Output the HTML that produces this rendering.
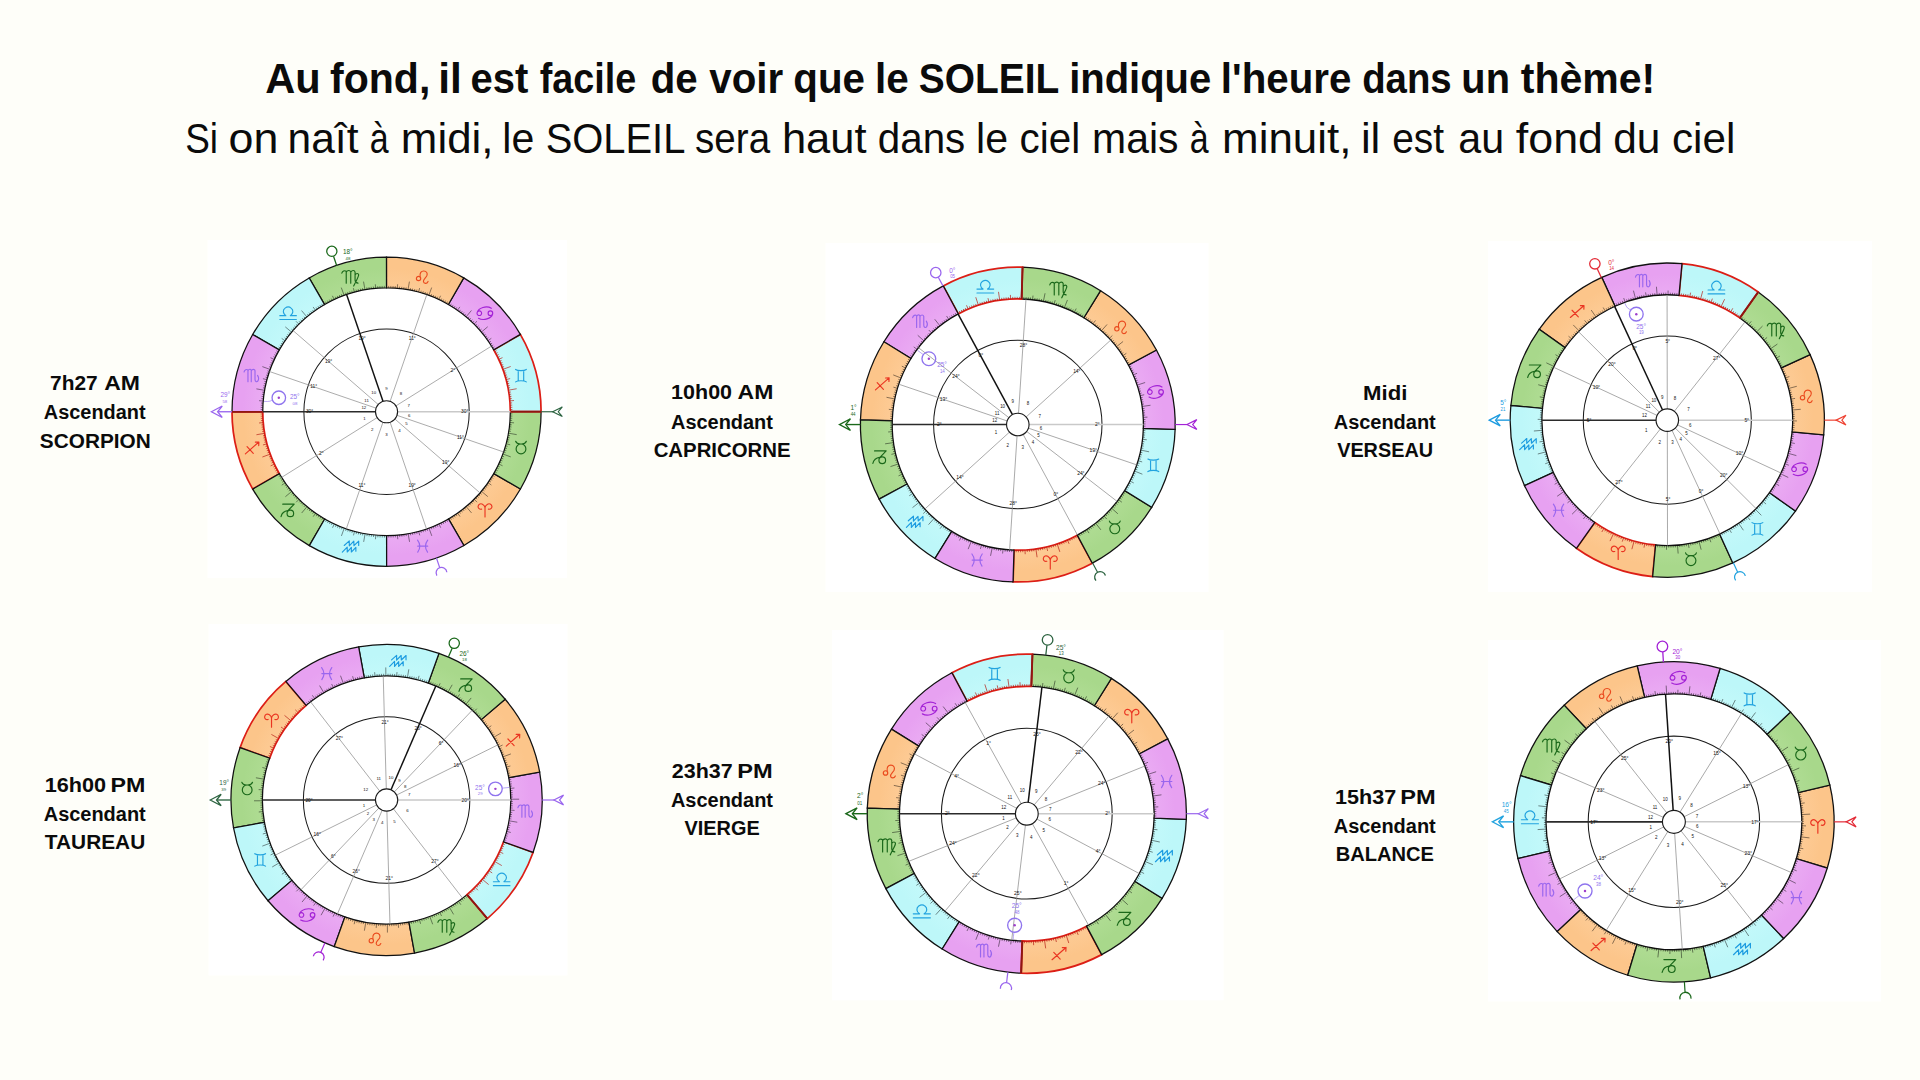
<!DOCTYPE html>
<html lang="fr"><head><meta charset="utf-8"><title>Le SOLEIL indique l'heure dans un thème</title>
<style>html,body{margin:0;padding:0;background:#fefef9}body{width:1920px;height:1080px;overflow:hidden;position:relative;font-family:"Liberation Sans",Arial,sans-serif}svg{position:absolute;left:0;top:0;display:block}text{white-space:pre}</style></head><body>
<svg width="1920" height="1080" viewBox="0 0 1920 1080">
<defs><radialGradient id="gf1" gradientUnits="userSpaceOnUse" cx="386.55" cy="411.75" r="154.55"><stop offset="0.80" stop-color="#fdcb95"/><stop offset="0.93" stop-color="#fcc58a"/><stop offset="1" stop-color="#fcc58a"/></radialGradient><radialGradient id="ge1" gradientUnits="userSpaceOnUse" cx="386.55" cy="411.75" r="154.55"><stop offset="0.80" stop-color="#afdc93"/><stop offset="0.93" stop-color="#a8d88b"/><stop offset="1" stop-color="#a8d88b"/></radialGradient><radialGradient id="ga1" gradientUnits="userSpaceOnUse" cx="386.55" cy="411.75" r="154.55"><stop offset="0.80" stop-color="#c3f9fa"/><stop offset="0.93" stop-color="#bdf7f9"/><stop offset="1" stop-color="#bdf7f9"/></radialGradient><radialGradient id="gw1" gradientUnits="userSpaceOnUse" cx="386.55" cy="411.75" r="154.55"><stop offset="0.80" stop-color="#eaabf3"/><stop offset="0.93" stop-color="#e7a1f1"/><stop offset="1" stop-color="#e7a1f1"/></radialGradient><radialGradient id="gf2" gradientUnits="userSpaceOnUse" cx="1017.8" cy="424.55" r="157.4"><stop offset="0.80" stop-color="#fdcb95"/><stop offset="0.93" stop-color="#fcc58a"/><stop offset="1" stop-color="#fcc58a"/></radialGradient><radialGradient id="ge2" gradientUnits="userSpaceOnUse" cx="1017.8" cy="424.55" r="157.4"><stop offset="0.80" stop-color="#afdc93"/><stop offset="0.93" stop-color="#a8d88b"/><stop offset="1" stop-color="#a8d88b"/></radialGradient><radialGradient id="ga2" gradientUnits="userSpaceOnUse" cx="1017.8" cy="424.55" r="157.4"><stop offset="0.80" stop-color="#c3f9fa"/><stop offset="0.93" stop-color="#bdf7f9"/><stop offset="1" stop-color="#bdf7f9"/></radialGradient><radialGradient id="gw2" gradientUnits="userSpaceOnUse" cx="1017.8" cy="424.55" r="157.4"><stop offset="0.80" stop-color="#eaabf3"/><stop offset="0.93" stop-color="#e7a1f1"/><stop offset="1" stop-color="#e7a1f1"/></radialGradient><radialGradient id="gf3" gradientUnits="userSpaceOnUse" cx="1667.3" cy="420.15" r="157.1"><stop offset="0.80" stop-color="#fdcb95"/><stop offset="0.93" stop-color="#fcc58a"/><stop offset="1" stop-color="#fcc58a"/></radialGradient><radialGradient id="ge3" gradientUnits="userSpaceOnUse" cx="1667.3" cy="420.15" r="157.1"><stop offset="0.80" stop-color="#afdc93"/><stop offset="0.93" stop-color="#a8d88b"/><stop offset="1" stop-color="#a8d88b"/></radialGradient><radialGradient id="ga3" gradientUnits="userSpaceOnUse" cx="1667.3" cy="420.15" r="157.1"><stop offset="0.80" stop-color="#c3f9fa"/><stop offset="0.93" stop-color="#bdf7f9"/><stop offset="1" stop-color="#bdf7f9"/></radialGradient><radialGradient id="gw3" gradientUnits="userSpaceOnUse" cx="1667.3" cy="420.15" r="157.1"><stop offset="0.80" stop-color="#eaabf3"/><stop offset="0.93" stop-color="#e7a1f1"/><stop offset="1" stop-color="#e7a1f1"/></radialGradient><radialGradient id="gf4" gradientUnits="userSpaceOnUse" cx="386.6" cy="800" r="155.6"><stop offset="0.80" stop-color="#fdcb95"/><stop offset="0.93" stop-color="#fcc58a"/><stop offset="1" stop-color="#fcc58a"/></radialGradient><radialGradient id="ge4" gradientUnits="userSpaceOnUse" cx="386.6" cy="800" r="155.6"><stop offset="0.80" stop-color="#afdc93"/><stop offset="0.93" stop-color="#a8d88b"/><stop offset="1" stop-color="#a8d88b"/></radialGradient><radialGradient id="ga4" gradientUnits="userSpaceOnUse" cx="386.6" cy="800" r="155.6"><stop offset="0.80" stop-color="#c3f9fa"/><stop offset="0.93" stop-color="#bdf7f9"/><stop offset="1" stop-color="#bdf7f9"/></radialGradient><radialGradient id="gw4" gradientUnits="userSpaceOnUse" cx="386.6" cy="800" r="155.6"><stop offset="0.80" stop-color="#eaabf3"/><stop offset="0.93" stop-color="#e7a1f1"/><stop offset="1" stop-color="#e7a1f1"/></radialGradient><radialGradient id="gf5" gradientUnits="userSpaceOnUse" cx="1026.8" cy="813.7" r="159.6"><stop offset="0.80" stop-color="#fdcb95"/><stop offset="0.93" stop-color="#fcc58a"/><stop offset="1" stop-color="#fcc58a"/></radialGradient><radialGradient id="ge5" gradientUnits="userSpaceOnUse" cx="1026.8" cy="813.7" r="159.6"><stop offset="0.80" stop-color="#afdc93"/><stop offset="0.93" stop-color="#a8d88b"/><stop offset="1" stop-color="#a8d88b"/></radialGradient><radialGradient id="ga5" gradientUnits="userSpaceOnUse" cx="1026.8" cy="813.7" r="159.6"><stop offset="0.80" stop-color="#c3f9fa"/><stop offset="0.93" stop-color="#bdf7f9"/><stop offset="1" stop-color="#bdf7f9"/></radialGradient><radialGradient id="gw5" gradientUnits="userSpaceOnUse" cx="1026.8" cy="813.7" r="159.6"><stop offset="0.80" stop-color="#eaabf3"/><stop offset="0.93" stop-color="#e7a1f1"/><stop offset="1" stop-color="#e7a1f1"/></radialGradient><radialGradient id="gf6" gradientUnits="userSpaceOnUse" cx="1673.9" cy="821.85" r="160.2"><stop offset="0.80" stop-color="#fdcb95"/><stop offset="0.93" stop-color="#fcc58a"/><stop offset="1" stop-color="#fcc58a"/></radialGradient><radialGradient id="ge6" gradientUnits="userSpaceOnUse" cx="1673.9" cy="821.85" r="160.2"><stop offset="0.80" stop-color="#afdc93"/><stop offset="0.93" stop-color="#a8d88b"/><stop offset="1" stop-color="#a8d88b"/></radialGradient><radialGradient id="ga6" gradientUnits="userSpaceOnUse" cx="1673.9" cy="821.85" r="160.2"><stop offset="0.80" stop-color="#c3f9fa"/><stop offset="0.93" stop-color="#bdf7f9"/><stop offset="1" stop-color="#bdf7f9"/></radialGradient><radialGradient id="gw6" gradientUnits="userSpaceOnUse" cx="1673.9" cy="821.85" r="160.2"><stop offset="0.80" stop-color="#eaabf3"/><stop offset="0.93" stop-color="#e7a1f1"/><stop offset="1" stop-color="#e7a1f1"/></radialGradient></defs>
<rect width="1920" height="1080" fill="#fefef9"/>
<g id="chart1">
<rect x="207.5" y="240" width="359.5" height="338" fill="#fff"/>
<circle cx="386.55" cy="411.75" r="154.55" fill="#fff"/>
<path d="M463.9,545.55A154.55,154.55 0 0 0 520.43,488.95L493.79,473.59A123.79,123.79 0 0 1 448.5,518.93Z" fill="url(#gf1)" stroke="#111" stroke-width="1.26" stroke-linejoin="miter"/>
<path d="M450.36,517.83L451.44,519.62M452.21,516.7L453.31,518.47M454.03,515.54L455.16,517.29M455.83,514.34L457,516.07M457.61,513.12L460,516.54M459.37,511.86L460.59,513.55M461.1,510.58L462.36,512.24M462.82,509.26L464.1,510.9M464.51,507.92L465.82,509.54M466.17,506.54L471.54,512.93M467.82,505.14L469.19,506.71M469.43,503.7L470.83,505.25M471.03,502.24L472.45,503.77M472.59,500.76L474.04,502.26M474.13,499.24L477.08,502.19M475.65,497.7L477.15,499.15M477.13,496.13L478.66,497.55M478.59,494.54L480.14,495.93M480.02,492.92L481.6,494.29M481.42,491.27L487.82,496.64M482.8,489.61L484.42,490.92M484.14,487.91L485.79,489.2M485.46,486.2L487.12,487.45M486.74,484.46L488.43,485.69M487.99,482.7L491.41,485.09M489.22,480.92L490.95,482.09M490.41,479.12L492.16,480.25M491.57,477.3L493.34,478.4M492.7,475.45L494.48,476.53" fill="none" stroke="#000" stroke-opacity="0.62" stroke-width="0.72"/>
<path d="M520.43,488.95A154.55,154.55 0 0 0 541.1,411.67L510.34,411.69A123.79,123.79 0 0 1 493.79,473.59Z" fill="url(#ge1)" stroke="#111" stroke-width="1.26" stroke-linejoin="miter"/>
<path d="M494.85,471.71L496.68,472.72M495.88,469.81L497.73,470.79M496.88,467.89L498.74,468.84M497.84,465.96L499.72,466.87M498.77,464.01L502.56,465.77M499.67,462.04L501.57,462.89M500.53,460.06L502.45,460.87M501.35,458.06L503.29,458.84M502.15,456.05L504.09,456.8M502.9,454.03L510.74,456.88M503.62,451.99L505.59,452.67M504.31,449.94L506.29,450.59M504.95,447.88L506.95,448.49M505.57,445.81L507.57,446.38M506.14,443.73L510.17,444.81M506.68,441.64L508.71,442.14M507.19,439.53L509.22,440M507.65,437.42L509.69,437.86M508.08,435.31L510.13,435.7M508.48,433.18L516.69,434.63M508.83,431.05L510.89,431.38M509.15,428.91L511.22,429.2M509.43,426.77L511.5,427.03M509.67,424.63L511.75,424.84M509.88,422.47L514.04,422.84M510.05,420.32L512.13,420.47M510.18,418.16L512.26,418.27M510.27,416.01L512.36,416.08M510.33,413.85L512.41,413.88" fill="none" stroke="#000" stroke-opacity="0.62" stroke-width="0.72"/>
<path d="M541.1,411.67A154.55,154.55 0 0 0 520.35,334.4L493.73,349.8A123.79,123.79 0 0 1 510.34,411.69Z" fill="url(#ga1)" stroke="#dc1e16" stroke-width="1.74" stroke-linejoin="miter"/>
<path d="M510.32,409.52L512.41,409.49M510.27,407.36L512.35,407.29M510.17,405.21L512.25,405.1M510.04,403.05L512.12,402.9M509.87,400.9L514.02,400.53M509.66,398.75L511.73,398.53M509.41,396.6L511.48,396.34M509.13,394.46L511.2,394.17M508.81,392.32L510.87,391.99M508.45,390.19L516.67,388.74M508.06,388.07L510.11,387.67M507.63,385.95L509.67,385.51M507.16,383.84L509.19,383.37M506.65,381.74L508.68,381.23M506.11,379.65L510.14,378.56M505.53,377.57L507.54,376.99M504.92,375.49L506.91,374.88M504.27,373.43L506.25,372.79M503.58,371.39L505.55,370.7M502.86,369.35L510.7,366.49M502.1,367.33L504.05,366.58M501.31,365.32L503.24,364.53M500.48,363.32L502.4,362.5M499.62,361.34L501.52,360.49M498.72,359.37L502.5,357.61M497.79,357.42L499.66,356.51M496.82,355.49L498.68,354.54M495.82,353.57L497.67,352.59M494.79,351.68L496.62,350.66" fill="none" stroke="#b3150f" stroke-opacity="0.9" stroke-width="0.72"/>
<path d="M520.35,334.4A154.55,154.55 0 0 0 463.75,277.87L448.39,304.51A123.79,123.79 0 0 1 493.73,349.8Z" fill="url(#gw1)" stroke="#111" stroke-width="1.26" stroke-linejoin="miter"/>
<path d="M492.63,347.94L494.42,346.86M491.5,346.09L493.27,344.99M490.34,344.27L492.09,343.14M489.14,342.47L490.87,341.3M487.92,340.69L491.34,338.3M486.66,338.93L488.35,337.71M485.38,337.2L487.04,335.94M484.06,335.48L485.7,334.2M482.72,333.79L484.34,332.48M481.34,332.13L487.73,326.76M479.94,330.48L481.51,329.11M478.5,328.87L480.05,327.47M477.04,327.27L478.57,325.85M475.56,325.71L477.06,324.26M474.04,324.17L476.99,321.22M472.5,322.65L473.95,321.15M470.93,321.17L472.35,319.64M469.34,319.71L470.73,318.16M467.72,318.28L469.09,316.7M466.07,316.88L471.44,310.48M464.41,315.5L465.72,313.88M462.71,314.16L464,312.51M461,312.84L462.25,311.18M459.26,311.56L460.49,309.87M457.5,310.31L459.89,306.89M455.72,309.08L456.89,307.35M453.92,307.89L455.05,306.14M452.1,306.73L453.2,304.96M450.25,305.6L451.33,303.82" fill="none" stroke="#000" stroke-opacity="0.62" stroke-width="0.72"/>
<path d="M463.75,277.87A154.55,154.55 0 0 0 386.47,257.2L386.49,287.96A123.79,123.79 0 0 1 448.39,304.51Z" fill="url(#gf1)" stroke="#111" stroke-width="1.26" stroke-linejoin="miter"/>
<path d="M446.51,303.45L447.52,301.62M444.61,302.42L445.59,300.57M442.69,301.42L443.64,299.56M440.76,300.46L441.67,298.58M438.81,299.53L440.57,295.74M436.84,298.63L437.69,296.73M434.86,297.77L435.67,295.85M432.86,296.95L433.64,295.01M430.85,296.15L431.6,294.21M428.83,295.4L431.68,287.56M426.79,294.68L427.47,292.71M424.74,293.99L425.39,292.01M422.68,293.35L423.29,291.35M420.61,292.73L421.18,290.73M418.53,292.16L419.61,288.13M416.44,291.62L416.94,289.59M414.33,291.11L414.8,289.08M412.22,290.65L412.66,288.61M410.11,290.22L410.5,288.17M407.98,289.82L409.43,281.61M405.85,289.47L406.18,287.41M403.71,289.15L404,287.08M401.57,288.87L401.83,286.8M399.43,288.63L399.64,286.55M397.27,288.42L397.64,284.26M395.12,288.25L395.27,286.17M392.96,288.12L393.07,286.04M390.81,288.03L390.88,285.94M388.65,287.97L388.68,285.89" fill="none" stroke="#000" stroke-opacity="0.62" stroke-width="0.72"/>
<path d="M386.47,257.2A154.55,154.55 0 0 0 309.2,277.95L324.6,304.57A123.79,123.79 0 0 1 386.49,287.96Z" fill="url(#ge1)" stroke="#111" stroke-width="1.26" stroke-linejoin="miter"/>
<path d="M384.32,287.98L384.29,285.89M382.16,288.03L382.09,285.95M380.01,288.13L379.9,286.05M377.85,288.26L377.7,286.18M375.7,288.43L375.33,284.28M373.55,288.64L373.33,286.57M371.4,288.89L371.14,286.82M369.26,289.17L368.97,287.1M367.12,289.49L366.79,287.43M364.99,289.85L363.54,281.63M362.87,290.24L362.47,288.19M360.75,290.67L360.31,288.63M358.64,291.14L358.17,289.11M356.54,291.65L356.03,289.62M354.45,292.19L353.36,288.16M352.37,292.77L351.79,290.76M350.29,293.38L349.68,291.39M348.23,294.03L347.59,292.05M346.19,294.72L345.5,292.75M344.15,295.44L341.29,287.6M342.13,296.2L341.38,294.25M340.12,296.99L339.33,295.06M338.12,297.82L337.3,295.9M336.14,298.68L335.29,296.78M334.17,299.58L332.41,295.8M332.22,300.51L331.31,298.64M330.29,301.48L329.34,299.62M328.37,302.48L327.39,300.63M326.48,303.51L325.46,301.68" fill="none" stroke="#000" stroke-opacity="0.62" stroke-width="0.72"/>
<path d="M309.2,277.95A154.55,154.55 0 0 0 252.67,334.55L279.31,349.91A123.79,123.79 0 0 1 324.6,304.57Z" fill="url(#ga1)" stroke="#111" stroke-width="1.26" stroke-linejoin="miter"/>
<path d="M322.74,305.67L321.66,303.88M320.89,306.8L319.79,305.03M319.07,307.96L317.94,306.21M317.27,309.16L316.1,307.43M315.49,310.38L313.1,306.96M313.73,311.64L312.51,309.95M312,312.92L310.74,311.26M310.28,314.24L309,312.6M308.59,315.58L307.28,313.96M306.93,316.96L301.56,310.57M305.28,318.36L303.91,316.79M303.67,319.8L302.27,318.25M302.07,321.26L300.65,319.73M300.51,322.74L299.06,321.24M298.97,324.26L296.02,321.31M297.45,325.8L295.95,324.35M295.97,327.37L294.44,325.95M294.51,328.96L292.96,327.57M293.08,330.58L291.5,329.21M291.68,332.23L285.28,326.86M290.3,333.89L288.68,332.58M288.96,335.59L287.31,334.3M287.64,337.3L285.98,336.05M286.36,339.04L284.67,337.81M285.11,340.8L281.69,338.41M283.88,342.58L282.15,341.41M282.69,344.38L280.94,343.25M281.53,346.2L279.76,345.1M280.4,348.05L278.62,346.97" fill="none" stroke="#000" stroke-opacity="0.62" stroke-width="0.72"/>
<path d="M252.67,334.55A154.55,154.55 0 0 0 232,411.83L262.76,411.81A123.79,123.79 0 0 1 279.31,349.91Z" fill="url(#gw1)" stroke="#111" stroke-width="1.26" stroke-linejoin="miter"/>
<path d="M278.25,351.79L276.42,350.78M277.22,353.69L275.37,352.71M276.22,355.61L274.36,354.66M275.26,357.54L273.38,356.63M274.33,359.49L270.54,357.73M273.43,361.46L271.53,360.61M272.57,363.44L270.65,362.63M271.75,365.44L269.81,364.66M270.95,367.45L269.01,366.7M270.2,369.47L262.36,366.62M269.48,371.51L267.51,370.83M268.79,373.56L266.81,372.91M268.15,375.62L266.15,375.01M267.53,377.69L265.53,377.12M266.96,379.77L262.93,378.69M266.42,381.86L264.39,381.36M265.91,383.97L263.88,383.5M265.45,386.08L263.41,385.64M265.02,388.19L262.97,387.8M264.62,390.32L256.41,388.87M264.27,392.45L262.21,392.12M263.95,394.59L261.88,394.3M263.67,396.73L261.6,396.47M263.43,398.87L261.35,398.66M263.22,401.03L259.06,400.66M263.05,403.18L260.97,403.03M262.92,405.34L260.84,405.23M262.83,407.49L260.74,407.42M262.77,409.65L260.69,409.62" fill="none" stroke="#000" stroke-opacity="0.62" stroke-width="0.72"/>
<path d="M232,411.83A154.55,154.55 0 0 0 252.75,489.1L279.37,473.7A123.79,123.79 0 0 1 262.76,411.81Z" fill="url(#gf1)" stroke="#dc1e16" stroke-width="1.74" stroke-linejoin="miter"/>
<path d="M262.78,413.98L260.69,414.01M262.83,416.14L260.75,416.21M262.93,418.29L260.85,418.4M263.06,420.45L260.98,420.6M263.23,422.6L259.08,422.97M263.44,424.75L261.37,424.97M263.69,426.9L261.62,427.16M263.97,429.04L261.9,429.33M264.29,431.18L262.23,431.51M264.65,433.31L256.43,434.76M265.04,435.43L262.99,435.83M265.47,437.55L263.43,437.99M265.94,439.66L263.91,440.13M266.45,441.76L264.42,442.27M266.99,443.85L262.96,444.94M267.57,445.93L265.56,446.51M268.18,448.01L266.19,448.62M268.83,450.07L266.85,450.71M269.52,452.11L267.55,452.8M270.24,454.15L262.4,457.01M271,456.17L269.05,456.92M271.79,458.18L269.86,458.97M272.62,460.18L270.7,461M273.48,462.16L271.58,463.01M274.38,464.13L270.6,465.89M275.31,466.08L273.44,466.99M276.28,468.01L274.42,468.96M277.28,469.93L275.43,470.91M278.31,471.82L276.48,472.84" fill="none" stroke="#b3150f" stroke-opacity="0.9" stroke-width="0.72"/>
<path d="M252.75,489.1A154.55,154.55 0 0 0 309.35,545.63L324.71,518.99A123.79,123.79 0 0 1 279.37,473.7Z" fill="url(#ge1)" stroke="#111" stroke-width="1.26" stroke-linejoin="miter"/>
<path d="M280.47,475.56L278.68,476.64M281.6,477.41L279.83,478.51M282.76,479.23L281.01,480.36M283.96,481.03L282.23,482.2M285.18,482.81L281.76,485.2M286.44,484.57L284.75,485.79M287.72,486.3L286.06,487.56M289.04,488.02L287.4,489.3M290.38,489.71L288.76,491.02M291.76,491.37L285.37,496.74M293.16,493.02L291.59,494.39M294.6,494.63L293.05,496.03M296.06,496.23L294.53,497.65M297.54,497.79L296.04,499.24M299.06,499.33L296.11,502.28M300.6,500.85L299.15,502.35M302.17,502.33L300.75,503.86M303.76,503.79L302.37,505.34M305.38,505.22L304.01,506.8M307.03,506.62L301.66,513.02M308.69,508L307.38,509.62M310.39,509.34L309.1,510.99M312.1,510.66L310.85,512.32M313.84,511.94L312.61,513.63M315.6,513.19L313.21,516.61M317.38,514.42L316.21,516.15M319.18,515.61L318.05,517.36M321,516.77L319.9,518.54M322.85,517.9L321.77,519.68" fill="none" stroke="#000" stroke-opacity="0.62" stroke-width="0.72"/>
<path d="M309.35,545.63A154.55,154.55 0 0 0 386.63,566.3L386.61,535.54A123.79,123.79 0 0 1 324.71,518.99Z" fill="url(#ga1)" stroke="#111" stroke-width="1.26" stroke-linejoin="miter"/>
<path d="M326.59,520.05L325.58,521.88M328.49,521.08L327.51,522.93M330.41,522.08L329.46,523.94M332.34,523.04L331.43,524.92M334.29,523.97L332.53,527.76M336.26,524.87L335.41,526.77M338.24,525.73L337.43,527.65M340.24,526.55L339.46,528.49M342.25,527.35L341.5,529.29M344.27,528.1L341.42,535.94M346.31,528.82L345.63,530.79M348.36,529.51L347.71,531.49M350.42,530.15L349.81,532.15M352.49,530.77L351.92,532.77M354.57,531.34L353.49,535.37M356.66,531.88L356.16,533.91M358.77,532.39L358.3,534.42M360.88,532.85L360.44,534.89M362.99,533.28L362.6,535.33M365.12,533.68L363.67,541.89M367.25,534.03L366.92,536.09M369.39,534.35L369.1,536.42M371.53,534.63L371.27,536.7M373.67,534.87L373.46,536.95M375.83,535.08L375.46,539.24M377.98,535.25L377.83,537.33M380.14,535.38L380.03,537.46M382.29,535.47L382.22,537.56M384.45,535.53L384.42,537.61" fill="none" stroke="#000" stroke-opacity="0.62" stroke-width="0.72"/>
<path d="M386.63,566.3A154.55,154.55 0 0 0 463.9,545.55L448.5,518.93A123.79,123.79 0 0 1 386.61,535.54Z" fill="url(#gw1)" stroke="#111" stroke-width="1.26" stroke-linejoin="miter"/>
<path d="M388.78,535.52L388.81,537.61M390.94,535.47L391.01,537.55M393.09,535.37L393.2,537.45M395.25,535.24L395.4,537.32M397.4,535.07L397.77,539.22M399.55,534.86L399.77,536.93M401.7,534.61L401.96,536.68M403.84,534.33L404.13,536.4M405.98,534.01L406.31,536.07M408.11,533.65L409.56,541.87M410.23,533.26L410.63,535.31M412.35,532.83L412.79,534.87M414.46,532.36L414.93,534.39M416.56,531.85L417.07,533.88M418.65,531.31L419.74,535.34M420.73,530.73L421.31,532.74M422.81,530.12L423.42,532.11M424.87,529.47L425.51,531.45M426.91,528.78L427.6,530.75M428.95,528.06L431.81,535.9M430.97,527.3L431.72,529.25M432.98,526.51L433.77,528.44M434.98,525.68L435.8,527.6M436.96,524.82L437.81,526.72M438.93,523.92L440.69,527.7M440.88,522.99L441.79,524.86M442.81,522.02L443.76,523.88M444.73,521.02L445.71,522.87M446.62,519.99L447.64,521.82" fill="none" stroke="#000" stroke-opacity="0.62" stroke-width="0.72"/>
<line x1="510.34" y1="411.69" x2="541.1" y2="411.67" stroke="#8e1612" stroke-width="1.84"/>
<line x1="262.76" y1="411.81" x2="232" y2="411.83" stroke="#8e1612" stroke-width="1.84"/>
<path transform="translate(485.01,510.11) scale(0.94)" d="M-3.6,-1.1C-6.4,-0.4 -7.6,-2.6 -7.3,-4.2C-6.9,-6.6 -4.3,-7.3 -2.7,-6.3C-1.2,-5.4 -0.2,-4 0,-2.6L0,7.2M3.6,-1.1C6.4,-0.4 7.6,-2.6 7.3,-4.2C6.9,-6.6 4.3,-7.3 2.7,-6.3C1.2,-5.4 0.2,-4 0,-2.6" fill="none" stroke="#ea3522" stroke-width="1.22" stroke-linecap="round" stroke-linejoin="round"/>
<path transform="translate(521,447.7) scale(0.94)" d="M-5.7,-6.8C-4.6,-3.6 -2.4,-3.9 0,-3.9C2.4,-3.9 4.6,-3.6 5.7,-6.8M5.2,1.3A5.2,5.2 0 1 1 -5.2,1.3A5.2,5.2 0 1 1 5.2,1.3" fill="none" stroke="#1a681a" stroke-width="1.22" stroke-linecap="round" stroke-linejoin="round"/>
<path transform="translate(520.96,375.66) scale(0.94)" d="M-5.7,-6.6C-3.6,-5 3.6,-5 5.7,-6.6M-5.7,6.6C-3.6,5 3.6,5 5.7,6.6M-2.9,-5.2L-2.9,5.2M2.9,-5.2L2.9,5.2" fill="none" stroke="#22a3df" stroke-width="1.22" stroke-linecap="round" stroke-linejoin="round"/>
<path transform="translate(484.91,313.29) scale(0.94)" d="M-3.5,-0.1A2.45,2.45 0 1 1 -8.4,-0.1A2.45,2.45 0 1 1 -3.5,-0.1M8.3,-0.1A2.45,2.45 0 1 1 3.4,-0.1A2.45,2.45 0 1 1 8.3,-0.1M-8.1,-1.2C-6.8,-5.6 1.5,-8.6 6.8,-5.3M8.1,1.0C6.8,5.4 -1.5,8.4 -6.8,5.3" fill="none" stroke="#a322d6" stroke-width="1.22" stroke-linecap="round" stroke-linejoin="round"/>
<path transform="translate(422.5,277.3) scale(0.94)" d="M-1.9,1.3A2.3,2.3 0 1 1 -6.5,1.3A2.3,2.3 0 1 1 -1.9,1.3M-2.4,-0.4C-3.4,-4.6 -1.2,-6.8 1.4,-6.7C4.2,-6.6 5.8,-4.2 4.6,-1.6C3.4,0.8 0.6,2.4 1,4.6C1.4,6.8 4.6,7.4 5.9,4.4" fill="none" stroke="#ea4a1e" stroke-width="1.22" stroke-linecap="round" stroke-linejoin="round"/>
<path transform="translate(350.46,277.34) scale(0.94)" d="M-9.2,-4.4C-8.6,-6.8 -6.4,-7.8 -4.5,-6.4L-4.5,6.2M-4.5,-5.6C-3,-7.8 -0.6,-7.8 0.3,-6L0.3,6.2M0.3,-5.6C1.8,-7.8 4.4,-7.8 4.9,-5.6L4.9,3C5.2,5 6.4,6 8,6.2M4.9,-2.6C6.2,-4.6 8.4,-4.4 8.7,-2.8C9,-0.8 6.2,3.2 3.4,9.2" fill="none" stroke="#1a681a" stroke-width="1.22" stroke-linecap="round" stroke-linejoin="round"/>
<path transform="translate(288.09,313.39) scale(0.94)" d="M-8.8,6.5L8.8,6.5M-8.8,2.4L-2.4,2.4C-5.6,0.4 -6,-3.6 -3.2,-5.6C-1,-7.2 1.4,-7.2 3.2,-5.6C6,-3.6 5.6,0.4 2.4,2.4L8.8,2.4" fill="none" stroke="#22a3df" stroke-width="1.22" stroke-linecap="round" stroke-linejoin="round"/>
<path transform="translate(252.1,375.8) scale(0.94)" d="M-8.6,-4C-8,-6.4 -5.8,-7.4 -4.4,-6.2L-4.4,6.2M-4.4,-5.4C-3.2,-7.4 -1.4,-7.4 -0.9,-5.8L-0.9,6.2M-0.9,-5.4C0.4,-7.4 2.6,-7.4 3.1,-5.4L3.1,4C3.2,6.4 5.2,7 6.2,5.4C7.2,3.8 7.2,1.8 5.8,-0.4" fill="none" stroke="#9a66ee" stroke-width="1.22" stroke-linecap="round" stroke-linejoin="round"/>
<path transform="translate(252.14,447.84) scale(0.94)" d="M-7.2,6.4L7.2,-6.2M3.4,-6.1L7.2,-6.2L7,-2.4M-5.4,-1.2L1.2,5.8" fill="none" stroke="#ea3522" stroke-width="1.22" stroke-linecap="round" stroke-linejoin="round"/>
<path transform="translate(288.19,510.21) scale(0.94)" d="M-5.8,-6.4L6.4,-6.4L0.4,-0.2M5.8,3.4A3.5,3.5 0 1 1 -1.2,3.4A3.5,3.5 0 1 1 5.8,3.4M-0.4,0.4C-4.4,0.8 -6.8,3.2 -7.6,6.8" fill="none" stroke="#1a681a" stroke-width="1.22" stroke-linecap="round" stroke-linejoin="round"/>
<path transform="translate(350.6,546.2) scale(0.94)" d="M-6.8,-0.8L-1.4,-5.6L-1.4,-0.4L3.4,-5.4L3.6,-0.6L8.6,-5.4L8.6,-0.8M-8.8,6.2L-3.6,0.9L-3.6,6.2L0.8,1.2L0.8,6.2L5.6,1.2L5.6,5.4" fill="none" stroke="#1c9be0" stroke-width="1.22" stroke-linecap="round" stroke-linejoin="round"/>
<path transform="translate(422.64,546.16) scale(0.94)" d="M-5.4,-6.4C-2.4,-2.4 -2.4,2.4 -5.2,6.4M5.4,-6.4C2.4,-2.4 2.4,2.4 5.2,6.4M-5.2,0L5.4,0" fill="none" stroke="#9a66ee" stroke-width="1.22" stroke-linecap="round" stroke-linejoin="round"/>
<circle cx="386.55" cy="411.75" r="82.68" fill="none" stroke="#1a1a1a" stroke-width="1.01"/>
<line x1="375.5" y1="411.75" x2="262.76" y2="411.75" stroke="#2b2b2b" stroke-width="1.5"/>
<line x1="377.18" y1="417.61" x2="281.6" y2="477.41" stroke="#939393" stroke-width="0.77"/>
<line x1="382.96" y1="422.2" x2="346.31" y2="528.82" stroke="#939393" stroke-width="0.77"/>
<line x1="390.12" y1="422.21" x2="426.51" y2="528.92" stroke="#939393" stroke-width="0.77"/>
<line x1="394.89" y1="419" x2="480.02" y2="492.92" stroke="#939393" stroke-width="0.77"/>
<line x1="397" y1="415.34" x2="503.62" y2="451.99" stroke="#939393" stroke-width="0.77"/>
<line x1="397.6" y1="411.75" x2="510.34" y2="411.75" stroke="#c9c9c9" stroke-width="1.45"/>
<line x1="395.92" y1="405.89" x2="491.5" y2="346.09" stroke="#939393" stroke-width="0.77"/>
<line x1="390.14" y1="401.3" x2="426.79" y2="294.68" stroke="#939393" stroke-width="0.77"/>
<line x1="382.98" y1="401.29" x2="346.59" y2="294.58" stroke="#111" stroke-width="1.45"/>
<line x1="378.21" y1="404.5" x2="293.08" y2="330.58" stroke="#939393" stroke-width="0.77"/>
<line x1="376.1" y1="408.16" x2="269.48" y2="371.51" stroke="#939393" stroke-width="0.77"/>
<circle cx="386.55" cy="411.75" r="11.05" fill="#fff" stroke="#1a1a1a" stroke-width="1.11"/>
<g font-family="Liberation Sans, Arial, sans-serif" text-anchor="middle" fill="#111"><text x="309.55" y="413.39" font-size="4.83">30°</text><text x="364.42" y="419.55" font-size="4.35">1</text><text x="321.36" y="454.54" font-size="4.83">2°</text><text x="372.22" y="431.23" font-size="4.35">2</text><text x="361.91" y="486.76" font-size="4.83">11°</text><text x="386.52" y="436.23" font-size="4.35">3</text><text x="412.17" y="486.82" font-size="4.83">19°</text><text x="399.4" y="432.31" font-size="4.35">4</text><text x="445.71" y="464.26" font-size="4.83">19°</text><text x="406.5" y="424.7" font-size="4.35">5</text><text x="460.5" y="438.61" font-size="4.83">11°</text><text x="409.26" y="416.99" font-size="4.35">6</text><text x="464.71" y="413.39" font-size="4.83">30°</text><text x="408.68" y="406.85" font-size="4.35">7</text><text x="452.9" y="372.24" font-size="4.83">2°</text><text x="400.88" y="395.17" font-size="4.35">8</text><text x="412.35" y="340.02" font-size="4.83">11°</text><text x="386.58" y="390.17" font-size="4.35">9</text><text x="362.09" y="339.96" font-size="4.83">19°</text><text x="373.7" y="394.09" font-size="4.35">10</text><text x="328.55" y="362.52" font-size="4.83">19°</text><text x="366.6" y="401.7" font-size="4.35">11</text><text x="313.76" y="388.17" font-size="4.83">11°</text><text x="363.84" y="409.4" font-size="4.35">12</text></g>
<line x1="232" y1="411.75" x2="218.19" y2="411.75" stroke="#9a66ee" stroke-width="1.35"/>
<path d="M211.43,411.75L222.24,406.05L217.61,411.75L222.24,417.45Z" fill="none" stroke="#9a66ee" stroke-width="1.3" stroke-linejoin="miter"/>
<g font-family="Liberation Sans, Arial, sans-serif" text-anchor="middle" fill="#9a66ee"><text x="225.24" y="396.97" font-size="6.38">29°</text><text x="224.85" y="402.86" font-size="4.35">58</text></g>
<line x1="541.1" y1="411.75" x2="553.17" y2="411.75" stroke="#2c6340" stroke-width="1.16"/>
<path d="M552.69,411.75L562.35,406.92L558.29,411.75L562.35,416.58Z" fill="none" stroke="#2c6340" stroke-width="1.16" stroke-linejoin="miter"/>
<line x1="336.67" y1="265.47" x2="333.52" y2="256.24" stroke="#1a681a" stroke-width="1.26"/>
<circle cx="331.83" cy="251.3" r="5.12" fill="none" stroke="#1a681a" stroke-width="1.26"/>
<g font-family="Liberation Sans, Arial, sans-serif" text-anchor="middle" fill="#1a681a"><text x="347.73" y="254.49" font-size="6.38">18°</text><text x="348.02" y="259.51" font-size="4.35">48</text></g>
<line x1="436.43" y1="558.03" x2="439.74" y2="567.72" stroke="#9a66ee" stroke-width="1.16"/>
<path d="M436.84,575.61A5.41,5.41 0 1 1 446.85,572.2" fill="none" stroke="#9a66ee" stroke-width="1.26"/>
<path d="M272.24,399.36Q271.82,402.04 263.97,401.37" fill="none" stroke="#8f74ee" stroke-opacity="0.7" stroke-width="0.87"/>
<circle cx="278.81" cy="397.76" r="6.76" fill="none" stroke="#8f74ee" stroke-width="1.3"/>
<circle cx="278.81" cy="397.76" r="1.21" fill="#a040cc"/>
<g font-family="Liberation Sans, Arial, sans-serif" text-anchor="middle" fill="#8f74ee"><text x="294.73" y="398.92" font-size="6.38">25°</text><text x="295.02" y="404.62" font-size="4.35">08</text></g>
</g>
<g id="chart2">
<rect x="825.5" y="243" width="383" height="349" fill="#fff"/>
<circle cx="1017.8" cy="424.55" r="157.4" fill="#fff"/>
<path d="M1013.05,581.88A157.4,157.4 0 0 0 1092.35,563.18L1077.29,535.17A125.61,125.61 0 0 1 1014.01,550.1Z" fill="url(#gf2)" stroke="#dc1e16" stroke-width="1.77" stroke-linejoin="miter"/>
<path d="M1016.2,550.15L1016.17,552.27M1018.39,550.15L1018.4,552.28M1020.58,550.12L1020.63,552.25M1022.78,550.06L1022.86,552.18M1024.96,549.95L1025.21,554.19M1027.15,549.81L1027.31,551.93M1029.34,549.62L1029.53,551.74M1031.52,549.4L1031.75,551.52M1033.69,549.15L1033.96,551.25M1035.87,548.85L1037.09,557.26M1038.03,548.51L1038.38,550.61M1040.19,548.14L1040.57,550.23M1042.35,547.73L1042.76,549.82M1044.49,547.29L1044.95,549.36M1046.63,546.8L1047.61,550.94M1048.76,546.28L1049.28,548.34M1050.88,545.72L1051.44,547.77M1052.99,545.12L1053.59,547.16M1055.09,544.49L1055.72,546.52M1057.18,543.82L1059.84,551.89M1059.25,543.12L1059.95,545.12M1061.32,542.38L1062.05,544.37M1063.36,541.6L1064.14,543.58M1065.4,540.79L1066.21,542.75M1067.42,539.94L1069.1,543.84M1069.43,539.05L1070.3,540.99M1071.42,538.14L1072.33,540.06M1073.39,537.18L1074.33,539.09M1075.35,536.2L1076.32,538.08" fill="none" stroke="#b3150f" stroke-opacity="0.9" stroke-width="0.74"/>
<path d="M1092.35,563.18A157.4,157.4 0 0 0 1151.67,507.33L1124.63,490.61A125.61,125.61 0 0 1 1077.29,535.17Z" fill="url(#ge2)" stroke="#111" stroke-width="1.28" stroke-linejoin="miter"/>
<path d="M1079.21,534.12L1080.25,535.97M1081.11,533.03L1082.19,534.87M1083,531.91L1084.1,533.72M1084.86,530.75L1086,532.55M1086.71,529.57L1089.04,533.12M1088.53,528.35L1089.72,530.11M1090.33,527.1L1091.56,528.83M1092.11,525.82L1093.36,527.53M1093.86,524.51L1095.15,526.2M1095.6,523.16L1100.86,529.84M1097.31,521.79L1098.65,523.44M1098.99,520.39L1100.36,522.01M1100.65,518.96L1102.05,520.55M1102.29,517.5L1103.71,519.07M1103.89,516.01L1106.81,519.1M1105.48,514.49L1106.96,516.01M1107.03,512.95L1108.54,514.44M1108.56,511.38L1110.1,512.84M1110.06,509.78L1111.63,511.22M1111.54,508.16L1117.88,513.81M1112.98,506.51L1114.59,507.89M1114.4,504.83L1116.03,506.19M1115.78,503.14L1117.44,504.46M1117.14,501.41L1118.82,502.71M1118.47,499.67L1121.87,502.21M1119.76,497.9L1121.49,499.14M1121.03,496.11L1122.77,497.32M1122.26,494.3L1124.03,495.48M1123.46,492.46L1125.25,493.61" fill="none" stroke="#000" stroke-opacity="0.62" stroke-width="0.74"/>
<path d="M1151.67,507.33A157.4,157.4 0 0 0 1175.13,429.3L1143.35,428.34A125.61,125.61 0 0 1 1124.63,490.61Z" fill="url(#ga2)" stroke="#111" stroke-width="1.28" stroke-linejoin="miter"/>
<path d="M1125.77,488.73L1127.59,489.82M1126.87,486.84L1128.72,487.89M1127.94,484.93L1129.81,485.95M1128.98,482.99L1130.86,483.98M1129.98,481.05L1133.78,482.96M1130.95,479.08L1132.87,480M1131.89,477.1L1133.82,477.98M1132.79,475.1L1134.73,475.95M1133.65,473.08L1135.61,473.9M1134.48,471.05L1142.38,474.2M1135.27,469.01L1137.26,469.76M1136.03,466.95L1138.03,467.67M1136.75,464.88L1138.77,465.57M1137.44,462.8L1139.46,463.45M1138.09,460.71L1142.16,461.93M1138.7,458.6L1140.75,459.18M1139.28,456.49L1141.33,457.03M1139.82,454.36L1141.88,454.87M1140.32,452.23L1142.39,452.7M1140.78,450.09L1149.1,451.81M1141.21,447.94L1143.3,448.33M1141.6,445.78L1143.69,446.14M1141.95,443.61L1144.05,443.94M1142.26,441.44L1144.37,441.73M1142.54,439.27L1146.76,439.77M1142.78,437.09L1144.89,437.3M1142.98,434.91L1145.1,435.08M1143.14,432.72L1145.26,432.86M1143.26,430.53L1145.39,430.63" fill="none" stroke="#000" stroke-opacity="0.62" stroke-width="0.74"/>
<path d="M1175.13,429.3A157.4,157.4 0 0 0 1156.43,350L1128.42,365.06A125.61,125.61 0 0 1 1143.35,428.34Z" fill="url(#gw2)" stroke="#111" stroke-width="1.28" stroke-linejoin="miter"/>
<path d="M1143.4,426.15L1145.52,426.18M1143.4,423.96L1145.53,423.95M1143.37,421.77L1145.5,421.72M1143.31,419.57L1145.43,419.49M1143.2,417.39L1147.44,417.14M1143.06,415.2L1145.18,415.04M1142.87,413.01L1144.99,412.82M1142.65,410.83L1144.77,410.6M1142.4,408.66L1144.5,408.39M1142.1,406.48L1150.51,405.26M1141.76,404.32L1143.86,403.97M1141.39,402.16L1143.48,401.78M1140.98,400L1143.07,399.59M1140.54,397.86L1142.61,397.4M1140.05,395.72L1144.19,394.74M1139.53,393.59L1141.59,393.07M1138.97,391.47L1141.02,390.91M1138.37,389.36L1140.41,388.76M1137.74,387.26L1139.77,386.63M1137.07,385.17L1145.14,382.51M1136.37,383.1L1138.37,382.4M1135.63,381.03L1137.62,380.3M1134.85,378.99L1136.83,378.21M1134.04,376.95L1136,376.14M1133.19,374.93L1137.09,373.25M1132.3,372.92L1134.24,372.05M1131.39,370.93L1133.31,370.02M1130.43,368.96L1132.34,368.02M1129.45,367L1131.33,366.03" fill="none" stroke="#000" stroke-opacity="0.62" stroke-width="0.74"/>
<path d="M1156.43,350A157.4,157.4 0 0 0 1100.58,290.68L1083.86,317.72A125.61,125.61 0 0 1 1128.42,365.06Z" fill="url(#gf2)" stroke="#111" stroke-width="1.28" stroke-linejoin="miter"/>
<path d="M1127.37,363.14L1129.22,362.1M1126.28,361.24L1128.12,360.16M1125.16,359.35L1126.97,358.25M1124,357.49L1125.8,356.35M1122.82,355.64L1126.37,353.31M1121.6,353.82L1123.36,352.63M1120.35,352.02L1122.08,350.79M1119.07,350.24L1120.78,348.99M1117.76,348.49L1119.45,347.2M1116.41,346.75L1123.09,341.49M1115.04,345.04L1116.69,343.7M1113.64,343.36L1115.26,341.99M1112.21,341.7L1113.8,340.3M1110.75,340.06L1112.32,338.64M1109.26,338.46L1112.35,335.54M1107.74,336.87L1109.26,335.39M1106.2,335.32L1107.69,333.81M1104.63,333.79L1106.09,332.25M1103.03,332.29L1104.47,330.72M1101.41,330.81L1107.06,324.47M1099.76,329.37L1101.14,327.76M1098.08,327.95L1099.44,326.32M1096.39,326.57L1097.71,324.91M1094.66,325.21L1095.96,323.53M1092.92,323.88L1095.46,320.48M1091.15,322.59L1092.39,320.86M1089.36,321.32L1090.57,319.58M1087.55,320.09L1088.73,318.32M1085.71,318.89L1086.86,317.1" fill="none" stroke="#000" stroke-opacity="0.62" stroke-width="0.74"/>
<path d="M1100.58,290.68A157.4,157.4 0 0 0 1022.55,267.22L1021.59,299A125.61,125.61 0 0 1 1083.86,317.72Z" fill="url(#ge2)" stroke="#111" stroke-width="1.28" stroke-linejoin="miter"/>
<path d="M1081.98,316.58L1083.07,314.76M1080.09,315.48L1081.14,313.63M1078.18,314.41L1079.2,312.54M1076.24,313.37L1077.23,311.49M1074.3,312.37L1076.21,308.57M1072.33,311.4L1073.25,309.48M1070.35,310.46L1071.23,308.53M1068.35,309.56L1069.2,307.62M1066.33,308.7L1067.15,306.74M1064.3,307.87L1067.45,299.97M1062.26,307.08L1063.01,305.09M1060.2,306.32L1060.92,304.32M1058.13,305.6L1058.82,303.58M1056.05,304.91L1056.7,302.89M1053.96,304.26L1055.18,300.19M1051.85,303.65L1052.43,301.6M1049.74,303.07L1050.28,301.02M1047.61,302.53L1048.12,300.47M1045.48,302.03L1045.95,299.96M1043.34,301.57L1045.06,293.25M1041.19,301.14L1041.58,299.05M1039.03,300.75L1039.39,298.66M1036.86,300.4L1037.19,298.3M1034.69,300.09L1034.98,297.98M1032.52,299.81L1033.02,295.59M1030.34,299.57L1030.55,297.46M1028.16,299.37L1028.33,297.25M1025.97,299.21L1026.11,297.09M1023.78,299.09L1023.88,296.96" fill="none" stroke="#000" stroke-opacity="0.62" stroke-width="0.74"/>
<path d="M1022.55,267.22A157.4,157.4 0 0 0 943.25,285.92L958.31,313.93A125.61,125.61 0 0 1 1021.59,299Z" fill="url(#ga2)" stroke="#dc1e16" stroke-width="1.77" stroke-linejoin="miter"/>
<path d="M1019.4,298.95L1019.43,296.83M1017.21,298.95L1017.2,296.82M1015.02,298.98L1014.97,296.85M1012.82,299.04L1012.74,296.92M1010.64,299.15L1010.39,294.91M1008.45,299.29L1008.29,297.17M1006.26,299.48L1006.07,297.36M1004.08,299.7L1003.85,297.58M1001.91,299.95L1001.64,297.85M999.73,300.25L998.51,291.84M997.57,300.59L997.22,298.49M995.41,300.96L995.03,298.87M993.25,301.37L992.84,299.28M991.11,301.81L990.65,299.74M988.97,302.3L987.99,298.16M986.84,302.82L986.32,300.76M984.72,303.38L984.16,301.33M982.61,303.98L982.01,301.94M980.51,304.61L979.88,302.58M978.42,305.28L975.76,297.21M976.35,305.98L975.65,303.98M974.28,306.72L973.55,304.73M972.24,307.5L971.46,305.52M970.2,308.31L969.39,306.35M968.18,309.16L966.5,305.26M966.17,310.05L965.3,308.11M964.18,310.96L963.27,309.04M962.21,311.92L961.27,310.01M960.25,312.9L959.28,311.02" fill="none" stroke="#b3150f" stroke-opacity="0.9" stroke-width="0.74"/>
<path d="M943.25,285.92A157.4,157.4 0 0 0 883.93,341.77L910.97,358.49A125.61,125.61 0 0 1 958.31,313.93Z" fill="url(#gw2)" stroke="#111" stroke-width="1.28" stroke-linejoin="miter"/>
<path d="M956.39,314.98L955.35,313.13M954.49,316.07L953.41,314.23M952.6,317.19L951.5,315.38M950.74,318.35L949.6,316.55M948.89,319.53L946.56,315.98M947.07,320.75L945.88,318.99M945.27,322L944.04,320.27M943.49,323.28L942.24,321.57M941.74,324.59L940.45,322.9M940,325.94L934.74,319.26M938.29,327.31L936.95,325.66M936.61,328.71L935.24,327.09M934.95,330.14L933.55,328.55M933.31,331.6L931.89,330.03M931.71,333.09L928.79,330M930.12,334.61L928.64,333.09M928.57,336.15L927.06,334.66M927.04,337.72L925.5,336.26M925.54,339.32L923.97,337.88M924.06,340.94L917.72,335.29M922.62,342.59L921.01,341.21M921.2,344.27L919.57,342.91M919.82,345.96L918.16,344.64M918.46,347.69L916.78,346.39M917.13,349.43L913.73,346.89M915.84,351.2L914.11,349.96M914.57,352.99L912.83,351.78M913.34,354.8L911.57,353.62M912.14,356.64L910.35,355.49" fill="none" stroke="#000" stroke-opacity="0.62" stroke-width="0.74"/>
<path d="M883.93,341.77A157.4,157.4 0 0 0 860.47,419.8L892.25,420.76A125.61,125.61 0 0 1 910.97,358.49Z" fill="url(#gf2)" stroke="#111" stroke-width="1.28" stroke-linejoin="miter"/>
<path d="M909.83,360.37L908.01,359.28M908.73,362.26L906.88,361.21M907.66,364.17L905.79,363.15M906.62,366.11L904.74,365.12M905.62,368.05L901.82,366.14M904.65,370.02L902.73,369.1M903.71,372L901.78,371.12M902.81,374L900.87,373.15M901.95,376.02L899.99,375.2M901.12,378.05L893.22,374.9M900.33,380.09L898.34,379.34M899.57,382.15L897.57,381.43M898.85,384.22L896.83,383.53M898.16,386.3L896.14,385.65M897.51,388.39L893.44,387.17M896.9,390.5L894.85,389.92M896.32,392.61L894.27,392.07M895.78,394.74L893.72,394.23M895.28,396.87L893.21,396.4M894.82,399.01L886.5,397.29M894.39,401.16L892.3,400.77M894,403.32L891.91,402.96M893.65,405.49L891.55,405.16M893.34,407.66L891.23,407.37M893.06,409.83L888.84,409.33M892.82,412.01L890.71,411.8M892.62,414.19L890.5,414.02M892.46,416.38L890.34,416.24M892.34,418.57L890.21,418.47" fill="none" stroke="#000" stroke-opacity="0.62" stroke-width="0.74"/>
<path d="M860.47,419.8A157.4,157.4 0 0 0 879.17,499.1L907.18,484.04A125.61,125.61 0 0 1 892.25,420.76Z" fill="url(#ge2)" stroke="#111" stroke-width="1.28" stroke-linejoin="miter"/>
<path d="M892.2,422.95L890.08,422.92M892.2,425.14L890.07,425.15M892.23,427.33L890.1,427.38M892.29,429.53L890.17,429.61M892.4,431.71L888.16,431.96M892.54,433.9L890.42,434.06M892.73,436.09L890.61,436.28M892.95,438.27L890.83,438.5M893.2,440.44L891.1,440.71M893.5,442.62L885.09,443.84M893.84,444.78L891.74,445.13M894.21,446.94L892.12,447.32M894.62,449.1L892.53,449.51M895.06,451.24L892.99,451.7M895.55,453.38L891.41,454.36M896.07,455.51L894.01,456.03M896.63,457.63L894.58,458.19M897.23,459.74L895.19,460.34M897.86,461.84L895.83,462.47M898.53,463.93L890.46,466.59M899.23,466L897.23,466.7M899.97,468.07L897.98,468.8M900.75,470.11L898.77,470.89M901.56,472.15L899.6,472.96M902.41,474.17L898.51,475.85M903.3,476.18L901.36,477.05M904.21,478.17L902.29,479.08M905.17,480.14L903.26,481.08M906.15,482.1L904.27,483.07" fill="none" stroke="#000" stroke-opacity="0.62" stroke-width="0.74"/>
<path d="M879.17,499.1A157.4,157.4 0 0 0 935.02,558.42L951.74,531.38A125.61,125.61 0 0 1 907.18,484.04Z" fill="url(#ga2)" stroke="#111" stroke-width="1.28" stroke-linejoin="miter"/>
<path d="M908.23,485.96L906.38,487M909.32,487.86L907.48,488.94M910.44,489.75L908.63,490.85M911.6,491.61L909.8,492.75M912.78,493.46L909.23,495.79M914,495.28L912.24,496.47M915.25,497.08L913.52,498.31M916.53,498.86L914.82,500.11M917.84,500.61L916.15,501.9M919.19,502.35L912.51,507.61M920.56,504.06L918.91,505.4M921.96,505.74L920.34,507.11M923.39,507.4L921.8,508.8M924.85,509.04L923.28,510.46M926.34,510.64L923.25,513.56M927.86,512.23L926.34,513.71M929.4,513.78L927.91,515.29M930.97,515.31L929.51,516.85M932.57,516.81L931.13,518.38M934.19,518.29L928.54,524.63M935.84,519.73L934.46,521.34M937.52,521.15L936.16,522.78M939.21,522.53L937.89,524.19M940.94,523.89L939.64,525.57M942.68,525.22L940.14,528.62M944.45,526.51L943.21,528.24M946.24,527.78L945.03,529.52M948.05,529.01L946.87,530.78M949.89,530.21L948.74,532" fill="none" stroke="#000" stroke-opacity="0.62" stroke-width="0.74"/>
<path d="M935.02,558.42A157.4,157.4 0 0 0 1013.05,581.88L1014.01,550.1A125.61,125.61 0 0 1 951.74,531.38Z" fill="url(#gw2)" stroke="#111" stroke-width="1.28" stroke-linejoin="miter"/>
<path d="M953.62,532.52L952.53,534.34M955.51,533.62L954.46,535.47M957.42,534.69L956.4,536.56M959.36,535.73L958.37,537.61M961.3,536.73L959.39,540.53M963.27,537.7L962.35,539.62M965.25,538.64L964.37,540.57M967.25,539.54L966.4,541.48M969.27,540.4L968.45,542.36M971.3,541.23L968.15,549.13M973.34,542.02L972.59,544.01M975.4,542.78L974.68,544.78M977.47,543.5L976.78,545.52M979.55,544.19L978.9,546.21M981.64,544.84L980.42,548.91M983.75,545.45L983.17,547.5M985.86,546.03L985.32,548.08M987.99,546.57L987.48,548.63M990.12,547.07L989.65,549.14M992.26,547.53L990.54,555.85M994.41,547.96L994.02,550.05M996.57,548.35L996.21,550.44M998.74,548.7L998.41,550.8M1000.91,549.01L1000.62,551.12M1003.08,549.29L1002.58,553.51M1005.26,549.53L1005.05,551.64M1007.44,549.73L1007.27,551.85M1009.63,549.89L1009.49,552.01M1011.82,550.01L1011.72,552.14" fill="none" stroke="#000" stroke-opacity="0.62" stroke-width="0.74"/>
<line x1="1021.59" y1="299" x2="1022.55" y2="267.22" stroke="#8e1612" stroke-width="1.87"/>
<path transform="translate(1050.28,562.27) scale(0.95)" d="M-3.6,-1.1C-6.4,-0.4 -7.6,-2.6 -7.3,-4.2C-6.9,-6.6 -4.3,-7.3 -2.7,-6.3C-1.2,-5.4 -0.2,-4 0,-2.6L0,7.2M3.6,-1.1C6.4,-0.4 7.6,-2.6 7.3,-4.2C6.9,-6.6 4.3,-7.3 2.7,-6.3C1.2,-5.4 0.2,-4 0,-2.6" fill="none" stroke="#ea3522" stroke-width="1.22" stroke-linecap="round" stroke-linejoin="round"/>
<path transform="translate(1114.79,527.58) scale(0.95)" d="M-5.7,-6.8C-4.6,-3.6 -2.4,-3.9 0,-3.9C2.4,-3.9 4.6,-3.6 5.7,-6.8M5.2,1.3A5.2,5.2 0 1 1 -5.2,1.3A5.2,5.2 0 1 1 5.2,1.3" fill="none" stroke="#1a681a" stroke-width="1.22" stroke-linecap="round" stroke-linejoin="round"/>
<path transform="translate(1153.31,465.28) scale(0.95)" d="M-5.7,-6.6C-3.6,-5 3.6,-5 5.7,-6.6M-5.7,6.6C-3.6,5 3.6,5 5.7,6.6M-2.9,-5.2L-2.9,5.2M2.9,-5.2L2.9,5.2" fill="none" stroke="#22a3df" stroke-width="1.22" stroke-linecap="round" stroke-linejoin="round"/>
<path transform="translate(1155.52,392.07) scale(0.95)" d="M-3.5,-0.1A2.45,2.45 0 1 1 -8.4,-0.1A2.45,2.45 0 1 1 -3.5,-0.1M8.3,-0.1A2.45,2.45 0 1 1 3.4,-0.1A2.45,2.45 0 1 1 8.3,-0.1M-8.1,-1.2C-6.8,-5.6 1.5,-8.6 6.8,-5.3M8.1,1.0C6.8,5.4 -1.5,8.4 -6.8,5.3" fill="none" stroke="#a322d6" stroke-width="1.22" stroke-linecap="round" stroke-linejoin="round"/>
<path transform="translate(1120.83,327.56) scale(0.95)" d="M-1.9,1.3A2.3,2.3 0 1 1 -6.5,1.3A2.3,2.3 0 1 1 -1.9,1.3M-2.4,-0.4C-3.4,-4.6 -1.2,-6.8 1.4,-6.7C4.2,-6.6 5.8,-4.2 4.6,-1.6C3.4,0.8 0.6,2.4 1,4.6C1.4,6.8 4.6,7.4 5.9,4.4" fill="none" stroke="#ea4a1e" stroke-width="1.22" stroke-linecap="round" stroke-linejoin="round"/>
<path transform="translate(1058.53,289.04) scale(0.95)" d="M-9.2,-4.4C-8.6,-6.8 -6.4,-7.8 -4.5,-6.4L-4.5,6.2M-4.5,-5.6C-3,-7.8 -0.6,-7.8 0.3,-6L0.3,6.2M0.3,-5.6C1.8,-7.8 4.4,-7.8 4.9,-5.6L4.9,3C5.2,5 6.4,6 8,6.2M4.9,-2.6C6.2,-4.6 8.4,-4.4 8.7,-2.8C9,-0.8 6.2,3.2 3.4,9.2" fill="none" stroke="#1a681a" stroke-width="1.22" stroke-linecap="round" stroke-linejoin="round"/>
<path transform="translate(985.32,286.83) scale(0.95)" d="M-8.8,6.5L8.8,6.5M-8.8,2.4L-2.4,2.4C-5.6,0.4 -6,-3.6 -3.2,-5.6C-1,-7.2 1.4,-7.2 3.2,-5.6C6,-3.6 5.6,0.4 2.4,2.4L8.8,2.4" fill="none" stroke="#22a3df" stroke-width="1.22" stroke-linecap="round" stroke-linejoin="round"/>
<path transform="translate(920.81,321.52) scale(0.95)" d="M-8.6,-4C-8,-6.4 -5.8,-7.4 -4.4,-6.2L-4.4,6.2M-4.4,-5.4C-3.2,-7.4 -1.4,-7.4 -0.9,-5.8L-0.9,6.2M-0.9,-5.4C0.4,-7.4 2.6,-7.4 3.1,-5.4L3.1,4C3.2,6.4 5.2,7 6.2,5.4C7.2,3.8 7.2,1.8 5.8,-0.4" fill="none" stroke="#9a66ee" stroke-width="1.22" stroke-linecap="round" stroke-linejoin="round"/>
<path transform="translate(882.29,383.82) scale(0.95)" d="M-7.2,6.4L7.2,-6.2M3.4,-6.1L7.2,-6.2L7,-2.4M-5.4,-1.2L1.2,5.8" fill="none" stroke="#ea3522" stroke-width="1.22" stroke-linecap="round" stroke-linejoin="round"/>
<path transform="translate(880.08,457.03) scale(0.95)" d="M-5.8,-6.4L6.4,-6.4L0.4,-0.2M5.8,3.4A3.5,3.5 0 1 1 -1.2,3.4A3.5,3.5 0 1 1 5.8,3.4M-0.4,0.4C-4.4,0.8 -6.8,3.2 -7.6,6.8" fill="none" stroke="#1a681a" stroke-width="1.22" stroke-linecap="round" stroke-linejoin="round"/>
<path transform="translate(914.77,521.54) scale(0.95)" d="M-6.8,-0.8L-1.4,-5.6L-1.4,-0.4L3.4,-5.4L3.6,-0.6L8.6,-5.4L8.6,-0.8M-8.8,6.2L-3.6,0.9L-3.6,6.2L0.8,1.2L0.8,6.2L5.6,1.2L5.6,5.4" fill="none" stroke="#1c9be0" stroke-width="1.22" stroke-linecap="round" stroke-linejoin="round"/>
<path transform="translate(977.07,560.06) scale(0.95)" d="M-5.4,-6.4C-2.4,-2.4 -2.4,2.4 -5.2,6.4M5.4,-6.4C2.4,-2.4 2.4,2.4 5.2,6.4M-5.2,0L5.4,0" fill="none" stroke="#9a66ee" stroke-width="1.22" stroke-linecap="round" stroke-linejoin="round"/>
<circle cx="1017.8" cy="424.55" r="84.21" fill="none" stroke="#1a1a1a" stroke-width="1.03"/>
<line x1="1006.55" y1="424.55" x2="892.19" y2="424.55" stroke="#2b2b2b" stroke-width="1.52"/>
<line x1="1009.47" y1="432.12" x2="924.85" y2="509.04" stroke="#939393" stroke-width="0.79"/>
<line x1="1017.07" y1="435.78" x2="1009.63" y2="549.89" stroke="#939393" stroke-width="0.79"/>
<line x1="1023.15" y1="434.45" x2="1077.48" y2="535.07" stroke="#939393" stroke-width="0.79"/>
<line x1="1026.7" y1="431.44" x2="1117.14" y2="501.41" stroke="#939393" stroke-width="0.79"/>
<line x1="1028.46" y1="428.16" x2="1136.75" y2="464.88" stroke="#939393" stroke-width="0.79"/>
<line x1="1029.05" y1="424.55" x2="1143.41" y2="424.55" stroke="#c9c9c9" stroke-width="1.48"/>
<line x1="1026.13" y1="416.98" x2="1110.75" y2="340.06" stroke="#939393" stroke-width="0.79"/>
<line x1="1018.53" y1="413.32" x2="1025.97" y2="299.21" stroke="#939393" stroke-width="0.79"/>
<line x1="1012.45" y1="414.65" x2="958.12" y2="314.03" stroke="#111" stroke-width="1.48"/>
<line x1="1008.9" y1="417.66" x2="918.46" y2="347.69" stroke="#939393" stroke-width="0.79"/>
<line x1="1007.14" y1="420.94" x2="898.85" y2="384.22" stroke="#939393" stroke-width="0.79"/>
<circle cx="1017.8" cy="424.55" r="11.25" fill="#fff" stroke="#1a1a1a" stroke-width="1.13"/>
<g font-family="Liberation Sans, Arial, sans-serif" text-anchor="middle" fill="#111"><text x="939.38" y="426.22" font-size="4.92">2°</text><text x="995.92" y="434.48" font-size="4.43">1</text><text x="959.92" y="479.37" font-size="4.92">14°</text><text x="1007.62" y="447.15" font-size="4.43">2</text><text x="1013.25" y="505.07" font-size="4.92">28°</text><text x="1022.8" y="448.94" font-size="4.43">3</text><text x="1055.94" y="495.75" font-size="4.92">0°</text><text x="1032.98" y="443.91" font-size="4.43">4</text><text x="1080.88" y="474.57" font-size="4.92">24°</text><text x="1038.46" y="437.12" font-size="4.43">5</text><text x="1093.22" y="451.59" font-size="4.92">13°</text><text x="1040.94" y="429.84" font-size="4.43">6</text><text x="1097.41" y="426.22" font-size="4.92">2°</text><text x="1039.68" y="417.57" font-size="4.43">7</text><text x="1076.86" y="373.08" font-size="4.92">14°</text><text x="1027.98" y="404.9" font-size="4.43">8</text><text x="1023.53" y="347.37" font-size="4.92">28°</text><text x="1012.8" y="403.11" font-size="4.43">9</text><text x="980.85" y="356.7" font-size="4.92">0°</text><text x="1002.62" y="408.14" font-size="4.43">10</text><text x="955.9" y="377.87" font-size="4.92">24°</text><text x="997.14" y="414.93" font-size="4.43">11</text><text x="943.56" y="400.85" font-size="4.92">13°</text><text x="994.66" y="422.21" font-size="4.43">12</text></g>
<line x1="860.4" y1="424.55" x2="846.33" y2="424.55" stroke="#1a681a" stroke-width="1.38"/>
<path d="M839.45,424.55L850.46,418.75L845.74,424.55L850.46,430.35Z" fill="none" stroke="#1a681a" stroke-width="1.33" stroke-linejoin="miter"/>
<g font-family="Liberation Sans, Arial, sans-serif" text-anchor="middle" fill="#1a681a"><text x="853.51" y="409.5" font-size="6.49">1°</text><text x="853.12" y="415.5" font-size="4.43">44</text></g>
<line x1="1175.2" y1="424.55" x2="1187.5" y2="424.55" stroke="#a322d6" stroke-width="1.18"/>
<path d="M1187.01,424.55L1196.84,419.63L1192.71,424.55L1196.84,429.47Z" fill="none" stroke="#a322d6" stroke-width="1.18" stroke-linejoin="miter"/>
<line x1="943.01" y1="286.05" x2="938.29" y2="277.31" stroke="#9a66ee" stroke-width="1.28"/>
<circle cx="935.76" cy="272.64" r="5.21" fill="none" stroke="#9a66ee" stroke-width="1.28"/>
<g font-family="Liberation Sans, Arial, sans-serif" text-anchor="middle" fill="#9a66ee"><text x="952.29" y="273.14" font-size="6.49">0°</text><text x="952.58" y="278.26" font-size="4.43">05</text></g>
<line x1="1092.59" y1="563.05" x2="1097.55" y2="572.22" stroke="#2c6340" stroke-width="1.18"/>
<path d="M1095.97,580.64A5.51,5.51 0 1 1 1105.45,575.52" fill="none" stroke="#2c6340" stroke-width="1.28"/>
<path d="M923.32,354.64Q923.54,354.8 917.46,350.31" fill="none" stroke="#8f74ee" stroke-opacity="0.7" stroke-width="0.89"/>
<circle cx="928.85" cy="358.73" r="6.89" fill="none" stroke="#8f74ee" stroke-width="1.33"/>
<circle cx="928.85" cy="358.73" r="1.23" fill="#a040cc"/>
<g font-family="Liberation Sans, Arial, sans-serif" text-anchor="middle" fill="#8f74ee"><text x="942.05" y="367.4" font-size="6.49">25°</text><text x="942.35" y="373.2" font-size="4.43">14</text></g>
</g>
<g id="chart3">
<rect x="1488" y="241" width="384" height="351" fill="#fff"/>
<circle cx="1667.3" cy="420.15" r="157.1" fill="#fff"/>
<path d="M1576.41,548.29A157.1,157.1 0 0 0 1652.65,576.57L1655.61,544.97A125.37,125.37 0 0 1 1594.77,522.4Z" fill="url(#gf3)" stroke="#dc1e16" stroke-width="1.77" stroke-linejoin="miter"/>
<path d="M1596.56,523.65L1595.37,525.4M1598.38,524.87L1597.21,526.64M1600.22,526.06L1599.08,527.85M1602.08,527.21L1600.97,529.02M1603.96,528.34L1601.81,532M1605.85,529.42L1604.81,531.27M1607.77,530.48L1606.76,532.35M1609.7,531.5L1608.73,533.39M1611.66,532.49L1610.71,534.39M1613.63,533.44L1609.99,541.11M1615.61,534.36L1614.74,536.3M1617.61,535.25L1616.77,537.2M1619.63,536.1L1618.82,538.06M1621.66,536.91L1620.89,538.89M1623.7,537.69L1622.23,541.67M1625.76,538.43L1625.06,540.44M1627.83,539.14L1627.16,541.15M1629.91,539.81L1629.28,541.84M1632.01,540.45L1631.41,542.48M1634.11,541.04L1631.87,549.22M1636.23,541.6L1635.7,543.66M1638.35,542.13L1637.86,544.19M1640.49,542.61L1640.03,544.69M1642.63,543.06L1642.21,545.14M1644.78,543.48L1644.01,547.65M1646.93,543.85L1646.59,545.94M1649.09,544.19L1648.79,546.29M1651.26,544.49L1650.99,546.59M1653.43,544.75L1653.2,546.85" fill="none" stroke="#b3150f" stroke-opacity="0.9" stroke-width="0.74"/>
<path d="M1652.65,576.57A157.1,157.1 0 0 0 1732.82,562.93L1719.59,534.09A125.37,125.37 0 0 1 1655.61,544.97Z" fill="url(#ge3)" stroke="#111" stroke-width="1.28" stroke-linejoin="miter"/>
<path d="M1657.79,545.15L1657.63,547.27M1659.97,545.3L1659.85,547.42M1662.16,545.41L1662.07,547.53M1664.35,545.48L1664.3,547.6M1666.53,545.51L1666.51,549.76M1668.72,545.51L1668.75,547.63M1670.91,545.46L1670.97,547.58M1673.1,545.38L1673.19,547.5M1675.28,545.26L1675.42,547.38M1677.46,545.1L1678.15,553.56M1679.64,544.91L1679.85,547.02M1681.82,544.67L1682.06,546.78M1683.99,544.4L1684.27,546.5M1686.15,544.09L1686.47,546.19M1688.31,543.74L1689.03,547.92M1690.47,543.36L1690.86,545.44M1692.62,542.93L1693.04,545.01M1694.75,542.47L1695.22,544.54M1696.89,541.97L1697.39,544.04M1699.01,541.44L1701.15,549.65M1701.12,540.87L1701.69,542.91M1703.22,540.26L1703.83,542.29M1705.31,539.61L1705.95,541.64M1707.39,538.93L1708.07,540.94M1709.46,538.22L1710.88,542.21M1711.51,537.46L1712.26,539.45M1713.55,536.67L1714.33,538.64M1715.58,535.85L1716.4,537.8M1717.59,534.99L1718.44,536.93" fill="none" stroke="#000" stroke-opacity="0.62" stroke-width="0.74"/>
<path d="M1732.82,562.93A157.1,157.1 0 0 0 1795.44,511.04L1769.55,492.68A125.37,125.37 0 0 1 1719.59,534.09Z" fill="url(#ga3)" stroke="#111" stroke-width="1.28" stroke-linejoin="miter"/>
<path d="M1721.57,533.16L1722.49,535.07M1723.53,532.2L1724.48,534.09M1725.48,531.2L1726.46,533.08M1727.41,530.17L1728.42,532.03M1729.32,529.1L1731.42,532.79M1731.21,528L1732.29,529.83M1733.08,526.87L1734.2,528.68M1734.94,525.71L1736.08,527.49M1736.77,524.51L1737.94,526.27M1738.58,523.28L1743.4,530.26M1740.37,522.02L1741.6,523.74M1742.13,520.73L1743.4,522.43M1743.88,519.41L1745.17,521.09M1745.6,518.06L1746.92,519.71M1747.3,516.68L1750,519.94M1748.97,515.27L1750.35,516.87M1750.62,513.83L1752.02,515.41M1752.24,512.36L1753.67,513.92M1753.83,510.86L1755.3,512.4M1755.4,509.34L1761.37,515.37M1756.95,507.79L1758.46,509.27M1758.46,506.21L1760,507.66M1759.95,504.6L1761.52,506.03M1761.41,502.97L1763,504.37M1762.84,501.32L1766.07,504.07M1764.24,499.64L1765.88,500.98M1765.62,497.93L1767.28,499.25M1766.96,496.21L1768.64,497.49M1768.27,494.46L1769.98,495.71" fill="none" stroke="#000" stroke-opacity="0.62" stroke-width="0.74"/>
<path d="M1795.44,511.04A157.1,157.1 0 0 0 1823.72,434.8L1792.12,431.84A125.37,125.37 0 0 1 1769.55,492.68Z" fill="url(#gw3)" stroke="#111" stroke-width="1.28" stroke-linejoin="miter"/>
<path d="M1770.8,490.89L1772.55,492.08M1772.02,489.07L1773.79,490.24M1773.21,487.23L1775,488.37M1774.36,485.37L1776.17,486.48M1775.49,483.49L1779.15,485.64M1776.57,481.6L1778.42,482.64M1777.63,479.68L1779.5,480.69M1778.65,477.75L1780.54,478.72M1779.64,475.79L1781.54,476.74M1780.59,473.82L1788.26,477.46M1781.51,471.84L1783.45,472.71M1782.4,469.84L1784.35,470.68M1783.25,467.82L1785.21,468.63M1784.06,465.79L1786.04,466.56M1784.84,463.75L1788.82,465.22M1785.58,461.69L1787.59,462.39M1786.29,459.62L1788.3,460.29M1786.96,457.54L1788.99,458.17M1787.6,455.44L1789.63,456.04M1788.19,453.34L1796.37,455.58M1788.75,451.22L1790.81,451.75M1789.28,449.1L1791.34,449.59M1789.76,446.96L1791.84,447.42M1790.21,444.82L1792.29,445.24M1790.63,442.67L1794.8,443.44M1791,440.52L1793.09,440.86M1791.34,438.36L1793.44,438.66M1791.64,436.19L1793.74,436.46M1791.9,434.02L1794,434.25" fill="none" stroke="#000" stroke-opacity="0.62" stroke-width="0.74"/>
<path d="M1823.72,434.8A157.1,157.1 0 0 0 1810.08,354.63L1781.24,367.86A125.37,125.37 0 0 1 1792.12,431.84Z" fill="url(#gf3)" stroke="#111" stroke-width="1.28" stroke-linejoin="miter"/>
<path d="M1792.3,429.66L1794.42,429.82M1792.45,427.48L1794.57,427.6M1792.56,425.29L1794.68,425.38M1792.63,423.1L1794.75,423.15M1792.66,420.92L1796.91,420.94M1792.66,418.73L1794.78,418.7M1792.61,416.54L1794.73,416.48M1792.53,414.35L1794.65,414.26M1792.41,412.17L1794.53,412.03M1792.25,409.99L1800.71,409.3M1792.06,407.81L1794.17,407.6M1791.82,405.63L1793.93,405.39M1791.55,403.46L1793.65,403.18M1791.24,401.3L1793.34,400.98M1790.89,399.14L1795.07,398.42M1790.51,396.98L1792.59,396.59M1790.08,394.83L1792.16,394.41M1789.62,392.7L1791.69,392.23M1789.12,390.56L1791.19,390.06M1788.59,388.44L1796.8,386.3M1788.02,386.33L1790.06,385.76M1787.41,384.23L1789.44,383.62M1786.76,382.14L1788.79,381.5M1786.08,380.06L1788.09,379.38M1785.37,377.99L1789.36,376.57M1784.61,375.94L1786.6,375.19M1783.82,373.9L1785.79,373.12M1783,371.87L1784.95,371.05M1782.14,369.86L1784.08,369.01" fill="none" stroke="#000" stroke-opacity="0.62" stroke-width="0.74"/>
<path d="M1810.08,354.63A157.1,157.1 0 0 0 1758.19,292.01L1739.83,317.9A125.37,125.37 0 0 1 1781.24,367.86Z" fill="url(#ge3)" stroke="#111" stroke-width="1.28" stroke-linejoin="miter"/>
<path d="M1780.31,365.88L1782.22,364.96M1779.35,363.92L1781.24,362.97M1778.35,361.97L1780.23,360.99M1777.32,360.04L1779.18,359.03M1776.25,358.13L1779.94,356.03M1775.15,356.24L1776.98,355.16M1774.02,354.37L1775.83,353.25M1772.86,352.51L1774.64,351.37M1771.66,350.68L1773.42,349.51M1770.43,348.87L1777.41,344.05M1769.17,347.08L1770.89,345.85M1767.88,345.32L1769.58,344.05M1766.56,343.57L1768.24,342.28M1765.21,341.85L1766.86,340.53M1763.83,340.15L1767.09,337.45M1762.42,338.48L1764.02,337.1M1760.98,336.83L1762.56,335.43M1759.51,335.21L1761.07,333.78M1758.01,333.62L1759.55,332.15M1756.49,332.05L1762.52,326.08M1754.94,330.5L1756.42,328.99M1753.36,328.99L1754.81,327.45M1751.75,327.5L1753.18,325.93M1750.12,326.04L1751.52,324.45M1748.47,324.61L1751.22,321.38M1746.79,323.21L1748.13,321.57M1745.08,321.83L1746.4,320.17M1743.36,320.49L1744.64,318.81M1741.61,319.18L1742.86,317.47" fill="none" stroke="#000" stroke-opacity="0.62" stroke-width="0.74"/>
<path d="M1758.19,292.01A157.1,157.1 0 0 0 1681.95,263.73L1678.99,295.33A125.37,125.37 0 0 1 1739.83,317.9Z" fill="url(#ga3)" stroke="#dc1e16" stroke-width="1.77" stroke-linejoin="miter"/>
<path d="M1738.04,316.65L1739.23,314.9M1736.22,315.43L1737.39,313.66M1734.38,314.24L1735.52,312.45M1732.52,313.09L1733.63,311.28M1730.64,311.96L1732.79,308.3M1728.75,310.88L1729.79,309.03M1726.83,309.82L1727.84,307.95M1724.9,308.8L1725.87,306.91M1722.94,307.81L1723.89,305.91M1720.97,306.86L1724.61,299.19M1718.99,305.94L1719.86,304M1716.99,305.05L1717.83,303.1M1714.97,304.2L1715.78,302.24M1712.94,303.39L1713.71,301.41M1710.9,302.61L1712.37,298.63M1708.84,301.87L1709.54,299.86M1706.77,301.16L1707.44,299.15M1704.69,300.49L1705.32,298.46M1702.59,299.85L1703.19,297.82M1700.49,299.26L1702.73,291.08M1698.37,298.7L1698.9,296.64M1696.25,298.17L1696.74,296.11M1694.11,297.69L1694.57,295.61M1691.97,297.24L1692.39,295.16M1689.82,296.82L1690.59,292.65M1687.67,296.45L1688.01,294.36M1685.51,296.11L1685.81,294.01M1683.34,295.81L1683.61,293.71M1681.17,295.55L1681.4,293.45" fill="none" stroke="#b3150f" stroke-opacity="0.9" stroke-width="0.74"/>
<path d="M1681.95,263.73A157.1,157.1 0 0 0 1601.78,277.37L1615.01,306.21A125.37,125.37 0 0 1 1678.99,295.33Z" fill="url(#gw3)" stroke="#111" stroke-width="1.28" stroke-linejoin="miter"/>
<path d="M1676.81,295.15L1676.97,293.03M1674.63,295L1674.75,292.88M1672.44,294.89L1672.53,292.77M1670.25,294.82L1670.3,292.7M1668.07,294.79L1668.09,290.54M1665.88,294.79L1665.85,292.67M1663.69,294.84L1663.63,292.72M1661.5,294.92L1661.41,292.8M1659.32,295.04L1659.18,292.92M1657.14,295.2L1656.45,286.74M1654.96,295.39L1654.75,293.28M1652.78,295.63L1652.54,293.52M1650.61,295.9L1650.33,293.8M1648.45,296.21L1648.13,294.11M1646.29,296.56L1645.57,292.38M1644.13,296.94L1643.74,294.86M1641.98,297.37L1641.56,295.29M1639.85,297.83L1639.38,295.76M1637.71,298.33L1637.21,296.26M1635.59,298.86L1633.45,290.65M1633.48,299.43L1632.91,297.39M1631.38,300.04L1630.77,298.01M1629.29,300.69L1628.65,298.66M1627.21,301.37L1626.53,299.36M1625.14,302.08L1623.72,298.09M1623.09,302.84L1622.34,300.85M1621.05,303.63L1620.27,301.66M1619.02,304.45L1618.2,302.5M1617.01,305.31L1616.16,303.37" fill="none" stroke="#000" stroke-opacity="0.62" stroke-width="0.74"/>
<path d="M1601.78,277.37A157.1,157.1 0 0 0 1539.16,329.26L1565.05,347.62A125.37,125.37 0 0 1 1615.01,306.21Z" fill="url(#gf3)" stroke="#111" stroke-width="1.28" stroke-linejoin="miter"/>
<path d="M1613.03,307.14L1612.11,305.23M1611.07,308.1L1610.12,306.21M1609.12,309.1L1608.14,307.22M1607.19,310.13L1606.18,308.27M1605.28,311.2L1603.18,307.51M1603.39,312.3L1602.31,310.47M1601.52,313.43L1600.4,311.62M1599.66,314.59L1598.52,312.81M1597.83,315.79L1596.66,314.03M1596.02,317.02L1591.2,310.04M1594.23,318.28L1593,316.56M1592.47,319.57L1591.2,317.87M1590.72,320.89L1589.43,319.21M1589,322.24L1587.68,320.59M1587.3,323.62L1584.6,320.36M1585.63,325.03L1584.25,323.43M1583.98,326.47L1582.58,324.89M1582.36,327.94L1580.93,326.38M1580.77,329.44L1579.3,327.9M1579.2,330.96L1573.23,324.93M1577.65,332.51L1576.14,331.03M1576.14,334.09L1574.6,332.64M1574.65,335.7L1573.08,334.27M1573.19,337.33L1571.6,335.93M1571.76,338.98L1568.53,336.23M1570.36,340.66L1568.72,339.32M1568.98,342.37L1567.32,341.05M1567.64,344.09L1565.96,342.81M1566.33,345.84L1564.62,344.59" fill="none" stroke="#000" stroke-opacity="0.62" stroke-width="0.74"/>
<path d="M1539.16,329.26A157.1,157.1 0 0 0 1510.88,405.5L1542.48,408.46A125.37,125.37 0 0 1 1565.05,347.62Z" fill="url(#ge3)" stroke="#111" stroke-width="1.28" stroke-linejoin="miter"/>
<path d="M1563.8,349.41L1562.05,348.22M1562.58,351.23L1560.81,350.06M1561.39,353.07L1559.6,351.93M1560.24,354.93L1558.43,353.82M1559.11,356.81L1555.45,354.66M1558.03,358.7L1556.18,357.66M1556.97,360.62L1555.1,359.61M1555.95,362.55L1554.06,361.58M1554.96,364.51L1553.06,363.56M1554.01,366.48L1546.34,362.84M1553.09,368.46L1551.15,367.59M1552.2,370.46L1550.25,369.62M1551.35,372.48L1549.39,371.67M1550.54,374.51L1548.56,373.74M1549.76,376.55L1545.78,375.08M1549.02,378.61L1547.01,377.91M1548.31,380.68L1546.3,380.01M1547.64,382.76L1545.61,382.13M1547,384.86L1544.97,384.26M1546.41,386.96L1538.23,384.72M1545.85,389.08L1543.79,388.55M1545.32,391.2L1543.26,390.71M1544.84,393.34L1542.76,392.88M1544.39,395.48L1542.31,395.06M1543.97,397.63L1539.8,396.86M1543.6,399.78L1541.51,399.44M1543.26,401.94L1541.16,401.64M1542.96,404.11L1540.86,403.84M1542.7,406.28L1540.6,406.05" fill="none" stroke="#000" stroke-opacity="0.62" stroke-width="0.74"/>
<path d="M1510.88,405.5A157.1,157.1 0 0 0 1524.52,485.67L1553.36,472.44A125.37,125.37 0 0 1 1542.48,408.46Z" fill="url(#ga3)" stroke="#111" stroke-width="1.28" stroke-linejoin="miter"/>
<path d="M1542.3,410.64L1540.18,410.48M1542.15,412.82L1540.03,412.7M1542.04,415.01L1539.92,414.92M1541.97,417.2L1539.85,417.15M1541.94,419.38L1537.69,419.36M1541.94,421.57L1539.82,421.6M1541.99,423.76L1539.87,423.82M1542.07,425.95L1539.95,426.04M1542.19,428.13L1540.07,428.27M1542.35,430.31L1533.89,431M1542.54,432.49L1540.43,432.7M1542.78,434.67L1540.67,434.91M1543.05,436.84L1540.95,437.12M1543.36,439L1541.26,439.32M1543.71,441.16L1539.53,441.88M1544.09,443.32L1542.01,443.71M1544.52,445.47L1542.44,445.89M1544.98,447.6L1542.91,448.07M1545.48,449.74L1543.41,450.24M1546.01,451.86L1537.8,454M1546.58,453.97L1544.54,454.54M1547.19,456.07L1545.16,456.68M1547.84,458.16L1545.81,458.8M1548.52,460.24L1546.51,460.92M1549.23,462.31L1545.24,463.73M1549.99,464.36L1548,465.11M1550.78,466.4L1548.81,467.18M1551.6,468.43L1549.65,469.25M1552.46,470.44L1550.52,471.29" fill="none" stroke="#000" stroke-opacity="0.62" stroke-width="0.74"/>
<path d="M1524.52,485.67A157.1,157.1 0 0 0 1576.41,548.29L1594.77,522.4A125.37,125.37 0 0 1 1553.36,472.44Z" fill="url(#gw3)" stroke="#111" stroke-width="1.28" stroke-linejoin="miter"/>
<path d="M1554.29,474.42L1552.38,475.34M1555.25,476.38L1553.36,477.33M1556.25,478.33L1554.37,479.31M1557.28,480.26L1555.42,481.27M1558.35,482.17L1554.66,484.27M1559.45,484.06L1557.62,485.14M1560.58,485.93L1558.77,487.05M1561.74,487.79L1559.96,488.93M1562.94,489.62L1561.18,490.79M1564.17,491.43L1557.19,496.25M1565.43,493.22L1563.71,494.45M1566.72,494.98L1565.02,496.25M1568.04,496.73L1566.36,498.02M1569.39,498.45L1567.74,499.77M1570.77,500.15L1567.51,502.85M1572.18,501.82L1570.58,503.2M1573.62,503.47L1572.04,504.87M1575.09,505.09L1573.53,506.52M1576.59,506.68L1575.05,508.15M1578.11,508.25L1572.08,514.22M1579.66,509.8L1578.18,511.31M1581.24,511.31L1579.79,512.85M1582.85,512.8L1581.42,514.37M1584.48,514.26L1583.08,515.85M1586.13,515.69L1583.38,518.92M1587.81,517.09L1586.47,518.73M1589.52,518.47L1588.2,520.13M1591.24,519.81L1589.96,521.49M1592.99,521.12L1591.74,522.83" fill="none" stroke="#000" stroke-opacity="0.62" stroke-width="0.74"/>
<line x1="1739.83" y1="317.9" x2="1758.19" y2="292.01" stroke="#8e1612" stroke-width="1.87"/>
<path transform="translate(1618.19,552.57) scale(0.95)" d="M-3.6,-1.1C-6.4,-0.4 -7.6,-2.6 -7.3,-4.2C-6.9,-6.6 -4.3,-7.3 -2.7,-6.3C-1.2,-5.4 -0.2,-4 0,-2.6L0,7.2M3.6,-1.1C6.4,-0.4 7.6,-2.6 7.3,-4.2C6.9,-6.6 4.3,-7.3 2.7,-6.3C1.2,-5.4 0.2,-4 0,-2.6" fill="none" stroke="#ea3522" stroke-width="1.22" stroke-linecap="round" stroke-linejoin="round"/>
<path transform="translate(1690.97,559.38) scale(0.95)" d="M-5.7,-6.8C-4.6,-3.6 -2.4,-3.9 0,-3.9C2.4,-3.9 4.6,-3.6 5.7,-6.8M5.2,1.3A5.2,5.2 0 1 1 -5.2,1.3A5.2,5.2 0 1 1 5.2,1.3" fill="none" stroke="#1a681a" stroke-width="1.22" stroke-linecap="round" stroke-linejoin="round"/>
<path transform="translate(1757.42,528.89) scale(0.95)" d="M-5.7,-6.6C-3.6,-5 3.6,-5 5.7,-6.6M-5.7,6.6C-3.6,5 3.6,5 5.7,6.6M-2.9,-5.2L-2.9,5.2M2.9,-5.2L2.9,5.2" fill="none" stroke="#22a3df" stroke-width="1.22" stroke-linecap="round" stroke-linejoin="round"/>
<path transform="translate(1799.72,469.26) scale(0.95)" d="M-3.5,-0.1A2.45,2.45 0 1 1 -8.4,-0.1A2.45,2.45 0 1 1 -3.5,-0.1M8.3,-0.1A2.45,2.45 0 1 1 3.4,-0.1A2.45,2.45 0 1 1 8.3,-0.1M-8.1,-1.2C-6.8,-5.6 1.5,-8.6 6.8,-5.3M8.1,1.0C6.8,5.4 -1.5,8.4 -6.8,5.3" fill="none" stroke="#a322d6" stroke-width="1.22" stroke-linecap="round" stroke-linejoin="round"/>
<path transform="translate(1806.53,396.48) scale(0.95)" d="M-1.9,1.3A2.3,2.3 0 1 1 -6.5,1.3A2.3,2.3 0 1 1 -1.9,1.3M-2.4,-0.4C-3.4,-4.6 -1.2,-6.8 1.4,-6.7C4.2,-6.6 5.8,-4.2 4.6,-1.6C3.4,0.8 0.6,2.4 1,4.6C1.4,6.8 4.6,7.4 5.9,4.4" fill="none" stroke="#ea4a1e" stroke-width="1.22" stroke-linecap="round" stroke-linejoin="round"/>
<path transform="translate(1776.04,330.03) scale(0.95)" d="M-9.2,-4.4C-8.6,-6.8 -6.4,-7.8 -4.5,-6.4L-4.5,6.2M-4.5,-5.6C-3,-7.8 -0.6,-7.8 0.3,-6L0.3,6.2M0.3,-5.6C1.8,-7.8 4.4,-7.8 4.9,-5.6L4.9,3C5.2,5 6.4,6 8,6.2M4.9,-2.6C6.2,-4.6 8.4,-4.4 8.7,-2.8C9,-0.8 6.2,3.2 3.4,9.2" fill="none" stroke="#1a681a" stroke-width="1.22" stroke-linecap="round" stroke-linejoin="round"/>
<path transform="translate(1716.41,287.73) scale(0.95)" d="M-8.8,6.5L8.8,6.5M-8.8,2.4L-2.4,2.4C-5.6,0.4 -6,-3.6 -3.2,-5.6C-1,-7.2 1.4,-7.2 3.2,-5.6C6,-3.6 5.6,0.4 2.4,2.4L8.8,2.4" fill="none" stroke="#22a3df" stroke-width="1.22" stroke-linecap="round" stroke-linejoin="round"/>
<path transform="translate(1643.63,280.92) scale(0.95)" d="M-8.6,-4C-8,-6.4 -5.8,-7.4 -4.4,-6.2L-4.4,6.2M-4.4,-5.4C-3.2,-7.4 -1.4,-7.4 -0.9,-5.8L-0.9,6.2M-0.9,-5.4C0.4,-7.4 2.6,-7.4 3.1,-5.4L3.1,4C3.2,6.4 5.2,7 6.2,5.4C7.2,3.8 7.2,1.8 5.8,-0.4" fill="none" stroke="#9a66ee" stroke-width="1.22" stroke-linecap="round" stroke-linejoin="round"/>
<path transform="translate(1577.18,311.41) scale(0.95)" d="M-7.2,6.4L7.2,-6.2M3.4,-6.1L7.2,-6.2L7,-2.4M-5.4,-1.2L1.2,5.8" fill="none" stroke="#ea3522" stroke-width="1.22" stroke-linecap="round" stroke-linejoin="round"/>
<path transform="translate(1534.88,371.04) scale(0.95)" d="M-5.8,-6.4L6.4,-6.4L0.4,-0.2M5.8,3.4A3.5,3.5 0 1 1 -1.2,3.4A3.5,3.5 0 1 1 5.8,3.4M-0.4,0.4C-4.4,0.8 -6.8,3.2 -7.6,6.8" fill="none" stroke="#1a681a" stroke-width="1.22" stroke-linecap="round" stroke-linejoin="round"/>
<path transform="translate(1528.07,443.82) scale(0.95)" d="M-6.8,-0.8L-1.4,-5.6L-1.4,-0.4L3.4,-5.4L3.6,-0.6L8.6,-5.4L8.6,-0.8M-8.8,6.2L-3.6,0.9L-3.6,6.2L0.8,1.2L0.8,6.2L5.6,1.2L5.6,5.4" fill="none" stroke="#1c9be0" stroke-width="1.22" stroke-linecap="round" stroke-linejoin="round"/>
<path transform="translate(1558.56,510.27) scale(0.95)" d="M-5.4,-6.4C-2.4,-2.4 -2.4,2.4 -5.2,6.4M5.4,-6.4C2.4,-2.4 2.4,2.4 5.2,6.4M-5.2,0L5.4,0" fill="none" stroke="#9a66ee" stroke-width="1.22" stroke-linecap="round" stroke-linejoin="round"/>
<circle cx="1667.3" cy="420.15" r="84.05" fill="none" stroke="#1a1a1a" stroke-width="1.03"/>
<line x1="1656.07" y1="420.15" x2="1541.93" y2="420.15" stroke="#2b2b2b" stroke-width="1.52"/>
<line x1="1660.33" y1="428.96" x2="1589.52" y2="518.47" stroke="#939393" stroke-width="0.79"/>
<line x1="1667.32" y1="431.38" x2="1667.52" y2="545.52" stroke="#939393" stroke-width="0.79"/>
<line x1="1672.02" y1="430.34" x2="1719.98" y2="533.91" stroke="#939393" stroke-width="0.79"/>
<line x1="1675.26" y1="428.08" x2="1756.1" y2="508.64" stroke="#939393" stroke-width="0.79"/>
<line x1="1677.48" y1="424.89" x2="1780.97" y2="473.03" stroke="#939393" stroke-width="0.79"/>
<line x1="1678.53" y1="420.15" x2="1792.67" y2="420.15" stroke="#c9c9c9" stroke-width="1.47"/>
<line x1="1674.27" y1="411.34" x2="1745.08" y2="321.83" stroke="#939393" stroke-width="0.79"/>
<line x1="1667.28" y1="408.92" x2="1667.08" y2="294.78" stroke="#939393" stroke-width="0.79"/>
<line x1="1662.58" y1="409.96" x2="1614.62" y2="306.39" stroke="#111" stroke-width="1.47"/>
<line x1="1659.34" y1="412.22" x2="1578.5" y2="331.66" stroke="#939393" stroke-width="0.79"/>
<line x1="1657.12" y1="415.41" x2="1553.63" y2="367.27" stroke="#939393" stroke-width="0.79"/>
<circle cx="1667.3" cy="420.15" r="11.23" fill="#fff" stroke="#1a1a1a" stroke-width="1.13"/>
<g font-family="Liberation Sans, Arial, sans-serif" text-anchor="middle" fill="#111"><text x="1589.02" y="421.82" font-size="4.91">5°</text><text x="1646.23" y="431.82" font-size="4.42">1</text><text x="1618.96" y="483.67" font-size="4.91">27°</text><text x="1659.63" y="443.74" font-size="4.42">2</text><text x="1668.03" y="500.68" font-size="4.91">5°</text><text x="1672.36" y="444.48" font-size="4.42">3</text><text x="1701.03" y="493.38" font-size="4.91">0°</text><text x="1680.72" y="440.8" font-size="4.42">4</text><text x="1723.75" y="477.49" font-size="4.91">20°</text><text x="1686.49" y="435.02" font-size="4.42">5</text><text x="1739.39" y="455.09" font-size="4.91">10°</text><text x="1690.16" y="426.68" font-size="4.42">6</text><text x="1746.75" y="421.82" font-size="4.91">5°</text><text x="1688.37" y="411.43" font-size="4.42">7</text><text x="1716.82" y="359.97" font-size="4.91">27°</text><text x="1674.97" y="399.51" font-size="4.42">8</text><text x="1667.75" y="342.96" font-size="4.91">5°</text><text x="1662.24" y="398.77" font-size="4.42">9</text><text x="1634.75" y="350.26" font-size="4.91">0°</text><text x="1653.88" y="402.44" font-size="4.42">10</text><text x="1612.03" y="366.15" font-size="4.91">20°</text><text x="1648.11" y="408.22" font-size="4.42">11</text><text x="1596.38" y="388.55" font-size="4.91">10°</text><text x="1644.44" y="416.57" font-size="4.42">12</text></g>
<line x1="1510.2" y1="420.15" x2="1496.16" y2="420.15" stroke="#1c9be0" stroke-width="1.37"/>
<path d="M1489.29,420.15L1500.28,414.36L1495.57,420.15L1500.28,425.94Z" fill="none" stroke="#1c9be0" stroke-width="1.33" stroke-linejoin="miter"/>
<g font-family="Liberation Sans, Arial, sans-serif" text-anchor="middle" fill="#1c9be0"><text x="1503.33" y="405.13" font-size="6.48">5°</text><text x="1502.93" y="411.12" font-size="4.42">21</text></g>
<line x1="1824.4" y1="420.15" x2="1836.67" y2="420.15" stroke="#ee4030" stroke-width="1.18"/>
<path d="M1836.18,420.15L1846,415.24L1841.88,420.15L1846,425.06Z" fill="none" stroke="#ee4030" stroke-width="1.18" stroke-linejoin="miter"/>
<line x1="1601.28" y1="277.6" x2="1597.11" y2="268.6" stroke="#e32a36" stroke-width="1.28"/>
<circle cx="1594.88" cy="263.79" r="5.2" fill="none" stroke="#e32a36" stroke-width="1.28"/>
<g font-family="Liberation Sans, Arial, sans-serif" text-anchor="middle" fill="#e32a36"><text x="1611.3" y="265.31" font-size="6.48">0°</text><text x="1611.6" y="270.42" font-size="4.42">14</text></g>
<line x1="1733.32" y1="562.7" x2="1737.69" y2="572.15" stroke="#22a3df" stroke-width="1.18"/>
<path d="M1735.6,580.44A5.5,5.5 0 1 1 1745.37,575.92" fill="none" stroke="#22a3df" stroke-width="1.28"/>
<path d="M1631.36,309.38Q1627.37,310.13 1624.79,303.05" fill="none" stroke="#8f74ee" stroke-opacity="0.7" stroke-width="0.88"/>
<circle cx="1636.3" cy="314.15" r="6.87" fill="none" stroke="#8f74ee" stroke-width="1.33"/>
<circle cx="1636.3" cy="314.15" r="1.23" fill="#a040cc"/>
<g font-family="Liberation Sans, Arial, sans-serif" text-anchor="middle" fill="#8f74ee"><text x="1641.09" y="328.64" font-size="6.48">25°</text><text x="1641.39" y="334.44" font-size="4.42">19</text></g>
</g>
<g id="chart4">
<rect x="208.5" y="624" width="359" height="351.5" fill="#fff"/>
<circle cx="386.6" cy="800" r="155.6" fill="#fff"/>
<path d="M285.86,681.42A155.6,155.6 0 0 0 240.06,747.68L269.66,758.25A124.17,124.17 0 0 1 306.21,705.37Z" fill="url(#gf4)" stroke="#dc1e16" stroke-width="1.75" stroke-linejoin="miter"/>
<path d="M304.57,706.79L303.18,705.21M302.95,708.23L301.54,706.68M301.36,709.71L299.92,708.18M299.8,711.21L298.33,709.71M298.26,712.74L295.28,709.78M296.76,714.29L295.24,712.84M295.27,715.87L293.73,714.45M293.82,717.48L292.25,716.08M292.39,719.11L290.8,717.74M291,720.77L284.53,715.41M289.63,722.45L287.99,721.14M288.29,724.15L286.63,722.87M286.98,725.88L285.29,724.63M285.7,727.63L283.99,726.41M284.45,729.4L281,727.01M283.24,731.2L281.49,730.03M282.05,733.01L280.28,731.88M280.9,734.85L279.11,733.74M279.78,736.7L277.97,735.63M278.69,738.57L271.39,734.42M277.63,740.47L275.79,739.46M276.61,742.38L274.75,741.4M275.62,744.31L273.75,743.36M274.67,746.25L272.77,745.34M273.75,748.21L269.93,746.46M272.86,750.19L270.94,749.35M272.01,752.18L270.07,751.37M271.19,754.19L269.24,753.41M270.41,756.21L268.44,755.47" fill="none" stroke="#b3150f" stroke-opacity="0.9" stroke-width="0.73"/>
<path d="M240.06,747.68A155.6,155.6 0 0 0 233.53,827.96L264.45,822.31A124.17,124.17 0 0 1 269.66,758.25Z" fill="url(#ge4)" stroke="#111" stroke-width="1.26" stroke-linejoin="miter"/>
<path d="M268.95,760.29L266.96,759.62M268.28,762.35L266.27,761.71M267.64,764.42L265.62,763.82M267.03,766.5L265.01,765.94M266.47,768.6L262.4,767.53M265.94,770.7L263.9,770.2M265.45,772.81L263.4,772.35M264.99,774.93L262.93,774.5M264.57,777.05L262.51,776.66M264.19,779.19L255.9,777.78M263.84,781.33L261.77,781.01M263.54,783.47L261.45,783.19M263.27,785.62L261.18,785.38M263.03,787.78L260.94,787.57M262.84,789.93L258.65,789.59M262.68,792.1L260.59,791.96M262.56,794.26L260.47,794.16M262.48,796.42L260.38,796.36M262.44,798.59L260.34,798.57M262.43,800.76L254.03,800.81M262.47,802.93L260.37,802.97M262.54,805.09L260.44,805.18M262.64,807.26L260.55,807.38M262.79,809.42L260.69,809.58M262.97,811.58L258.79,811.97M263.19,813.73L261.11,813.97M263.45,815.88L261.37,816.15M263.75,818.03L261.67,818.34M264.08,820.17L262.01,820.51" fill="none" stroke="#000" stroke-opacity="0.62" stroke-width="0.73"/>
<path d="M233.53,827.96A155.6,155.6 0 0 0 268.02,900.74L291.97,880.39A124.17,124.17 0 0 1 264.45,822.31Z" fill="url(#ga4)" stroke="#111" stroke-width="1.26" stroke-linejoin="miter"/>
<path d="M264.86,824.44L262.8,824.85M265.3,826.56L263.25,827.01M265.79,828.67L263.74,829.16M266.31,830.77L264.27,831.3M266.86,832.87L262.81,833.98M267.45,834.95L265.44,835.55M268.08,837.03L266.08,837.65M268.75,839.09L266.75,839.75M269.45,841.14L267.46,841.84M270.18,843.18L262.3,846.1M270.95,845.21L269,845.97M271.76,847.22L269.82,848.02M272.6,849.21L270.67,850.05M273.48,851.2L271.56,852.06M274.39,853.16L270.59,854.96M275.33,855.11L273.45,856.05M276.31,857.05L274.45,858.01M277.32,858.96L275.47,859.96M278.37,860.86L276.54,861.89M279.45,862.74L272.2,866.99M280.56,864.6L278.77,865.69M281.7,866.44L279.93,867.57M282.88,868.26L281.12,869.42M284.09,870.06L282.35,871.25M285.32,871.84L281.9,874.27M286.59,873.6L284.9,874.84M287.89,875.33L286.22,876.61M289.22,877.04L287.58,878.35M290.58,878.73L288.96,880.06" fill="none" stroke="#000" stroke-opacity="0.62" stroke-width="0.73"/>
<path d="M268.02,900.74A155.6,155.6 0 0 0 334.28,946.54L344.85,916.94A124.17,124.17 0 0 1 291.97,880.39Z" fill="url(#gw4)" stroke="#111" stroke-width="1.26" stroke-linejoin="miter"/>
<path d="M293.39,882.03L291.81,883.42M294.83,883.65L293.28,885.06M296.31,885.24L294.78,886.68M297.81,886.8L296.31,888.27M299.34,888.34L296.38,891.32M300.89,889.84L299.44,891.36M302.47,891.33L301.05,892.87M304.08,892.78L302.68,894.35M305.71,894.21L304.34,895.8M307.37,895.6L302.01,902.07M309.05,896.97L307.74,898.61M310.75,898.31L309.47,899.97M312.48,899.62L311.23,901.31M314.23,900.9L313.01,902.61M316,902.15L313.61,905.6M317.8,903.36L316.63,905.11M319.61,904.55L318.48,906.32M321.45,905.7L320.34,907.49M323.3,906.82L322.23,908.63M325.17,907.91L321.02,915.21M327.07,908.97L326.06,910.81M328.98,909.99L328,911.85M330.91,910.98L329.96,912.85M332.85,911.93L331.94,913.83M334.81,912.85L333.06,916.67M336.79,913.74L335.95,915.66M338.78,914.59L337.97,916.53M340.79,915.41L340.01,917.36M342.81,916.19L342.07,918.16" fill="none" stroke="#000" stroke-opacity="0.62" stroke-width="0.73"/>
<path d="M334.28,946.54A155.6,155.6 0 0 0 414.56,953.07L408.91,922.15A124.17,124.17 0 0 1 344.85,916.94Z" fill="url(#gf4)" stroke="#111" stroke-width="1.26" stroke-linejoin="miter"/>
<path d="M346.89,917.65L346.22,919.64M348.95,918.32L348.31,920.33M351.02,918.96L350.42,920.98M353.1,919.57L352.54,921.59M355.2,920.13L354.13,924.2M357.3,920.66L356.8,922.7M359.41,921.15L358.95,923.2M361.53,921.61L361.1,923.67M363.65,922.03L363.26,924.09M365.79,922.41L364.38,930.7M367.93,922.76L367.61,924.83M370.07,923.06L369.79,925.15M372.22,923.33L371.98,925.42M374.38,923.57L374.17,925.66M376.53,923.76L376.19,927.95M378.7,923.92L378.56,926.01M380.86,924.04L380.76,926.13M383.02,924.12L382.96,926.22M385.19,924.16L385.17,926.26M387.36,924.17L387.41,932.57M389.53,924.13L389.57,926.23M391.69,924.06L391.78,926.16M393.86,923.96L393.98,926.05M396.02,923.81L396.18,925.91M398.18,923.63L398.57,927.81M400.33,923.41L400.57,925.49M402.48,923.15L402.75,925.23M404.63,922.85L404.94,924.93M406.77,922.52L407.11,924.59" fill="none" stroke="#000" stroke-opacity="0.62" stroke-width="0.73"/>
<path d="M414.56,953.07A155.6,155.6 0 0 0 487.34,918.58L466.99,894.63A124.17,124.17 0 0 1 408.91,922.15Z" fill="url(#ge4)" stroke="#111" stroke-width="1.26" stroke-linejoin="miter"/>
<path d="M411.04,921.74L411.45,923.8M413.16,921.3L413.61,923.35M415.27,920.81L415.76,922.86M417.37,920.29L417.9,922.33M419.47,919.74L420.58,923.79M421.55,919.15L422.15,921.16M423.63,918.52L424.25,920.52M425.69,917.85L426.35,919.85M427.74,917.15L428.44,919.14M429.78,916.42L432.7,924.3M431.81,915.65L432.57,917.6M433.82,914.84L434.62,916.78M435.81,914L436.65,915.93M437.8,913.12L438.66,915.04M439.76,912.21L441.56,916.01M441.71,911.27L442.65,913.15M443.65,910.29L444.61,912.15M445.56,909.28L446.56,911.13M447.46,908.23L448.49,910.06M449.34,907.15L453.59,914.4M451.2,906.04L452.29,907.83M453.04,904.9L454.17,906.67M454.86,903.72L456.02,905.48M456.66,902.51L457.85,904.25M458.44,901.28L460.87,904.7M460.2,900.01L461.44,901.7M461.93,898.71L463.21,900.38M463.64,897.38L464.95,899.02M465.33,896.02L466.66,897.64" fill="none" stroke="#000" stroke-opacity="0.62" stroke-width="0.73"/>
<path d="M487.34,918.58A155.6,155.6 0 0 0 533.14,852.32L503.54,841.75A124.17,124.17 0 0 1 466.99,894.63Z" fill="url(#ga4)" stroke="#dc1e16" stroke-width="1.75" stroke-linejoin="miter"/>
<path d="M468.63,893.21L470.02,894.79M470.25,891.77L471.66,893.32M471.84,890.29L473.28,891.82M473.4,888.79L474.87,890.29M474.94,887.26L477.92,890.22M476.44,885.71L477.96,887.16M477.93,884.13L479.47,885.55M479.38,882.52L480.95,883.92M480.81,880.89L482.4,882.26M482.2,879.23L488.67,884.59M483.57,877.55L485.21,878.86M484.91,875.85L486.57,877.13M486.22,874.12L487.91,875.37M487.5,872.37L489.21,873.59M488.75,870.6L492.2,872.99M489.96,868.8L491.71,869.97M491.15,866.99L492.92,868.12M492.3,865.15L494.09,866.26M493.42,863.3L495.23,864.37M494.51,861.43L501.81,865.58M495.57,859.53L497.41,860.54M496.59,857.62L498.45,858.6M497.58,855.69L499.45,856.64M498.53,853.75L500.43,854.66M499.45,851.79L503.27,853.54M500.34,849.81L502.26,850.65M501.19,847.82L503.13,848.63M502.01,845.81L503.96,846.59M502.79,843.79L504.76,844.53" fill="none" stroke="#b3150f" stroke-opacity="0.9" stroke-width="0.73"/>
<path d="M533.14,852.32A155.6,155.6 0 0 0 539.67,772.04L508.75,777.69A124.17,124.17 0 0 1 503.54,841.75Z" fill="url(#gw4)" stroke="#111" stroke-width="1.26" stroke-linejoin="miter"/>
<path d="M504.25,839.71L506.24,840.38M504.92,837.65L506.93,838.29M505.56,835.58L507.58,836.18M506.17,833.5L508.19,834.06M506.73,831.4L510.8,832.47M507.26,829.3L509.3,829.8M507.75,827.19L509.8,827.65M508.21,825.07L510.27,825.5M508.63,822.95L510.69,823.34M509.01,820.81L517.3,822.22M509.36,818.67L511.43,818.99M509.66,816.53L511.75,816.81M509.93,814.38L512.02,814.62M510.17,812.22L512.26,812.43M510.36,810.07L514.55,810.41M510.52,807.9L512.61,808.04M510.64,805.74L512.73,805.84M510.72,803.58L512.82,803.64M510.76,801.41L512.86,801.43M510.77,799.24L519.17,799.19M510.73,797.07L512.83,797.03M510.66,794.91L512.76,794.82M510.56,792.74L512.65,792.62M510.41,790.58L512.51,790.42M510.23,788.42L514.41,788.03M510.01,786.27L512.09,786.03M509.75,784.12L511.83,783.85M509.45,781.97L511.53,781.66M509.12,779.83L511.19,779.49" fill="none" stroke="#000" stroke-opacity="0.62" stroke-width="0.73"/>
<path d="M539.67,772.04A155.6,155.6 0 0 0 505.18,699.26L481.23,719.61A124.17,124.17 0 0 1 508.75,777.69Z" fill="url(#gf4)" stroke="#111" stroke-width="1.26" stroke-linejoin="miter"/>
<path d="M508.34,775.56L510.4,775.15M507.9,773.44L509.95,772.99M507.41,771.33L509.46,770.84M506.89,769.23L508.93,768.7M506.34,767.13L510.39,766.02M505.75,765.05L507.76,764.45M505.12,762.97L507.12,762.35M504.45,760.91L506.45,760.25M503.75,758.86L505.74,758.16M503.02,756.82L510.9,753.9M502.25,754.79L504.2,754.03M501.44,752.78L503.38,751.98M500.6,750.79L502.53,749.95M499.72,748.8L501.64,747.94M498.81,746.84L502.61,745.04M497.87,744.89L499.75,743.95M496.89,742.95L498.75,741.99M495.88,741.04L497.73,740.04M494.83,739.14L496.66,738.11M493.75,737.26L501,733.01M492.64,735.4L494.43,734.31M491.5,733.56L493.27,732.43M490.32,731.74L492.08,730.58M489.11,729.94L490.85,728.75M487.88,728.16L491.3,725.73M486.61,726.4L488.3,725.16M485.31,724.67L486.98,723.39M483.98,722.96L485.62,721.65M482.62,721.27L484.24,719.94" fill="none" stroke="#000" stroke-opacity="0.62" stroke-width="0.73"/>
<path d="M505.18,699.26A155.6,155.6 0 0 0 438.92,653.46L428.35,683.06A124.17,124.17 0 0 1 481.23,719.61Z" fill="url(#ge4)" stroke="#111" stroke-width="1.26" stroke-linejoin="miter"/>
<path d="M479.81,717.97L481.39,716.58M478.37,716.35L479.92,714.94M476.89,714.76L478.42,713.32M475.39,713.2L476.89,711.73M473.86,711.66L476.82,708.68M472.31,710.16L473.76,708.64M470.73,708.67L472.15,707.13M469.12,707.22L470.52,705.65M467.49,705.79L468.86,704.2M465.83,704.4L471.19,697.93M464.15,703.03L465.46,701.39M462.45,701.69L463.73,700.03M460.72,700.38L461.97,698.69M458.97,699.1L460.19,697.39M457.2,697.85L459.59,694.4M455.4,696.64L456.57,694.89M453.59,695.45L454.72,693.68M451.75,694.3L452.86,692.51M449.9,693.18L450.97,691.37M448.03,692.09L452.18,684.79M446.13,691.03L447.14,689.19M444.22,690.01L445.2,688.15M442.29,689.02L443.24,687.15M440.35,688.07L441.26,686.17M438.39,687.15L440.14,683.33M436.41,686.26L437.25,684.34M434.42,685.41L435.23,683.47M432.41,684.59L433.19,682.64M430.39,683.81L431.13,681.84" fill="none" stroke="#000" stroke-opacity="0.62" stroke-width="0.73"/>
<path d="M438.92,653.46A155.6,155.6 0 0 0 358.64,646.93L364.29,677.85A124.17,124.17 0 0 1 428.35,683.06Z" fill="url(#ga4)" stroke="#111" stroke-width="1.26" stroke-linejoin="miter"/>
<path d="M426.31,682.35L426.98,680.36M424.25,681.68L424.89,679.67M422.18,681.04L422.78,679.02M420.1,680.43L420.66,678.41M418,679.87L419.07,675.8M415.9,679.34L416.4,677.3M413.79,678.85L414.25,676.8M411.67,678.39L412.1,676.33M409.55,677.97L409.94,675.91M407.41,677.59L408.82,669.3M405.27,677.24L405.59,675.17M403.13,676.94L403.41,674.85M400.98,676.67L401.22,674.58M398.82,676.43L399.03,674.34M396.67,676.24L397.01,672.05M394.5,676.08L394.64,673.99M392.34,675.96L392.44,673.87M390.18,675.88L390.24,673.78M388.01,675.84L388.03,673.74M385.84,675.83L385.79,667.43M383.67,675.87L383.63,673.77M381.51,675.94L381.42,673.84M379.34,676.04L379.22,673.95M377.18,676.19L377.02,674.09M375.02,676.37L374.63,672.19M372.87,676.59L372.63,674.51M370.72,676.85L370.45,674.77M368.57,677.15L368.26,675.07M366.43,677.48L366.09,675.41" fill="none" stroke="#000" stroke-opacity="0.62" stroke-width="0.73"/>
<path d="M358.64,646.93A155.6,155.6 0 0 0 285.86,681.42L306.21,705.37A124.17,124.17 0 0 1 364.29,677.85Z" fill="url(#gw4)" stroke="#111" stroke-width="1.26" stroke-linejoin="miter"/>
<path d="M362.16,678.26L361.75,676.2M360.04,678.7L359.59,676.65M357.93,679.19L357.44,677.14M355.83,679.71L355.3,677.67M353.73,680.26L352.62,676.21M351.65,680.85L351.05,678.84M349.57,681.48L348.95,679.48M347.51,682.15L346.85,680.15M345.46,682.85L344.76,680.86M343.42,683.58L340.5,675.7M341.39,684.35L340.63,682.4M339.38,685.16L338.58,683.22M337.39,686L336.55,684.07M335.4,686.88L334.54,684.96M333.44,687.79L331.64,683.99M331.49,688.73L330.55,686.85M329.55,689.71L328.59,687.85M327.64,690.72L326.64,688.87M325.74,691.77L324.71,689.94M323.86,692.85L319.61,685.6M322,693.96L320.91,692.17M320.16,695.1L319.03,693.33M318.34,696.28L317.18,694.52M316.54,697.49L315.35,695.75M314.76,698.72L312.33,695.3M313,699.99L311.76,698.3M311.27,701.29L309.99,699.62M309.56,702.62L308.25,700.98M307.87,703.98L306.54,702.36" fill="none" stroke="#000" stroke-opacity="0.62" stroke-width="0.73"/>
<line x1="466.99" y1="894.63" x2="487.34" y2="918.58" stroke="#8e1612" stroke-width="1.85"/>
<path transform="translate(271.53,720.47) scale(0.94)" d="M-3.6,-1.1C-6.4,-0.4 -7.6,-2.6 -7.3,-4.2C-6.9,-6.6 -4.3,-7.3 -2.7,-6.3C-1.2,-5.4 -0.2,-4 0,-2.6L0,7.2M3.6,-1.1C6.4,-0.4 7.6,-2.6 7.3,-4.2C6.9,-6.6 4.3,-7.3 2.7,-6.3C1.2,-5.4 0.2,-4 0,-2.6" fill="none" stroke="#ea3522" stroke-width="1.22" stroke-linecap="round" stroke-linejoin="round"/>
<path transform="translate(247.18,788.66) scale(0.94)" d="M-5.7,-6.8C-4.6,-3.6 -2.4,-3.9 0,-3.9C2.4,-3.9 4.6,-3.6 5.7,-6.8M5.2,1.3A5.2,5.2 0 1 1 -5.2,1.3A5.2,5.2 0 1 1 5.2,1.3" fill="none" stroke="#1a681a" stroke-width="1.22" stroke-linecap="round" stroke-linejoin="round"/>
<path transform="translate(260.19,859.89) scale(0.94)" d="M-5.7,-6.6C-3.6,-5 3.6,-5 5.7,-6.6M-5.7,6.6C-3.6,5 3.6,5 5.7,6.6M-2.9,-5.2L-2.9,5.2M2.9,-5.2L2.9,5.2" fill="none" stroke="#22a3df" stroke-width="1.22" stroke-linecap="round" stroke-linejoin="round"/>
<path transform="translate(307.07,915.07) scale(0.94)" d="M-3.5,-0.1A2.45,2.45 0 1 1 -8.4,-0.1A2.45,2.45 0 1 1 -3.5,-0.1M8.3,-0.1A2.45,2.45 0 1 1 3.4,-0.1A2.45,2.45 0 1 1 8.3,-0.1M-8.1,-1.2C-6.8,-5.6 1.5,-8.6 6.8,-5.3M8.1,1.0C6.8,5.4 -1.5,8.4 -6.8,5.3" fill="none" stroke="#a322d6" stroke-width="1.22" stroke-linecap="round" stroke-linejoin="round"/>
<path transform="translate(375.26,939.42) scale(0.94)" d="M-1.9,1.3A2.3,2.3 0 1 1 -6.5,1.3A2.3,2.3 0 1 1 -1.9,1.3M-2.4,-0.4C-3.4,-4.6 -1.2,-6.8 1.4,-6.7C4.2,-6.6 5.8,-4.2 4.6,-1.6C3.4,0.8 0.6,2.4 1,4.6C1.4,6.8 4.6,7.4 5.9,4.4" fill="none" stroke="#ea4a1e" stroke-width="1.22" stroke-linecap="round" stroke-linejoin="round"/>
<path transform="translate(446.49,926.41) scale(0.94)" d="M-9.2,-4.4C-8.6,-6.8 -6.4,-7.8 -4.5,-6.4L-4.5,6.2M-4.5,-5.6C-3,-7.8 -0.6,-7.8 0.3,-6L0.3,6.2M0.3,-5.6C1.8,-7.8 4.4,-7.8 4.9,-5.6L4.9,3C5.2,5 6.4,6 8,6.2M4.9,-2.6C6.2,-4.6 8.4,-4.4 8.7,-2.8C9,-0.8 6.2,3.2 3.4,9.2" fill="none" stroke="#1a681a" stroke-width="1.22" stroke-linecap="round" stroke-linejoin="round"/>
<path transform="translate(501.67,879.53) scale(0.94)" d="M-8.8,6.5L8.8,6.5M-8.8,2.4L-2.4,2.4C-5.6,0.4 -6,-3.6 -3.2,-5.6C-1,-7.2 1.4,-7.2 3.2,-5.6C6,-3.6 5.6,0.4 2.4,2.4L8.8,2.4" fill="none" stroke="#22a3df" stroke-width="1.22" stroke-linecap="round" stroke-linejoin="round"/>
<path transform="translate(526.02,811.34) scale(0.94)" d="M-8.6,-4C-8,-6.4 -5.8,-7.4 -4.4,-6.2L-4.4,6.2M-4.4,-5.4C-3.2,-7.4 -1.4,-7.4 -0.9,-5.8L-0.9,6.2M-0.9,-5.4C0.4,-7.4 2.6,-7.4 3.1,-5.4L3.1,4C3.2,6.4 5.2,7 6.2,5.4C7.2,3.8 7.2,1.8 5.8,-0.4" fill="none" stroke="#9a66ee" stroke-width="1.22" stroke-linecap="round" stroke-linejoin="round"/>
<path transform="translate(513.01,740.11) scale(0.94)" d="M-7.2,6.4L7.2,-6.2M3.4,-6.1L7.2,-6.2L7,-2.4M-5.4,-1.2L1.2,5.8" fill="none" stroke="#ea3522" stroke-width="1.22" stroke-linecap="round" stroke-linejoin="round"/>
<path transform="translate(466.13,684.93) scale(0.94)" d="M-5.8,-6.4L6.4,-6.4L0.4,-0.2M5.8,3.4A3.5,3.5 0 1 1 -1.2,3.4A3.5,3.5 0 1 1 5.8,3.4M-0.4,0.4C-4.4,0.8 -6.8,3.2 -7.6,6.8" fill="none" stroke="#1a681a" stroke-width="1.22" stroke-linecap="round" stroke-linejoin="round"/>
<path transform="translate(397.94,660.58) scale(0.94)" d="M-6.8,-0.8L-1.4,-5.6L-1.4,-0.4L3.4,-5.4L3.6,-0.6L8.6,-5.4L8.6,-0.8M-8.8,6.2L-3.6,0.9L-3.6,6.2L0.8,1.2L0.8,6.2L5.6,1.2L5.6,5.4" fill="none" stroke="#1c9be0" stroke-width="1.22" stroke-linecap="round" stroke-linejoin="round"/>
<path transform="translate(326.71,673.59) scale(0.94)" d="M-5.4,-6.4C-2.4,-2.4 -2.4,2.4 -5.2,6.4M5.4,-6.4C2.4,-2.4 2.4,2.4 5.2,6.4M-5.2,0L5.4,0" fill="none" stroke="#9a66ee" stroke-width="1.22" stroke-linecap="round" stroke-linejoin="round"/>
<circle cx="386.6" cy="800" r="83.25" fill="none" stroke="#1a1a1a" stroke-width="1.02"/>
<line x1="375.47" y1="800" x2="262.43" y2="800" stroke="#2b2b2b" stroke-width="1.51"/>
<line x1="376.63" y1="804.94" x2="275.33" y2="855.11" stroke="#939393" stroke-width="0.78"/>
<line x1="378.92" y1="808.05" x2="300.89" y2="889.84" stroke="#939393" stroke-width="0.78"/>
<line x1="382.19" y1="810.21" x2="337.39" y2="914" stroke="#939393" stroke-width="0.78"/>
<line x1="386.9" y1="811.12" x2="389.96" y2="924.12" stroke="#939393" stroke-width="0.78"/>
<line x1="393.41" y1="808.8" x2="462.62" y2="898.18" stroke="#939393" stroke-width="0.78"/>
<line x1="397.73" y1="800" x2="510.77" y2="800" stroke="#c9c9c9" stroke-width="1.46"/>
<line x1="396.57" y1="795.06" x2="497.87" y2="744.89" stroke="#939393" stroke-width="0.78"/>
<line x1="394.28" y1="791.95" x2="472.31" y2="710.16" stroke="#939393" stroke-width="0.78"/>
<line x1="391.01" y1="789.79" x2="435.81" y2="686" stroke="#111" stroke-width="1.46"/>
<line x1="386.3" y1="788.88" x2="383.24" y2="675.88" stroke="#939393" stroke-width="0.78"/>
<line x1="379.79" y1="791.2" x2="310.58" y2="701.82" stroke="#939393" stroke-width="0.78"/>
<circle cx="386.6" cy="800" r="11.13" fill="#fff" stroke="#1a1a1a" stroke-width="1.12"/>
<g font-family="Liberation Sans, Arial, sans-serif" text-anchor="middle" fill="#111"><text x="309.07" y="801.65" font-size="4.86">20°</text><text x="364.03" y="806.74" font-size="4.38">1</text><text x="317.19" y="836.32" font-size="4.86">16°</text><text x="367.93" y="815.2" font-size="4.38">2</text><text x="333.27" y="858.17" font-size="4.86">6°</text><text x="373.8" y="820.79" font-size="4.38">3</text><text x="356.22" y="873.37" font-size="4.86">26°</text><text x="382.22" y="824.22" font-size="4.38">4</text><text x="389.3" y="879.74" font-size="4.86">21°</text><text x="394.4" y="823.29" font-size="4.38">5</text><text x="435" y="863.41" font-size="4.86">27°</text><text x="407.42" y="811.67" font-size="4.38">6</text><text x="465.29" y="801.65" font-size="4.86">20°</text><text x="409.17" y="796.17" font-size="4.38">7</text><text x="457.18" y="766.98" font-size="4.86">16°</text><text x="405.27" y="787.72" font-size="4.38">8</text><text x="441.1" y="745.13" font-size="4.86">6°</text><text x="399.4" y="782.13" font-size="4.38">9</text><text x="418.14" y="729.94" font-size="4.86">26°</text><text x="390.98" y="778.69" font-size="4.38">10</text><text x="385.07" y="723.57" font-size="4.86">21°</text><text x="378.8" y="779.62" font-size="4.38">11</text><text x="339.36" y="739.89" font-size="4.86">27°</text><text x="365.78" y="791.25" font-size="4.38">12</text></g>
<line x1="231" y1="800" x2="217.09" y2="800" stroke="#2c6340" stroke-width="1.36"/>
<path d="M210.29,800L221.18,794.26L216.51,800L221.18,805.74Z" fill="none" stroke="#2c6340" stroke-width="1.31" stroke-linejoin="miter"/>
<g font-family="Liberation Sans, Arial, sans-serif" text-anchor="middle" fill="#2c6340"><text x="224.19" y="785.12" font-size="6.42">19°</text><text x="223.8" y="791.05" font-size="4.38">39</text></g>
<line x1="542.2" y1="800" x2="554.36" y2="800" stroke="#9a66ee" stroke-width="1.17"/>
<path d="M553.87,800L563.6,795.14L559.51,800L563.6,804.86Z" fill="none" stroke="#9a66ee" stroke-width="1.17" stroke-linejoin="miter"/>
<line x1="448.27" y1="657.14" x2="452.16" y2="648.13" stroke="#1a681a" stroke-width="1.26"/>
<circle cx="454.25" cy="643.3" r="5.15" fill="none" stroke="#1a681a" stroke-width="1.26"/>
<g font-family="Liberation Sans, Arial, sans-serif" text-anchor="middle" fill="#1a681a"><text x="464.23" y="655.76" font-size="6.42">26°</text><text x="464.52" y="660.81" font-size="4.38">18</text></g>
<line x1="324.93" y1="942.86" x2="320.84" y2="952.32" stroke="#a322d6" stroke-width="1.17"/>
<path d="M313.34,956.25A5.45,5.45 0 1 1 323.13,960.47" fill="none" stroke="#a322d6" stroke-width="1.26"/>
<path d="M502.19,788.16Q501.92,788.18 509.35,787.42" fill="none" stroke="#8f74ee" stroke-opacity="0.7" stroke-width="0.88"/>
<circle cx="495.42" cy="788.85" r="6.81" fill="none" stroke="#8f74ee" stroke-width="1.31"/>
<circle cx="495.42" cy="788.85" r="1.22" fill="#a040cc"/>
<g font-family="Liberation Sans, Arial, sans-serif" text-anchor="middle" fill="#8f74ee"><text x="479.92" y="789.59" font-size="6.42">25°</text><text x="480.21" y="795.33" font-size="4.38">29</text></g>
</g>
<g id="chart5">
<rect x="832" y="630" width="391.7" height="370.4" fill="#fff"/>
<circle cx="1026.8" cy="813.7" r="159.6" fill="#fff"/>
<path d="M1167.74,738.82A159.6,159.6 0 0 0 1111.42,678.38L1094.33,705.72A127.36,127.36 0 0 1 1139.27,753.95Z" fill="url(#gf5)" stroke="#111" stroke-width="1.3" stroke-linejoin="miter"/>
<path d="M1138.21,751.99L1140.1,750.95M1137.12,750.06L1138.99,748.98M1135.99,748.14L1137.84,747.03M1134.83,746.25L1136.66,745.11M1133.64,744.37L1137.25,742.03M1132.41,742.52L1134.2,741.31M1131.15,740.69L1132.92,739.45M1129.86,738.88L1131.61,737.61M1128.54,737.09L1130.26,735.79M1127.19,735.32L1133.98,730.02M1125.81,733.58L1127.48,732.23M1124.39,731.87L1126.04,730.48M1122.95,730.18L1124.58,728.76M1121.48,728.51L1123.08,727.07M1119.98,726.87L1123.13,723.93M1118.45,725.26L1120,723.76M1116.89,723.67L1118.41,722.15M1115.3,722.12L1116.8,720.57M1113.69,720.58L1115.16,719.01M1112.05,719.08L1117.82,712.68M1110.39,717.61L1111.8,715.98M1108.7,716.16L1110.09,714.51M1106.99,714.75L1108.34,713.08M1105.25,713.37L1106.57,711.67M1103.48,712.01L1106.08,708.57M1101.7,710.69L1102.96,708.95M1099.89,709.4L1101.12,707.63M1098.06,708.14L1099.26,706.35M1096.2,706.91L1097.38,705.1" fill="none" stroke="#000" stroke-opacity="0.62" stroke-width="0.75"/>
<path d="M1111.42,678.38A159.6,159.6 0 0 0 1032.43,654.2L1031.29,686.42A127.36,127.36 0 0 1 1094.33,705.72Z" fill="url(#ge5)" stroke="#111" stroke-width="1.3" stroke-linejoin="miter"/>
<path d="M1092.43,704.55L1093.54,702.71M1090.52,703.42L1091.6,701.56M1088.58,702.33L1089.63,700.45M1086.63,701.27L1087.64,699.37M1084.66,700.24L1086.62,696.4M1082.67,699.25L1083.62,697.31M1080.67,698.29L1081.58,696.34M1078.64,697.37L1079.52,695.4M1076.6,696.48L1077.45,694.5M1074.55,695.63L1077.78,687.64M1072.48,694.81L1073.26,692.8M1070.4,694.04L1071.14,692.01M1068.31,693.29L1069.01,691.26M1066.2,692.59L1066.87,690.54M1064.08,691.92L1065.34,687.8M1061.95,691.29L1062.54,689.21M1059.81,690.69L1060.36,688.61M1057.65,690.13L1058.18,688.04M1055.49,689.61L1055.98,687.51M1053.32,689.13L1055.12,680.7M1051.15,688.69L1051.56,686.57M1048.96,688.28L1049.33,686.16M1046.77,687.91L1047.11,685.79M1044.57,687.58L1044.87,685.45M1042.37,687.29L1042.89,683.02M1040.16,687.04L1040.38,684.9M1037.94,686.83L1038.13,684.68M1035.73,686.65L1035.88,684.5M1033.51,686.52L1033.62,684.36" fill="none" stroke="#000" stroke-opacity="0.62" stroke-width="0.75"/>
<path d="M1032.43,654.2A159.6,159.6 0 0 0 951.92,672.76L967.05,701.23A127.36,127.36 0 0 1 1031.29,686.42Z" fill="url(#ga5)" stroke="#dc1e16" stroke-width="1.8" stroke-linejoin="miter"/>
<path d="M1029.07,686.36L1029.11,684.21M1026.84,686.34L1026.85,684.18M1024.62,686.36L1024.58,684.2M1022.4,686.42L1022.33,684.26M1020.18,686.51L1019.95,682.21M1017.96,686.65L1017.81,684.5M1015.74,686.82L1015.56,684.67M1013.53,687.03L1013.31,684.89M1011.32,687.28L1011.06,685.14M1009.12,687.57L1007.92,679.04M1006.92,687.9L1006.58,685.77M1004.73,688.27L1004.35,686.14M1002.54,688.67L1002.13,686.56M1000.36,689.11L999.92,687.01M998.19,689.59L997.23,685.39M996.03,690.11L995.51,688.02M993.88,690.67L993.32,688.59M991.74,691.26L991.14,689.19M989.61,691.89L988.98,689.83M987.49,692.56L984.83,684.36M985.38,693.26L984.68,691.23M983.28,694L982.55,691.98M981.2,694.78L980.43,692.77M979.13,695.6L978.32,693.6M977.08,696.45L975.39,692.48M975.04,697.33L974.16,695.36M973.02,698.25L972.11,696.3M971.01,699.21L970.06,697.27M969.02,700.2L968.04,698.28" fill="none" stroke="#b3150f" stroke-opacity="0.9" stroke-width="0.75"/>
<path d="M951.92,672.76A159.6,159.6 0 0 0 891.48,729.08L918.82,746.17A127.36,127.36 0 0 1 967.05,701.23Z" fill="url(#gw5)" stroke="#111" stroke-width="1.3" stroke-linejoin="miter"/>
<path d="M965.09,702.29L964.05,700.4M963.16,703.38L962.08,701.51M961.24,704.51L960.13,702.66M959.35,705.67L958.21,703.84M957.47,706.86L955.13,703.25M955.62,708.09L954.41,706.3M953.79,709.35L952.55,707.58M951.98,710.64L950.71,708.89M950.19,711.96L948.89,710.24M948.42,713.31L943.12,706.52M946.68,714.69L945.33,713.02M944.97,716.11L943.58,714.46M943.28,717.55L941.86,715.92M941.61,719.02L940.17,717.42M939.97,720.52L937.03,717.37M938.36,722.05L936.86,720.5M936.77,723.61L935.25,722.09M935.22,725.2L933.67,723.7M933.68,726.81L932.11,725.34M932.18,728.45L925.78,722.68M930.71,730.11L929.08,728.7M929.26,731.8L927.61,730.41M927.85,733.51L926.18,732.16M926.47,735.25L924.77,733.93M925.11,737.02L921.67,734.42M923.79,738.8L922.05,737.54M922.5,740.61L920.73,739.38M921.24,742.44L919.45,741.24M920.01,744.3L918.2,743.12" fill="none" stroke="#000" stroke-opacity="0.62" stroke-width="0.75"/>
<path d="M891.48,729.08A159.6,159.6 0 0 0 867.3,808.07L899.52,809.21A127.36,127.36 0 0 1 918.82,746.17Z" fill="url(#gf5)" stroke="#111" stroke-width="1.3" stroke-linejoin="miter"/>
<path d="M917.65,748.07L915.81,746.96M916.52,749.98L914.66,748.9M915.43,751.92L913.55,750.87M914.37,753.87L912.47,752.86M913.34,755.84L909.5,753.88M912.35,757.83L910.41,756.88M911.39,759.83L909.44,758.92M910.47,761.86L908.5,760.98M909.58,763.9L907.6,763.05M908.73,765.95L900.74,762.72M907.91,768.02L905.9,767.24M907.14,770.1L905.11,769.36M906.39,772.19L904.36,771.49M905.69,774.3L903.64,773.63M905.02,776.42L900.9,775.16M904.39,778.55L902.31,777.96M903.79,780.69L901.71,780.14M903.23,782.85L901.14,782.32M902.71,785.01L900.61,784.52M902.23,787.18L893.8,785.38M901.79,789.35L899.67,788.94M901.38,791.54L899.26,791.17M901.01,793.73L898.89,793.39M900.68,795.93L898.55,795.63M900.39,798.13L896.12,797.61M900.14,800.34L898,800.12M899.93,802.56L897.78,802.37M899.75,804.77L897.6,804.62M899.62,806.99L897.46,806.88" fill="none" stroke="#000" stroke-opacity="0.62" stroke-width="0.75"/>
<path d="M867.3,808.07A159.6,159.6 0 0 0 885.86,888.58L914.33,873.45A127.36,127.36 0 0 1 899.52,809.21Z" fill="url(#ge5)" stroke="#111" stroke-width="1.3" stroke-linejoin="miter"/>
<path d="M899.46,811.43L897.31,811.39M899.44,813.66L897.28,813.65M899.46,815.88L897.3,815.92M899.52,818.1L897.36,818.17M899.61,820.32L895.31,820.55M899.75,822.54L897.6,822.69M899.92,824.76L897.77,824.94M900.13,826.97L897.99,827.19M900.38,829.18L898.24,829.44M900.67,831.38L892.14,832.58M901,833.58L898.87,833.92M901.37,835.77L899.24,836.15M901.77,837.96L899.66,838.37M902.21,840.14L900.11,840.58M902.69,842.31L898.49,843.27M903.21,844.47L901.12,844.99M903.77,846.62L901.69,847.18M904.36,848.76L902.29,849.36M904.99,850.89L902.93,851.52M905.66,853.01L897.46,855.67M906.36,855.12L904.33,855.82M907.1,857.22L905.08,857.95M907.88,859.3L905.87,860.07M908.7,861.37L906.7,862.18M909.55,863.42L905.58,865.11M910.43,865.46L908.46,866.34M911.35,867.48L909.4,868.39M912.31,869.49L910.37,870.44M913.3,871.48L911.38,872.46" fill="none" stroke="#000" stroke-opacity="0.62" stroke-width="0.75"/>
<path d="M885.86,888.58A159.6,159.6 0 0 0 942.18,949.02L959.27,921.68A127.36,127.36 0 0 1 914.33,873.45Z" fill="url(#ga5)" stroke="#111" stroke-width="1.3" stroke-linejoin="miter"/>
<path d="M915.39,875.41L913.5,876.45M916.48,877.34L914.61,878.42M917.61,879.26L915.76,880.37M918.77,881.15L916.94,882.29M919.96,883.03L916.35,885.37M921.19,884.88L919.4,886.09M922.45,886.71L920.68,887.95M923.74,888.52L921.99,889.79M925.06,890.31L923.34,891.61M926.41,892.08L919.62,897.38M927.79,893.82L926.12,895.17M929.21,895.53L927.56,896.92M930.65,897.22L929.02,898.64M932.12,898.89L930.52,900.33M933.62,900.53L930.47,903.47M935.15,902.14L933.6,903.64M936.71,903.73L935.19,905.25M938.3,905.28L936.8,906.83M939.91,906.82L938.44,908.39M941.55,908.32L935.78,914.72M943.21,909.79L941.8,911.42M944.9,911.24L943.51,912.89M946.61,912.65L945.26,914.32M948.35,914.03L947.03,915.73M950.12,915.39L947.52,918.83M951.9,916.71L950.64,918.45M953.71,918L952.48,919.77M955.54,919.26L954.34,921.05M957.4,920.49L956.22,922.3" fill="none" stroke="#000" stroke-opacity="0.62" stroke-width="0.75"/>
<path d="M942.18,949.02A159.6,159.6 0 0 0 1021.17,973.2L1022.31,940.98A127.36,127.36 0 0 1 959.27,921.68Z" fill="url(#gw5)" stroke="#111" stroke-width="1.3" stroke-linejoin="miter"/>
<path d="M961.17,922.85L960.06,924.69M963.08,923.98L962,925.84M965.02,925.07L963.97,926.95M966.97,926.13L965.96,928.03M968.94,927.16L966.98,931M970.93,928.15L969.98,930.09M972.93,929.11L972.02,931.06M974.96,930.03L974.08,932M977,930.92L976.15,932.9M979.05,931.77L975.82,939.76M981.12,932.59L980.34,934.6M983.2,933.36L982.46,935.39M985.29,934.11L984.59,936.14M987.4,934.81L986.73,936.86M989.52,935.48L988.26,939.6M991.65,936.11L991.06,938.19M993.79,936.71L993.24,938.79M995.95,937.27L995.42,939.36M998.11,937.79L997.62,939.89M1000.28,938.27L998.48,946.7M1002.45,938.71L1002.04,940.83M1004.64,939.12L1004.27,941.24M1006.83,939.49L1006.49,941.61M1009.03,939.82L1008.73,941.95M1011.23,940.11L1010.71,944.38M1013.44,940.36L1013.22,942.5M1015.66,940.57L1015.47,942.72M1017.87,940.75L1017.72,942.9M1020.09,940.88L1019.98,943.04" fill="none" stroke="#000" stroke-opacity="0.62" stroke-width="0.75"/>
<path d="M1021.17,973.2A159.6,159.6 0 0 0 1101.68,954.64L1086.55,926.17A127.36,127.36 0 0 1 1022.31,940.98Z" fill="url(#gf5)" stroke="#dc1e16" stroke-width="1.8" stroke-linejoin="miter"/>
<path d="M1024.53,941.04L1024.49,943.19M1026.76,941.06L1026.75,943.22M1028.98,941.04L1029.02,943.2M1031.2,940.98L1031.27,943.14M1033.42,940.89L1033.65,945.19M1035.64,940.75L1035.79,942.9M1037.86,940.58L1038.04,942.73M1040.07,940.37L1040.29,942.51M1042.28,940.12L1042.54,942.26M1044.48,939.83L1045.68,948.36M1046.68,939.5L1047.02,941.63M1048.87,939.13L1049.25,941.26M1051.06,938.73L1051.47,940.84M1053.24,938.29L1053.68,940.39M1055.41,937.81L1056.37,942.01M1057.57,937.29L1058.09,939.38M1059.72,936.73L1060.28,938.81M1061.86,936.14L1062.46,938.21M1063.99,935.51L1064.62,937.57M1066.11,934.84L1068.77,943.04M1068.22,934.14L1068.92,936.17M1070.32,933.4L1071.05,935.42M1072.4,932.62L1073.17,934.63M1074.47,931.8L1075.28,933.8M1076.52,930.95L1078.21,934.92M1078.56,930.07L1079.44,932.04M1080.58,929.15L1081.49,931.1M1082.59,928.19L1083.54,930.13M1084.58,927.2L1085.56,929.12" fill="none" stroke="#b3150f" stroke-opacity="0.9" stroke-width="0.75"/>
<path d="M1101.68,954.64A159.6,159.6 0 0 0 1162.12,898.32L1134.78,881.23A127.36,127.36 0 0 1 1086.55,926.17Z" fill="url(#ge5)" stroke="#111" stroke-width="1.3" stroke-linejoin="miter"/>
<path d="M1088.51,925.11L1089.55,927M1090.44,924.02L1091.52,925.89M1092.36,922.89L1093.47,924.74M1094.25,921.73L1095.39,923.56M1096.13,920.54L1098.47,924.15M1097.98,919.31L1099.19,921.1M1099.81,918.05L1101.05,919.82M1101.62,916.76L1102.89,918.51M1103.41,915.44L1104.71,917.16M1105.18,914.09L1110.48,920.88M1106.92,912.71L1108.27,914.38M1108.63,911.29L1110.02,912.94M1110.32,909.85L1111.74,911.48M1111.99,908.38L1113.43,909.98M1113.63,906.88L1116.57,910.03M1115.24,905.35L1116.74,906.9M1116.83,903.79L1118.35,905.31M1118.38,902.2L1119.93,903.7M1119.92,900.59L1121.49,902.06M1121.42,898.95L1127.82,904.72M1122.89,897.29L1124.52,898.7M1124.34,895.6L1125.99,896.99M1125.75,893.89L1127.42,895.24M1127.13,892.15L1128.83,893.47M1128.49,890.38L1131.93,892.98M1129.81,888.6L1131.55,889.86M1131.1,886.79L1132.87,888.02M1132.36,884.96L1134.15,886.16M1133.59,883.1L1135.4,884.28" fill="none" stroke="#000" stroke-opacity="0.62" stroke-width="0.75"/>
<path d="M1162.12,898.32A159.6,159.6 0 0 0 1186.3,819.33L1154.08,818.19A127.36,127.36 0 0 1 1134.78,881.23Z" fill="url(#ga5)" stroke="#111" stroke-width="1.3" stroke-linejoin="miter"/>
<path d="M1135.95,879.33L1137.79,880.44M1137.08,877.42L1138.94,878.5M1138.17,875.48L1140.05,876.53M1139.23,873.53L1141.13,874.54M1140.26,871.56L1144.1,873.52M1141.25,869.57L1143.19,870.52M1142.21,867.57L1144.16,868.48M1143.13,865.54L1145.1,866.42M1144.02,863.5L1146,864.35M1144.87,861.45L1152.86,864.68M1145.69,859.38L1147.7,860.16M1146.46,857.3L1148.49,858.04M1147.21,855.21L1149.24,855.91M1147.91,853.1L1149.96,853.77M1148.58,850.98L1152.7,852.24M1149.21,848.85L1151.29,849.44M1149.81,846.71L1151.89,847.26M1150.37,844.55L1152.46,845.08M1150.89,842.39L1152.99,842.88M1151.37,840.22L1159.8,842.02M1151.81,838.05L1153.93,838.46M1152.22,835.86L1154.34,836.23M1152.59,833.67L1154.71,834.01M1152.92,831.47L1155.05,831.77M1153.21,829.27L1157.48,829.79M1153.46,827.06L1155.6,827.28M1153.67,824.84L1155.82,825.03M1153.85,822.63L1156,822.78M1153.98,820.41L1156.14,820.52" fill="none" stroke="#000" stroke-opacity="0.62" stroke-width="0.75"/>
<path d="M1186.3,819.33A159.6,159.6 0 0 0 1167.74,738.82L1139.27,753.95A127.36,127.36 0 0 1 1154.08,818.19Z" fill="url(#gw5)" stroke="#111" stroke-width="1.3" stroke-linejoin="miter"/>
<path d="M1154.14,815.97L1156.29,816.01M1154.16,813.74L1156.32,813.75M1154.14,811.52L1156.3,811.48M1154.08,809.3L1156.24,809.23M1153.99,807.08L1158.29,806.85M1153.85,804.86L1156,804.71M1153.68,802.64L1155.83,802.46M1153.47,800.43L1155.61,800.21M1153.22,798.22L1155.36,797.96M1152.93,796.02L1161.46,794.82M1152.6,793.82L1154.73,793.48M1152.23,791.63L1154.36,791.25M1151.83,789.44L1153.94,789.03M1151.39,787.26L1153.49,786.82M1150.91,785.09L1155.11,784.13M1150.39,782.93L1152.48,782.41M1149.83,780.78L1151.91,780.22M1149.24,778.64L1151.31,778.04M1148.61,776.51L1150.67,775.88M1147.94,774.39L1156.14,771.73M1147.24,772.28L1149.27,771.58M1146.5,770.18L1148.52,769.45M1145.72,768.1L1147.73,767.33M1144.9,766.03L1146.9,765.22M1144.05,763.98L1148.02,762.29M1143.17,761.94L1145.14,761.06M1142.25,759.92L1144.2,759.01M1141.29,757.91L1143.23,756.96M1140.3,755.92L1142.22,754.94" fill="none" stroke="#000" stroke-opacity="0.62" stroke-width="0.75"/>
<line x1="1031.29" y1="686.42" x2="1032.43" y2="654.2" stroke="#8e1612" stroke-width="1.9"/>
<line x1="1022.31" y1="940.98" x2="1021.17" y2="973.2" stroke="#8e1612" stroke-width="1.9"/>
<path transform="translate(1131.77,715.88) scale(0.97)" d="M-3.6,-1.1C-6.4,-0.4 -7.6,-2.6 -7.3,-4.2C-6.9,-6.6 -4.3,-7.3 -2.7,-6.3C-1.2,-5.4 -0.2,-4 0,-2.6L0,7.2M3.6,-1.1C6.4,-0.4 7.6,-2.6 7.3,-4.2C6.9,-6.6 4.3,-7.3 2.7,-6.3C1.2,-5.4 0.2,-4 0,-2.6" fill="none" stroke="#ea3522" stroke-width="1.22" stroke-linecap="round" stroke-linejoin="round"/>
<path transform="translate(1068.8,676.5) scale(0.97)" d="M-5.7,-6.8C-4.6,-3.6 -2.4,-3.9 0,-3.9C2.4,-3.9 4.6,-3.6 5.7,-6.8M5.2,1.3A5.2,5.2 0 1 1 -5.2,1.3A5.2,5.2 0 1 1 5.2,1.3" fill="none" stroke="#1a681a" stroke-width="1.22" stroke-linecap="round" stroke-linejoin="round"/>
<path transform="translate(994.57,673.89) scale(0.97)" d="M-5.7,-6.6C-3.6,-5 3.6,-5 5.7,-6.6M-5.7,6.6C-3.6,5 3.6,5 5.7,6.6M-2.9,-5.2L-2.9,5.2M2.9,-5.2L2.9,5.2" fill="none" stroke="#22a3df" stroke-width="1.22" stroke-linecap="round" stroke-linejoin="round"/>
<path transform="translate(928.98,708.73) scale(0.97)" d="M-3.5,-0.1A2.45,2.45 0 1 1 -8.4,-0.1A2.45,2.45 0 1 1 -3.5,-0.1M8.3,-0.1A2.45,2.45 0 1 1 3.4,-0.1A2.45,2.45 0 1 1 8.3,-0.1M-8.1,-1.2C-6.8,-5.6 1.5,-8.6 6.8,-5.3M8.1,1.0C6.8,5.4 -1.5,8.4 -6.8,5.3" fill="none" stroke="#a322d6" stroke-width="1.22" stroke-linecap="round" stroke-linejoin="round"/>
<path transform="translate(889.6,771.7) scale(0.97)" d="M-1.9,1.3A2.3,2.3 0 1 1 -6.5,1.3A2.3,2.3 0 1 1 -1.9,1.3M-2.4,-0.4C-3.4,-4.6 -1.2,-6.8 1.4,-6.7C4.2,-6.6 5.8,-4.2 4.6,-1.6C3.4,0.8 0.6,2.4 1,4.6C1.4,6.8 4.6,7.4 5.9,4.4" fill="none" stroke="#ea4a1e" stroke-width="1.22" stroke-linecap="round" stroke-linejoin="round"/>
<path transform="translate(886.99,845.93) scale(0.97)" d="M-9.2,-4.4C-8.6,-6.8 -6.4,-7.8 -4.5,-6.4L-4.5,6.2M-4.5,-5.6C-3,-7.8 -0.6,-7.8 0.3,-6L0.3,6.2M0.3,-5.6C1.8,-7.8 4.4,-7.8 4.9,-5.6L4.9,3C5.2,5 6.4,6 8,6.2M4.9,-2.6C6.2,-4.6 8.4,-4.4 8.7,-2.8C9,-0.8 6.2,3.2 3.4,9.2" fill="none" stroke="#1a681a" stroke-width="1.22" stroke-linecap="round" stroke-linejoin="round"/>
<path transform="translate(921.83,911.52) scale(0.97)" d="M-8.8,6.5L8.8,6.5M-8.8,2.4L-2.4,2.4C-5.6,0.4 -6,-3.6 -3.2,-5.6C-1,-7.2 1.4,-7.2 3.2,-5.6C6,-3.6 5.6,0.4 2.4,2.4L8.8,2.4" fill="none" stroke="#22a3df" stroke-width="1.22" stroke-linecap="round" stroke-linejoin="round"/>
<path transform="translate(984.8,950.9) scale(0.97)" d="M-8.6,-4C-8,-6.4 -5.8,-7.4 -4.4,-6.2L-4.4,6.2M-4.4,-5.4C-3.2,-7.4 -1.4,-7.4 -0.9,-5.8L-0.9,6.2M-0.9,-5.4C0.4,-7.4 2.6,-7.4 3.1,-5.4L3.1,4C3.2,6.4 5.2,7 6.2,5.4C7.2,3.8 7.2,1.8 5.8,-0.4" fill="none" stroke="#9a66ee" stroke-width="1.22" stroke-linecap="round" stroke-linejoin="round"/>
<path transform="translate(1059.03,953.51) scale(0.97)" d="M-7.2,6.4L7.2,-6.2M3.4,-6.1L7.2,-6.2L7,-2.4M-5.4,-1.2L1.2,5.8" fill="none" stroke="#ea3522" stroke-width="1.22" stroke-linecap="round" stroke-linejoin="round"/>
<path transform="translate(1124.62,918.67) scale(0.97)" d="M-5.8,-6.4L6.4,-6.4L0.4,-0.2M5.8,3.4A3.5,3.5 0 1 1 -1.2,3.4A3.5,3.5 0 1 1 5.8,3.4M-0.4,0.4C-4.4,0.8 -6.8,3.2 -7.6,6.8" fill="none" stroke="#1a681a" stroke-width="1.22" stroke-linecap="round" stroke-linejoin="round"/>
<path transform="translate(1164,855.7) scale(0.97)" d="M-6.8,-0.8L-1.4,-5.6L-1.4,-0.4L3.4,-5.4L3.6,-0.6L8.6,-5.4L8.6,-0.8M-8.8,6.2L-3.6,0.9L-3.6,6.2L0.8,1.2L0.8,6.2L5.6,1.2L5.6,5.4" fill="none" stroke="#1c9be0" stroke-width="1.22" stroke-linecap="round" stroke-linejoin="round"/>
<path transform="translate(1166.61,781.47) scale(0.97)" d="M-5.4,-6.4C-2.4,-2.4 -2.4,2.4 -5.2,6.4M5.4,-6.4C2.4,-2.4 2.4,2.4 5.2,6.4M-5.2,0L5.4,0" fill="none" stroke="#9a66ee" stroke-width="1.22" stroke-linecap="round" stroke-linejoin="round"/>
<circle cx="1026.8" cy="813.7" r="85.39" fill="none" stroke="#1a1a1a" stroke-width="1.05"/>
<line x1="1015.39" y1="813.7" x2="899.44" y2="813.7" stroke="#2b2b2b" stroke-width="1.55"/>
<line x1="1016.22" y1="817.97" x2="908.7" y2="861.37" stroke="#939393" stroke-width="0.8"/>
<line x1="1019.46" y1="822.44" x2="944.9" y2="911.24" stroke="#939393" stroke-width="0.8"/>
<line x1="1025.44" y1="825.03" x2="1011.68" y2="940.16" stroke="#939393" stroke-width="0.8"/>
<line x1="1032.33" y1="823.68" x2="1088.51" y2="925.11" stroke="#939393" stroke-width="0.8"/>
<line x1="1036.87" y1="819.06" x2="1139.23" y2="873.53" stroke="#939393" stroke-width="0.8"/>
<line x1="1038.21" y1="813.7" x2="1154.16" y2="813.7" stroke="#c9c9c9" stroke-width="1.5"/>
<line x1="1037.38" y1="809.43" x2="1144.9" y2="766.03" stroke="#939393" stroke-width="0.8"/>
<line x1="1034.14" y1="804.96" x2="1108.7" y2="716.16" stroke="#939393" stroke-width="0.8"/>
<line x1="1028.16" y1="802.37" x2="1041.92" y2="687.24" stroke="#111" stroke-width="1.5"/>
<line x1="1021.27" y1="803.72" x2="965.09" y2="702.29" stroke="#939393" stroke-width="0.8"/>
<line x1="1016.73" y1="808.34" x2="914.37" y2="753.87" stroke="#939393" stroke-width="0.8"/>
<circle cx="1026.8" cy="813.7" r="11.41" fill="#fff" stroke="#1a1a1a" stroke-width="1.15"/>
<g font-family="Liberation Sans, Arial, sans-serif" text-anchor="middle" fill="#111"><text x="947.28" y="815.4" font-size="4.99">2°</text><text x="1003.46" y="819.73" font-size="4.49">1</text><text x="953.1" y="845.38" font-size="4.99">24°</text><text x="1007.56" y="829.17" font-size="4.49">2</text><text x="975.88" y="876.75" font-size="4.99">22°</text><text x="1017.35" y="837.02" font-size="4.49">3</text><text x="1017.88" y="894.95" font-size="4.99">25°</text><text x="1031.37" y="838.53" font-size="4.49">4</text><text x="1066.22" y="885.48" font-size="4.99">1°</text><text x="1043.76" y="831.87" font-size="4.49">5</text><text x="1098.13" y="853.03" font-size="4.99">4°</text><text x="1049.87" y="820.95" font-size="4.49">6</text><text x="1107.52" y="815.4" font-size="4.99">2°</text><text x="1050.14" y="810.66" font-size="4.49">7</text><text x="1101.69" y="785.41" font-size="4.99">24°</text><text x="1046.04" y="801.23" font-size="4.49">8</text><text x="1078.92" y="754.04" font-size="4.99">22°</text><text x="1036.25" y="793.37" font-size="4.49">9</text><text x="1036.91" y="735.84" font-size="4.99">25°</text><text x="1022.23" y="791.86" font-size="4.49">10</text><text x="988.58" y="745.31" font-size="4.99">1°</text><text x="1009.84" y="798.52" font-size="4.49">11</text><text x="956.67" y="777.76" font-size="4.99">4°</text><text x="1003.73" y="809.44" font-size="4.49">12</text></g>
<line x1="867.2" y1="813.7" x2="852.94" y2="813.7" stroke="#1a681a" stroke-width="1.4"/>
<path d="M845.95,813.7L857.13,807.81L852.34,813.7L857.13,819.59Z" fill="none" stroke="#1a681a" stroke-width="1.35" stroke-linejoin="miter"/>
<g font-family="Liberation Sans, Arial, sans-serif" text-anchor="middle" fill="#1a681a"><text x="860.22" y="798.44" font-size="6.58">2°</text><text x="859.82" y="804.52" font-size="4.49">01</text></g>
<line x1="1186.4" y1="813.7" x2="1198.87" y2="813.7" stroke="#9a66ee" stroke-width="1.2"/>
<path d="M1198.37,813.7L1208.34,808.71L1204.16,813.7L1208.34,818.69Z" fill="none" stroke="#9a66ee" stroke-width="1.2" stroke-linejoin="miter"/>
<line x1="1045.75" y1="655.23" x2="1046.95" y2="645.23" stroke="#2c6340" stroke-width="1.3"/>
<circle cx="1047.59" cy="639.88" r="5.29" fill="none" stroke="#2c6340" stroke-width="1.3"/>
<g font-family="Liberation Sans, Arial, sans-serif" text-anchor="middle" fill="#2c6340"><text x="1061" y="649.64" font-size="6.58">25°</text><text x="1061.3" y="654.83" font-size="4.49">13</text></g>
<line x1="1007.85" y1="972.17" x2="1006.59" y2="982.67" stroke="#9a66ee" stroke-width="1.2"/>
<path d="M1000.37,988.72A5.59,5.59 0 1 1 1011.22,990.02" fill="none" stroke="#9a66ee" stroke-width="1.3"/>
<path d="M1013.89,932.18Q1013.92,931.9 1013.09,939.52" fill="none" stroke="#8f74ee" stroke-opacity="0.7" stroke-width="0.9"/>
<circle cx="1014.64" cy="925.24" r="6.98" fill="none" stroke="#8f74ee" stroke-width="1.35"/>
<circle cx="1014.64" cy="925.24" r="1.25" fill="#a040cc"/>
<g font-family="Liberation Sans, Arial, sans-serif" text-anchor="middle" fill="#8f74ee"><text x="1016.71" y="908.16" font-size="6.58">25°</text><text x="1017.01" y="914.04" font-size="4.49">48</text></g>
</g>
<g id="chart6">
<rect x="1488" y="640" width="393" height="361.5" fill="#fff"/>
<circle cx="1673.9" cy="821.85" r="160.2" fill="#fff"/>
<path d="M1827.3,868.02A160.2,160.2 0 0 0 1829.84,785.13L1798.34,792.55A127.84,127.84 0 0 1 1796.32,858.69Z" fill="url(#gf6)" stroke="#111" stroke-width="1.3" stroke-linejoin="miter"/>
<path d="M1796.94,856.55L1799.02,857.14M1797.53,854.4L1799.62,854.95M1798.08,852.24L1800.18,852.75M1798.59,850.06L1800.7,850.54M1799.06,847.88L1803.3,848.76M1799.5,845.7L1801.62,846.1M1799.89,843.5L1802.02,843.87M1800.25,841.3L1802.39,841.63M1800.57,839.09L1802.71,839.38M1800.85,836.88L1809.44,837.89M1801.1,834.66L1803.25,834.87M1801.3,832.44L1803.46,832.62M1801.47,830.21L1803.62,830.35M1801.59,827.98L1803.75,828.09M1801.68,825.75L1806,825.89M1801.73,823.52L1803.89,823.55M1801.74,821.29L1803.9,821.28M1801.71,819.06L1803.87,819.01M1801.64,816.83L1803.8,816.75M1801.53,814.6L1810.17,814.11M1801.39,812.38L1803.54,812.22M1801.2,810.15L1803.36,809.95M1800.98,807.93L1803.13,807.7M1800.72,805.72L1802.86,805.44M1800.42,803.51L1804.7,802.89M1800.08,801.3L1802.21,800.95M1799.7,799.1L1801.83,798.72M1799.28,796.91L1801.4,796.49M1798.83,794.73L1800.94,794.27" fill="none" stroke="#000" stroke-opacity="0.62" stroke-width="0.75"/>
<path d="M1829.84,785.13A160.2,160.2 0 0 0 1790.59,712.08L1767.01,734.26A127.84,127.84 0 0 1 1798.34,792.55Z" fill="url(#ge6)" stroke="#111" stroke-width="1.3" stroke-linejoin="miter"/>
<path d="M1797.81,790.38L1799.9,789.85M1797.24,788.22L1799.32,787.66M1796.63,786.08L1798.71,785.47M1795.99,783.94L1798.05,783.3M1795.31,781.82L1799.42,780.46M1794.59,779.7L1796.63,778.99M1793.84,777.6L1795.87,776.85M1793.05,775.52L1795.06,774.73M1792.22,773.44L1794.22,772.62M1791.36,771.39L1799.31,767.97M1790.46,769.34L1792.43,768.46M1789.53,767.32L1791.48,766.4M1788.56,765.31L1790.5,764.35M1787.55,763.32L1789.47,762.33M1786.51,761.34L1790.32,759.29M1785.44,759.38L1787.33,758.33M1784.33,757.45L1786.2,756.36M1783.19,755.53L1785.04,754.41M1782.02,753.63L1783.85,752.48M1780.81,751.76L1788.05,747.01M1779.57,749.9L1781.36,748.68M1778.3,748.07L1780.07,746.82M1777,746.26L1778.74,744.98M1775.66,744.47L1777.38,743.16M1774.29,742.71L1777.69,740.03M1772.9,740.97L1774.57,739.6M1771.47,739.25L1773.12,737.85M1770.01,737.56L1771.64,736.13M1768.53,735.89L1770.13,734.44" fill="none" stroke="#000" stroke-opacity="0.62" stroke-width="0.75"/>
<path d="M1790.59,712.08A160.2,160.2 0 0 0 1720.07,668.45L1710.74,699.43A127.84,127.84 0 0 1 1767.01,734.26Z" fill="url(#ga6)" stroke="#111" stroke-width="1.3" stroke-linejoin="miter"/>
<path d="M1765.47,732.64L1767.02,731.14M1763.9,731.06L1765.42,729.52M1762.3,729.5L1763.8,727.94M1760.68,727.97L1762.15,726.39M1759.03,726.47L1761.91,723.25M1757.35,725L1758.76,723.36M1755.65,723.56L1757.03,721.9M1753.92,722.15L1755.27,720.46M1752.17,720.77L1753.49,719.06M1750.39,719.42L1755.57,712.49M1748.59,718.1L1749.85,716.34M1746.77,716.81L1748,715.03M1744.92,715.56L1746.13,713.76M1743.06,714.33L1744.23,712.51M1741.17,713.14L1743.45,709.46M1739.26,711.98L1740.37,710.13M1737.34,710.86L1738.41,708.98M1735.39,709.77L1736.43,707.87M1733.42,708.71L1734.43,706.8M1731.44,707.69L1735.33,699.97M1729.44,706.71L1730.38,704.76M1727.42,705.75L1728.33,703.79M1725.39,704.84L1726.26,702.86M1723.34,703.96L1724.17,701.96M1721.27,703.11L1722.87,699.09M1719.19,702.3L1719.96,700.28M1717.1,701.53L1717.83,699.49M1714.99,700.79L1715.69,698.75M1712.87,700.1L1713.53,698.04" fill="none" stroke="#000" stroke-opacity="0.62" stroke-width="0.75"/>
<path d="M1720.07,668.45A160.2,160.2 0 0 0 1637.18,665.91L1644.6,697.41A127.84,127.84 0 0 1 1710.74,699.43Z" fill="url(#gw6)" stroke="#111" stroke-width="1.3" stroke-linejoin="miter"/>
<path d="M1708.6,698.81L1709.19,696.73M1706.45,698.22L1707,696.13M1704.29,697.67L1704.8,695.57M1702.11,697.16L1702.59,695.05M1699.93,696.69L1700.81,692.45M1697.75,696.25L1698.15,694.13M1695.55,695.86L1695.92,693.73M1693.35,695.5L1693.68,693.36M1691.14,695.18L1691.43,693.04M1688.93,694.9L1689.94,686.31M1686.71,694.65L1686.92,692.5M1684.49,694.45L1684.67,692.29M1682.26,694.28L1682.4,692.13M1680.03,694.16L1680.14,692M1677.8,694.07L1677.94,689.75M1675.57,694.02L1675.6,691.86M1673.34,694.01L1673.33,691.85M1671.11,694.04L1671.06,691.88M1668.88,694.11L1668.8,691.95M1666.65,694.22L1666.16,685.58M1664.43,694.36L1664.27,692.21M1662.2,694.55L1662,692.39M1659.98,694.77L1659.75,692.62M1657.77,695.03L1657.49,692.89M1655.56,695.33L1654.94,691.05M1653.35,695.67L1653,693.54M1651.15,696.05L1650.77,693.92M1648.96,696.47L1648.54,694.35M1646.78,696.92L1646.32,694.81" fill="none" stroke="#000" stroke-opacity="0.62" stroke-width="0.75"/>
<path d="M1637.18,665.91A160.2,160.2 0 0 0 1564.13,705.16L1586.31,728.74A127.84,127.84 0 0 1 1644.6,697.41Z" fill="url(#gf6)" stroke="#111" stroke-width="1.3" stroke-linejoin="miter"/>
<path d="M1642.43,697.94L1641.9,695.85M1640.27,698.51L1639.71,696.43M1638.13,699.12L1637.52,697.04M1635.99,699.76L1635.35,697.7M1633.87,700.44L1632.51,696.33M1631.75,701.16L1631.04,699.12M1629.65,701.91L1628.9,699.88M1627.57,702.7L1626.78,700.69M1625.49,703.53L1624.67,701.53M1623.44,704.39L1620.02,696.44M1621.39,705.29L1620.51,703.32M1619.37,706.22L1618.45,704.27M1617.36,707.19L1616.4,705.25M1615.37,708.2L1614.38,706.28M1613.39,709.24L1611.34,705.43M1611.43,710.31L1610.38,708.42M1609.5,711.42L1608.41,709.55M1607.58,712.56L1606.46,710.71M1605.68,713.73L1604.53,711.9M1603.81,714.94L1599.06,707.7M1601.95,716.18L1600.73,714.39M1600.12,717.45L1598.87,715.68M1598.31,718.75L1597.03,717.01M1596.52,720.09L1595.21,718.37M1594.76,721.46L1592.08,718.06M1593.02,722.85L1591.65,721.18M1591.3,724.28L1589.9,722.63M1589.61,725.74L1588.18,724.11M1587.94,727.22L1586.49,725.62" fill="none" stroke="#000" stroke-opacity="0.62" stroke-width="0.75"/>
<path d="M1564.13,705.16A160.2,160.2 0 0 0 1520.5,775.68L1551.48,785.01A127.84,127.84 0 0 1 1586.31,728.74Z" fill="url(#ge6)" stroke="#111" stroke-width="1.3" stroke-linejoin="miter"/>
<path d="M1584.69,730.28L1583.19,728.73M1583.11,731.85L1581.57,730.33M1581.55,733.45L1579.99,731.95M1580.02,735.07L1578.44,733.6M1578.52,736.72L1575.3,733.84M1577.05,738.4L1575.41,736.99M1575.61,740.1L1573.95,738.72M1574.2,741.83L1572.51,740.48M1572.82,743.58L1571.11,742.26M1571.47,745.36L1564.54,740.18M1570.15,747.16L1568.39,745.9M1568.86,748.98L1567.08,747.75M1567.61,750.83L1565.81,749.62M1566.38,752.69L1564.56,751.52M1565.19,754.58L1561.51,752.3M1564.03,756.49L1562.18,755.38M1562.91,758.41L1561.03,757.34M1561.82,760.36L1559.92,759.32M1560.76,762.33L1558.85,761.32M1559.74,764.31L1552.02,760.42M1558.76,766.31L1556.81,765.37M1557.8,768.33L1555.84,767.42M1556.89,770.36L1554.91,769.49M1556.01,772.41L1554.01,771.58M1555.16,774.48L1551.14,772.88M1554.35,776.56L1552.33,775.79M1553.58,778.65L1551.54,777.92M1552.84,780.76L1550.8,780.06M1552.15,782.88L1550.09,782.22" fill="none" stroke="#000" stroke-opacity="0.62" stroke-width="0.75"/>
<path d="M1520.5,775.68A160.2,160.2 0 0 0 1517.96,858.57L1549.46,851.15A127.84,127.84 0 0 1 1551.48,785.01Z" fill="url(#ga6)" stroke="#111" stroke-width="1.3" stroke-linejoin="miter"/>
<path d="M1550.86,787.15L1548.78,786.56M1550.27,789.3L1548.18,788.75M1549.72,791.46L1547.62,790.95M1549.21,793.64L1547.1,793.16M1548.74,795.82L1544.5,794.94M1548.3,798L1546.18,797.6M1547.91,800.2L1545.78,799.83M1547.55,802.4L1545.41,802.07M1547.23,804.61L1545.09,804.32M1546.95,806.82L1538.36,805.81M1546.7,809.04L1544.55,808.83M1546.5,811.26L1544.34,811.08M1546.33,813.49L1544.18,813.35M1546.21,815.72L1544.05,815.61M1546.12,817.95L1541.8,817.81M1546.07,820.18L1543.91,820.15M1546.06,822.41L1543.9,822.42M1546.09,824.64L1543.93,824.69M1546.16,826.87L1544,826.95M1546.27,829.1L1537.63,829.59M1546.41,831.32L1544.26,831.48M1546.6,833.55L1544.44,833.75M1546.82,835.77L1544.67,836M1547.08,837.98L1544.94,838.26M1547.38,840.19L1543.1,840.81M1547.72,842.4L1545.59,842.75M1548.1,844.6L1545.97,844.98M1548.52,846.79L1546.4,847.21M1548.97,848.97L1546.86,849.43" fill="none" stroke="#000" stroke-opacity="0.62" stroke-width="0.75"/>
<path d="M1517.96,858.57A160.2,160.2 0 0 0 1557.21,931.62L1580.79,909.44A127.84,127.84 0 0 1 1549.46,851.15Z" fill="url(#gw6)" stroke="#111" stroke-width="1.3" stroke-linejoin="miter"/>
<path d="M1549.99,853.32L1547.9,853.85M1550.56,855.48L1548.48,856.04M1551.17,857.62L1549.09,858.23M1551.81,859.76L1549.75,860.4M1552.49,861.88L1548.38,863.24M1553.21,864L1551.17,864.71M1553.96,866.1L1551.93,866.85M1554.75,868.18L1552.74,868.97M1555.58,870.26L1553.58,871.08M1556.44,872.31L1548.49,875.73M1557.34,874.36L1555.37,875.24M1558.27,876.38L1556.32,877.3M1559.24,878.39L1557.3,879.35M1560.25,880.38L1558.33,881.37M1561.29,882.36L1557.48,884.41M1562.36,884.32L1560.47,885.37M1563.47,886.25L1561.6,887.34M1564.61,888.17L1562.76,889.29M1565.78,890.07L1563.95,891.22M1566.99,891.94L1559.75,896.69M1568.23,893.8L1566.44,895.02M1569.5,895.63L1567.73,896.88M1570.8,897.44L1569.06,898.72M1572.14,899.23L1570.42,900.54M1573.51,900.99L1570.11,903.67M1574.9,902.73L1573.23,904.1M1576.33,904.45L1574.68,905.85M1577.79,906.14L1576.16,907.57M1579.27,907.81L1577.67,909.26" fill="none" stroke="#000" stroke-opacity="0.62" stroke-width="0.75"/>
<path d="M1557.21,931.62A160.2,160.2 0 0 0 1627.73,975.25L1637.06,944.27A127.84,127.84 0 0 1 1580.79,909.44Z" fill="url(#gf6)" stroke="#111" stroke-width="1.3" stroke-linejoin="miter"/>
<path d="M1582.33,911.06L1580.78,912.56M1583.9,912.64L1582.38,914.18M1585.5,914.2L1584,915.76M1587.12,915.73L1585.65,917.31M1588.77,917.23L1585.89,920.45M1590.45,918.7L1589.04,920.34M1592.15,920.14L1590.77,921.8M1593.88,921.55L1592.53,923.24M1595.63,922.93L1594.31,924.64M1597.41,924.28L1592.23,931.21M1599.21,925.6L1597.95,927.36M1601.03,926.89L1599.8,928.67M1602.88,928.14L1601.67,929.94M1604.74,929.37L1603.57,931.19M1606.63,930.56L1604.35,934.24M1608.54,931.72L1607.43,933.57M1610.46,932.84L1609.39,934.72M1612.41,933.93L1611.37,935.83M1614.38,934.99L1613.37,936.9M1616.36,936.01L1612.47,943.73M1618.36,936.99L1617.42,938.94M1620.38,937.95L1619.47,939.91M1622.41,938.86L1621.54,940.84M1624.46,939.74L1623.63,941.74M1626.53,940.59L1624.93,944.61M1628.61,941.4L1627.84,943.42M1630.7,942.17L1629.97,944.21M1632.81,942.91L1632.11,944.95M1634.93,943.6L1634.27,945.66" fill="none" stroke="#000" stroke-opacity="0.62" stroke-width="0.75"/>
<path d="M1627.73,975.25A160.2,160.2 0 0 0 1710.62,977.79L1703.2,946.29A127.84,127.84 0 0 1 1637.06,944.27Z" fill="url(#ge6)" stroke="#111" stroke-width="1.3" stroke-linejoin="miter"/>
<path d="M1639.2,944.89L1638.61,946.97M1641.35,945.48L1640.8,947.57M1643.51,946.03L1643,948.13M1645.69,946.54L1645.21,948.65M1647.87,947.01L1646.99,951.25M1650.05,947.45L1649.65,949.57M1652.25,947.84L1651.88,949.97M1654.45,948.2L1654.12,950.34M1656.66,948.52L1656.37,950.66M1658.87,948.8L1657.86,957.39M1661.09,949.05L1660.88,951.2M1663.31,949.25L1663.13,951.41M1665.54,949.42L1665.4,951.57M1667.77,949.54L1667.66,951.7M1670,949.63L1669.86,953.95M1672.23,949.68L1672.2,951.84M1674.46,949.69L1674.47,951.85M1676.69,949.66L1676.74,951.82M1678.92,949.59L1679,951.75M1681.15,949.48L1681.64,958.12M1683.37,949.34L1683.53,951.49M1685.6,949.15L1685.8,951.31M1687.82,948.93L1688.05,951.08M1690.03,948.67L1690.31,950.81M1692.24,948.37L1692.86,952.65M1694.45,948.03L1694.8,950.16M1696.65,947.65L1697.03,949.78M1698.84,947.23L1699.26,949.35M1701.02,946.78L1701.48,948.89" fill="none" stroke="#000" stroke-opacity="0.62" stroke-width="0.75"/>
<path d="M1710.62,977.79A160.2,160.2 0 0 0 1783.67,938.54L1761.49,914.96A127.84,127.84 0 0 1 1703.2,946.29Z" fill="url(#ga6)" stroke="#111" stroke-width="1.3" stroke-linejoin="miter"/>
<path d="M1705.37,945.76L1705.9,947.85M1707.53,945.19L1708.09,947.27M1709.67,944.58L1710.28,946.66M1711.81,943.94L1712.45,946M1713.93,943.26L1715.29,947.37M1716.05,942.54L1716.76,944.58M1718.15,941.79L1718.9,943.82M1720.23,941L1721.02,943.01M1722.31,940.17L1723.13,942.17M1724.36,939.31L1727.78,947.26M1726.41,938.41L1727.29,940.38M1728.43,937.48L1729.35,939.43M1730.44,936.51L1731.4,938.45M1732.43,935.5L1733.42,937.42M1734.41,934.46L1736.46,938.27M1736.37,933.39L1737.42,935.28M1738.3,932.28L1739.39,934.15M1740.22,931.14L1741.34,932.99M1742.12,929.97L1743.27,931.8M1743.99,928.76L1748.74,936M1745.85,927.52L1747.07,929.31M1747.68,926.25L1748.93,928.02M1749.49,924.95L1750.77,926.69M1751.28,923.61L1752.59,925.33M1753.04,922.24L1755.72,925.64M1754.78,920.85L1756.15,922.52M1756.5,919.42L1757.9,921.07M1758.19,917.96L1759.62,919.59M1759.86,916.48L1761.31,918.08" fill="none" stroke="#000" stroke-opacity="0.62" stroke-width="0.75"/>
<path d="M1783.67,938.54A160.2,160.2 0 0 0 1827.3,868.02L1796.32,858.69A127.84,127.84 0 0 1 1761.49,914.96Z" fill="url(#gw6)" stroke="#111" stroke-width="1.3" stroke-linejoin="miter"/>
<path d="M1763.11,913.42L1764.61,914.97M1764.69,911.85L1766.23,913.37M1766.25,910.25L1767.81,911.75M1767.78,908.63L1769.36,910.1M1769.28,906.98L1772.5,909.86M1770.75,905.3L1772.39,906.71M1772.19,903.6L1773.85,904.98M1773.6,901.87L1775.29,903.22M1774.98,900.12L1776.69,901.44M1776.33,898.34L1783.26,903.52M1777.65,896.54L1779.41,897.8M1778.94,894.72L1780.72,895.95M1780.19,892.87L1781.99,894.08M1781.42,891.01L1783.24,892.18M1782.61,889.12L1786.29,891.4M1783.77,887.21L1785.62,888.32M1784.89,885.29L1786.77,886.36M1785.98,883.34L1787.88,884.38M1787.04,881.37L1788.95,882.38M1788.06,879.39L1795.78,883.28M1789.04,877.39L1790.99,878.33M1790,875.37L1791.96,876.28M1790.91,873.34L1792.89,874.21M1791.79,871.29L1793.79,872.12M1792.64,869.22L1796.66,870.82M1793.45,867.14L1795.47,867.91M1794.22,865.05L1796.26,865.78M1794.96,862.94L1797,863.64M1795.65,860.82L1797.71,861.48" fill="none" stroke="#000" stroke-opacity="0.62" stroke-width="0.75"/>
<path transform="translate(1817.85,826.25) scale(0.97)" d="M-3.6,-1.1C-6.4,-0.4 -7.6,-2.6 -7.3,-4.2C-6.9,-6.6 -4.3,-7.3 -2.7,-6.3C-1.2,-5.4 -0.2,-4 0,-2.6L0,7.2M3.6,-1.1C6.4,-0.4 7.6,-2.6 7.3,-4.2C6.9,-6.6 4.3,-7.3 2.7,-6.3C1.2,-5.4 0.2,-4 0,-2.6" fill="none" stroke="#ea3522" stroke-width="1.22" stroke-linecap="round" stroke-linejoin="round"/>
<path transform="translate(1800.77,753.68) scale(0.97)" d="M-5.7,-6.8C-4.6,-3.6 -2.4,-3.9 0,-3.9C2.4,-3.9 4.6,-3.6 5.7,-6.8M5.2,1.3A5.2,5.2 0 1 1 -5.2,1.3A5.2,5.2 0 1 1 5.2,1.3" fill="none" stroke="#1a681a" stroke-width="1.22" stroke-linecap="round" stroke-linejoin="round"/>
<path transform="translate(1749.69,699.38) scale(0.97)" d="M-5.7,-6.6C-3.6,-5 3.6,-5 5.7,-6.6M-5.7,6.6C-3.6,5 3.6,5 5.7,6.6M-2.9,-5.2L-2.9,5.2M2.9,-5.2L2.9,5.2" fill="none" stroke="#22a3df" stroke-width="1.22" stroke-linecap="round" stroke-linejoin="round"/>
<path transform="translate(1678.3,677.9) scale(0.97)" d="M-3.5,-0.1A2.45,2.45 0 1 1 -8.4,-0.1A2.45,2.45 0 1 1 -3.5,-0.1M8.3,-0.1A2.45,2.45 0 1 1 3.4,-0.1A2.45,2.45 0 1 1 8.3,-0.1M-8.1,-1.2C-6.8,-5.6 1.5,-8.6 6.8,-5.3M8.1,1.0C6.8,5.4 -1.5,8.4 -6.8,5.3" fill="none" stroke="#a322d6" stroke-width="1.22" stroke-linecap="round" stroke-linejoin="round"/>
<path transform="translate(1605.73,694.98) scale(0.97)" d="M-1.9,1.3A2.3,2.3 0 1 1 -6.5,1.3A2.3,2.3 0 1 1 -1.9,1.3M-2.4,-0.4C-3.4,-4.6 -1.2,-6.8 1.4,-6.7C4.2,-6.6 5.8,-4.2 4.6,-1.6C3.4,0.8 0.6,2.4 1,4.6C1.4,6.8 4.6,7.4 5.9,4.4" fill="none" stroke="#ea4a1e" stroke-width="1.22" stroke-linecap="round" stroke-linejoin="round"/>
<path transform="translate(1551.43,746.06) scale(0.97)" d="M-9.2,-4.4C-8.6,-6.8 -6.4,-7.8 -4.5,-6.4L-4.5,6.2M-4.5,-5.6C-3,-7.8 -0.6,-7.8 0.3,-6L0.3,6.2M0.3,-5.6C1.8,-7.8 4.4,-7.8 4.9,-5.6L4.9,3C5.2,5 6.4,6 8,6.2M4.9,-2.6C6.2,-4.6 8.4,-4.4 8.7,-2.8C9,-0.8 6.2,3.2 3.4,9.2" fill="none" stroke="#1a681a" stroke-width="1.22" stroke-linecap="round" stroke-linejoin="round"/>
<path transform="translate(1529.95,817.45) scale(0.97)" d="M-8.8,6.5L8.8,6.5M-8.8,2.4L-2.4,2.4C-5.6,0.4 -6,-3.6 -3.2,-5.6C-1,-7.2 1.4,-7.2 3.2,-5.6C6,-3.6 5.6,0.4 2.4,2.4L8.8,2.4" fill="none" stroke="#22a3df" stroke-width="1.22" stroke-linecap="round" stroke-linejoin="round"/>
<path transform="translate(1547.03,890.02) scale(0.97)" d="M-8.6,-4C-8,-6.4 -5.8,-7.4 -4.4,-6.2L-4.4,6.2M-4.4,-5.4C-3.2,-7.4 -1.4,-7.4 -0.9,-5.8L-0.9,6.2M-0.9,-5.4C0.4,-7.4 2.6,-7.4 3.1,-5.4L3.1,4C3.2,6.4 5.2,7 6.2,5.4C7.2,3.8 7.2,1.8 5.8,-0.4" fill="none" stroke="#9a66ee" stroke-width="1.22" stroke-linecap="round" stroke-linejoin="round"/>
<path transform="translate(1598.11,944.32) scale(0.97)" d="M-7.2,6.4L7.2,-6.2M3.4,-6.1L7.2,-6.2L7,-2.4M-5.4,-1.2L1.2,5.8" fill="none" stroke="#ea3522" stroke-width="1.22" stroke-linecap="round" stroke-linejoin="round"/>
<path transform="translate(1669.5,965.8) scale(0.97)" d="M-5.8,-6.4L6.4,-6.4L0.4,-0.2M5.8,3.4A3.5,3.5 0 1 1 -1.2,3.4A3.5,3.5 0 1 1 5.8,3.4M-0.4,0.4C-4.4,0.8 -6.8,3.2 -7.6,6.8" fill="none" stroke="#1a681a" stroke-width="1.22" stroke-linecap="round" stroke-linejoin="round"/>
<path transform="translate(1742.07,948.72) scale(0.97)" d="M-6.8,-0.8L-1.4,-5.6L-1.4,-0.4L3.4,-5.4L3.6,-0.6L8.6,-5.4L8.6,-0.8M-8.8,6.2L-3.6,0.9L-3.6,6.2L0.8,1.2L0.8,6.2L5.6,1.2L5.6,5.4" fill="none" stroke="#1c9be0" stroke-width="1.22" stroke-linecap="round" stroke-linejoin="round"/>
<path transform="translate(1796.37,897.64) scale(0.97)" d="M-5.4,-6.4C-2.4,-2.4 -2.4,2.4 -5.2,6.4M5.4,-6.4C2.4,-2.4 2.4,2.4 5.2,6.4M-5.2,0L5.4,0" fill="none" stroke="#9a66ee" stroke-width="1.22" stroke-linecap="round" stroke-linejoin="round"/>
<circle cx="1673.9" cy="821.85" r="85.71" fill="none" stroke="#1a1a1a" stroke-width="1.05"/>
<line x1="1662.45" y1="821.85" x2="1546.06" y2="821.85" stroke="#2b2b2b" stroke-width="1.55"/>
<line x1="1663.65" y1="826.97" x2="1559.54" y2="878.99" stroke="#939393" stroke-width="0.8"/>
<line x1="1667.84" y1="831.57" x2="1606.25" y2="930.32" stroke="#939393" stroke-width="0.8"/>
<line x1="1674.65" y1="833.28" x2="1682.26" y2="949.42" stroke="#939393" stroke-width="0.8"/>
<line x1="1680.99" y1="830.85" x2="1753.04" y2="922.24" stroke="#939393" stroke-width="0.8"/>
<line x1="1684.42" y1="826.39" x2="1791.27" y2="872.52" stroke="#939393" stroke-width="0.8"/>
<line x1="1685.35" y1="821.85" x2="1801.74" y2="821.85" stroke="#c9c9c9" stroke-width="1.5"/>
<line x1="1684.15" y1="816.73" x2="1788.26" y2="764.71" stroke="#939393" stroke-width="0.8"/>
<line x1="1679.96" y1="812.13" x2="1741.55" y2="713.38" stroke="#939393" stroke-width="0.8"/>
<line x1="1673.15" y1="810.42" x2="1665.54" y2="694.28" stroke="#111" stroke-width="1.5"/>
<line x1="1666.81" y1="812.85" x2="1594.76" y2="721.46" stroke="#939393" stroke-width="0.8"/>
<line x1="1663.38" y1="817.31" x2="1556.53" y2="771.18" stroke="#939393" stroke-width="0.8"/>
<circle cx="1673.9" cy="821.85" r="11.45" fill="#fff" stroke="#1a1a1a" stroke-width="1.15"/>
<g font-family="Liberation Sans, Arial, sans-serif" text-anchor="middle" fill="#111"><text x="1594.08" y="823.55" font-size="5.01">17°</text><text x="1650.67" y="828.83" font-size="4.51">1</text><text x="1602.56" y="859.5" font-size="5.01">13°</text><text x="1656.25" y="839.42" font-size="4.51">2</text><text x="1631.94" y="891.79" font-size="5.01">15°</text><text x="1668.08" y="846.5" font-size="4.51">3</text><text x="1679.76" y="903.8" font-size="5.01">20°</text><text x="1682.45" y="845.64" font-size="4.51">4</text><text x="1724.29" y="886.71" font-size="5.01">25°</text><text x="1692.82" y="837.9" font-size="4.51">5</text><text x="1748.33" y="855.43" font-size="5.01">23°</text><text x="1697.28" y="828.18" font-size="4.51">6</text><text x="1754.92" y="823.55" font-size="5.01">17°</text><text x="1697.13" y="817.87" font-size="4.51">7</text><text x="1746.44" y="787.61" font-size="5.01">13°</text><text x="1691.55" y="807.29" font-size="4.51">8</text><text x="1717.06" y="755.31" font-size="5.01">15°</text><text x="1679.72" y="800.2" font-size="4.51">9</text><text x="1669.24" y="743.3" font-size="5.01">20°</text><text x="1665.35" y="801.07" font-size="4.51">10</text><text x="1624.71" y="760.4" font-size="5.01">25°</text><text x="1654.98" y="808.8" font-size="4.51">11</text><text x="1600.67" y="791.68" font-size="5.01">23°</text><text x="1650.52" y="818.52" font-size="4.51">12</text></g>
<line x1="1513.7" y1="821.85" x2="1499.38" y2="821.85" stroke="#22a3df" stroke-width="1.4"/>
<path d="M1492.37,821.85L1503.59,815.94L1498.78,821.85L1503.59,827.76Z" fill="none" stroke="#22a3df" stroke-width="1.35" stroke-linejoin="miter"/>
<g font-family="Liberation Sans, Arial, sans-serif" text-anchor="middle" fill="#22a3df"><text x="1506.69" y="806.53" font-size="6.61">16°</text><text x="1506.29" y="812.64" font-size="4.51">45</text></g>
<line x1="1834.1" y1="821.85" x2="1846.62" y2="821.85" stroke="#e32a36" stroke-width="1.2"/>
<path d="M1846.12,821.85L1856.13,816.84L1851.92,821.85L1856.13,826.86Z" fill="none" stroke="#e32a36" stroke-width="1.2" stroke-linejoin="miter"/>
<line x1="1663.42" y1="661.99" x2="1662.76" y2="651.9" stroke="#a322d6" stroke-width="1.3"/>
<circle cx="1662.41" cy="646.51" r="5.31" fill="none" stroke="#a322d6" stroke-width="1.3"/>
<g font-family="Liberation Sans, Arial, sans-serif" text-anchor="middle" fill="#a322d6"><text x="1677.45" y="653.86" font-size="6.61">20°</text><text x="1677.75" y="659.06" font-size="4.51">30</text></g>
<line x1="1684.38" y1="981.71" x2="1685.07" y2="992.3" stroke="#1a681a" stroke-width="1.2"/>
<path d="M1680.04,999.41A5.61,5.61 0 1 1 1690.99,998.7" fill="none" stroke="#1a681a" stroke-width="1.3"/>
<path d="M1579.48,895.3Q1579.7,895.13 1573.63,899.85" fill="none" stroke="#8f74ee" stroke-opacity="0.7" stroke-width="0.9"/>
<circle cx="1585.01" cy="891" r="7.01" fill="none" stroke="#8f74ee" stroke-width="1.35"/>
<circle cx="1585.01" cy="891" r="1.25" fill="#a040cc"/>
<g font-family="Liberation Sans, Arial, sans-serif" text-anchor="middle" fill="#8f74ee"><text x="1598.21" y="880.07" font-size="6.61">24°</text><text x="1598.51" y="885.97" font-size="4.51">38</text></g>
</g>
<g font-family="Liberation Sans, Arial, sans-serif" fill="#0b0b0b">
<text y="93.4" font-size="41.8" font-weight="700"><tspan x="265.25" textLength="55.45" lengthAdjust="spacingAndGlyphs">Au</tspan> <tspan x="330.01" textLength="100.31" lengthAdjust="spacingAndGlyphs">fond,</tspan> <tspan x="438.21" textLength="23.57" lengthAdjust="spacingAndGlyphs">il</tspan> <tspan x="470.56" textLength="57.84" lengthAdjust="spacingAndGlyphs">est</tspan> <tspan x="539.82" textLength="96.43" lengthAdjust="spacingAndGlyphs">facile</tspan> <tspan x="650.82" textLength="46.91" lengthAdjust="spacingAndGlyphs">de</tspan> <tspan x="709.26" textLength="73.87" lengthAdjust="spacingAndGlyphs">voir</tspan> <tspan x="793.31" textLength="71.71" lengthAdjust="spacingAndGlyphs">que</tspan> <tspan x="875.1" textLength="33.72" lengthAdjust="spacingAndGlyphs">le</tspan> <tspan x="918.84" textLength="139.77" lengthAdjust="spacingAndGlyphs">SOLEIL</tspan> <tspan x="1069.13" textLength="142.17" lengthAdjust="spacingAndGlyphs">indique</tspan> <tspan x="1220.86" textLength="130.47" lengthAdjust="spacingAndGlyphs">l'heure</tspan> <tspan x="1362.14" textLength="89.52" lengthAdjust="spacingAndGlyphs">dans</tspan> <tspan x="1461.37" textLength="48.56" lengthAdjust="spacingAndGlyphs">un</tspan> <tspan x="1520.76" textLength="134.45" lengthAdjust="spacingAndGlyphs">thème!</tspan></text>
<text y="152.5" font-size="42.2"><tspan x="185.15" textLength="32.88" lengthAdjust="spacingAndGlyphs">Si</tspan> <tspan x="228.54" textLength="49.81" lengthAdjust="spacingAndGlyphs">on</tspan> <tspan x="287.63" textLength="70.85" lengthAdjust="spacingAndGlyphs">naît</tspan> <tspan x="369.84" textLength="18.88" lengthAdjust="spacingAndGlyphs">à</tspan> <tspan x="400.89" textLength="92.59" lengthAdjust="spacingAndGlyphs">midi,</tspan> <tspan x="502.32" textLength="31.97" lengthAdjust="spacingAndGlyphs">le</tspan> <tspan x="545.63" textLength="138.28" lengthAdjust="spacingAndGlyphs">SOLEIL</tspan> <tspan x="695.11" textLength="74.96" lengthAdjust="spacingAndGlyphs">sera</tspan> <tspan x="781.9" textLength="84.72" lengthAdjust="spacingAndGlyphs">haut</tspan> <tspan x="877.83" textLength="87.34" lengthAdjust="spacingAndGlyphs">dans</tspan> <tspan x="976.07" textLength="31.97" lengthAdjust="spacingAndGlyphs">le</tspan> <tspan x="1019.57" textLength="60.62" lengthAdjust="spacingAndGlyphs">ciel</tspan> <tspan x="1092.08" textLength="86.35" lengthAdjust="spacingAndGlyphs">mais</tspan> <tspan x="1189.84" textLength="18.88" lengthAdjust="spacingAndGlyphs">à</tspan> <tspan x="1222.14" textLength="129.28" lengthAdjust="spacingAndGlyphs">minuit,</tspan> <tspan x="1360.9" textLength="19.46" lengthAdjust="spacingAndGlyphs">il</tspan> <tspan x="1392.14" textLength="51.87" lengthAdjust="spacingAndGlyphs">est</tspan> <tspan x="1458.29" textLength="45.83" lengthAdjust="spacingAndGlyphs">au</tspan> <tspan x="1515.72" textLength="87.32" lengthAdjust="spacingAndGlyphs">fond</tspan> <tspan x="1613.24" textLength="47.22" lengthAdjust="spacingAndGlyphs">du</tspan> <tspan x="1672" textLength="63.31" lengthAdjust="spacingAndGlyphs">ciel</tspan></text>
</g>
<g font-family="Liberation Sans, Arial, sans-serif" fill="#0b0b0b" font-size="21.1" font-weight="700">
<text y="390.3" ><tspan x="50.01" textLength="47.68" lengthAdjust="spacingAndGlyphs">7h27</tspan> <tspan x="104.15" textLength="35.78" lengthAdjust="spacingAndGlyphs">AM</tspan></text>
<text y="419.4" ><tspan x="43.83" textLength="101.7" lengthAdjust="spacingAndGlyphs">Ascendant</tspan></text>
<text y="447.7" ><tspan x="39.86" textLength="110.83" lengthAdjust="spacingAndGlyphs">SCORPION</tspan></text>
<text y="399.3" ><tspan x="671.13" textLength="60.9" lengthAdjust="spacingAndGlyphs">10h00</tspan> <tspan x="737.55" textLength="35.78" lengthAdjust="spacingAndGlyphs">AM</tspan></text>
<text y="428.5" ><tspan x="671.03" textLength="101.9" lengthAdjust="spacingAndGlyphs">Ascendant</tspan></text>
<text y="457.2" ><tspan x="653.63" textLength="136.96" lengthAdjust="spacingAndGlyphs">CAPRICORNE</tspan></text>
<text y="399.5" ><tspan x="1363.13" textLength="44.28" lengthAdjust="spacingAndGlyphs">Midi</tspan></text>
<text y="428.5" ><tspan x="1333.73" textLength="102" lengthAdjust="spacingAndGlyphs">Ascendant</tspan></text>
<text y="457.2" ><tspan x="1337.16" textLength="95.9" lengthAdjust="spacingAndGlyphs">VERSEAU</tspan></text>
<text y="791.5" ><tspan x="44.72" textLength="61.42" lengthAdjust="spacingAndGlyphs">16h00</tspan> <tspan x="110.55" textLength="34.89" lengthAdjust="spacingAndGlyphs">PM</tspan></text>
<text y="820.5" ><tspan x="43.73" textLength="102" lengthAdjust="spacingAndGlyphs">Ascendant</tspan></text>
<text y="849.2" ><tspan x="44.85" textLength="100.34" lengthAdjust="spacingAndGlyphs">TAUREAU</tspan></text>
<text y="777.5" ><tspan x="671.84" textLength="60.79" lengthAdjust="spacingAndGlyphs">23h37</tspan> <tspan x="737.32" textLength="35.44" lengthAdjust="spacingAndGlyphs">PM</tspan></text>
<text y="806.5" ><tspan x="670.93" textLength="102.1" lengthAdjust="spacingAndGlyphs">Ascendant</tspan></text>
<text y="835.2" ><tspan x="684.56" textLength="75.21" lengthAdjust="spacingAndGlyphs">VIERGE</tspan></text>
<text y="803.5" ><tspan x="1335.02" textLength="61.11" lengthAdjust="spacingAndGlyphs">15h37</tspan> <tspan x="1400.32" textLength="35.44" lengthAdjust="spacingAndGlyphs">PM</tspan></text>
<text y="832.5" ><tspan x="1333.73" textLength="102" lengthAdjust="spacingAndGlyphs">Ascendant</tspan></text>
<text y="861.2" ><tspan x="1335.77" textLength="98.26" lengthAdjust="spacingAndGlyphs">BALANCE</tspan></text>
</g>
</svg></body></html>
